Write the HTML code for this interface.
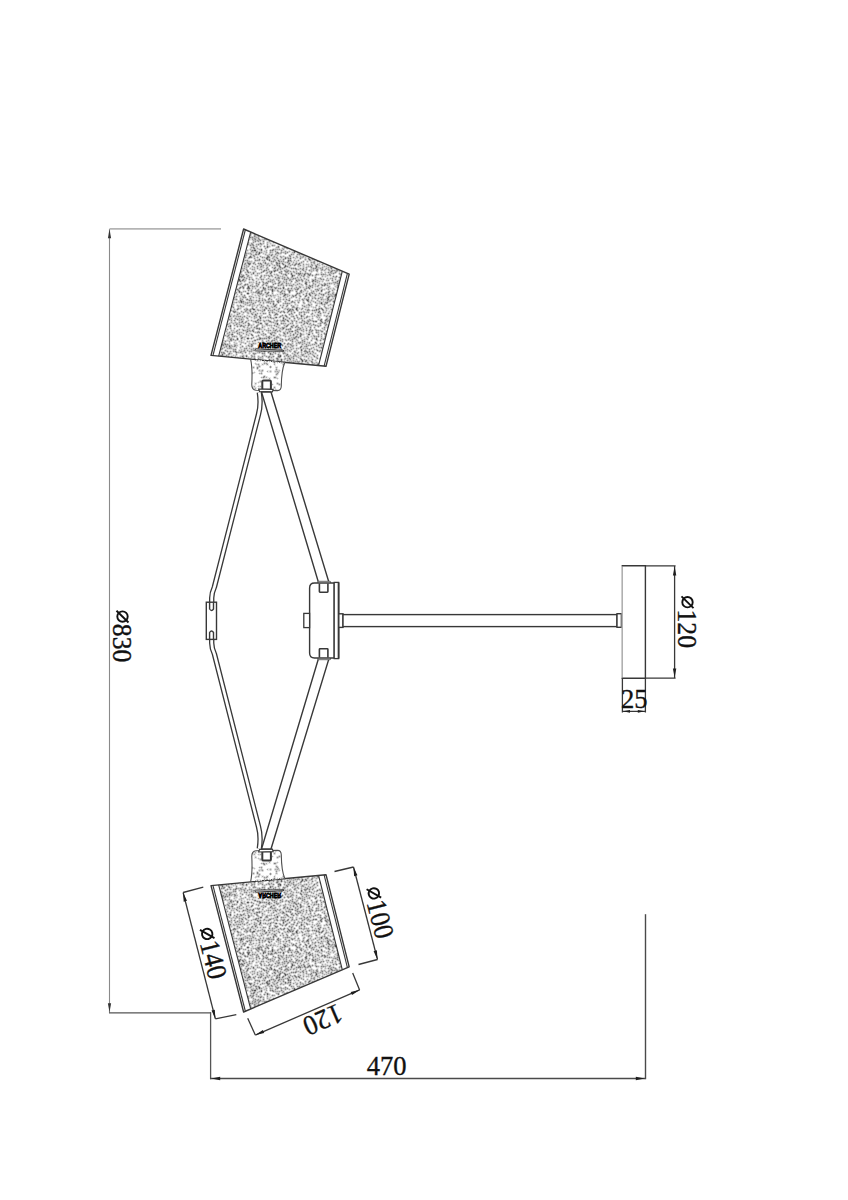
<!DOCTYPE html><html><head><meta charset="utf-8"><style>html,body{margin:0;padding:0;background:#fff;}svg{display:block;}</style></head><body><svg width="848" height="1200" viewBox="0 0 848 1200">
<defs>
<pattern id="stip" x="211" y="229" width="144" height="144" patternUnits="userSpaceOnUse"><path d="M12 0.5H13M14 0.5H15M20 0.5H21M30 0.5H31M33 0.5H34M37 0.5H38M39 0.5H40M43 0.5H45M55 0.5H56M59 0.5H61M62 0.5H63M73 0.5H74M80 0.5H81M82 0.5H83M88 0.5H89M92 0.5H93M94 0.5H96M97 0.5H99M104 0.5H105M106 0.5H107M110 0.5H111M112 0.5H113M116 0.5H117M118 0.5H119M139 0.5H140M141 0.5H142M21 1.5H23M36 1.5H38M39 1.5H41M56 1.5H57M65 1.5H66M71 1.5H72M84 1.5H85M86 1.5H87M95 1.5H96M101 1.5H102M103 1.5H104M107 1.5H108M109 1.5H110M111 1.5H114M115 1.5H116M120 1.5H121M134 1.5H135M136 1.5H137M23 2.5H24M30 2.5H33M41 2.5H42M54 2.5H55M57 2.5H58M65 2.5H66M78 2.5H80M92 2.5H93M96 2.5H97M102 2.5H103M107 2.5H108M109 2.5H110M116 2.5H117M120 2.5H121M125 2.5H126M128 2.5H129M133 2.5H135M136 2.5H138M140 2.5H141M4 3.5H5M21 3.5H22M26 3.5H27M29 3.5H30M41 3.5H42M45 3.5H46M50 3.5H51M55 3.5H56M57 3.5H58M68 3.5H69M70 3.5H72M74 3.5H76M77 3.5H79M116 3.5H117M121 3.5H122M124 3.5H125M133 3.5H134M5 4.5H6M14 4.5H16M17 4.5H18M21 4.5H22M45 4.5H46M50 4.5H52M54 4.5H55M68 4.5H69M71 4.5H72M76 4.5H78M90 4.5H91M94 4.5H95M96 4.5H97M98 4.5H99M120 4.5H121M132 4.5H133M136 4.5H137M138 4.5H139M140 4.5H142M6 5.5H7M15 5.5H16M31 5.5H32M41 5.5H42M55 5.5H56M70 5.5H71M80 5.5H81M89 5.5H90M94 5.5H95M99 5.5H100M108 5.5H109M116 5.5H117M119 5.5H121M131 5.5H132M138 5.5H139M142 5.5H143M7 6.5H8M17 6.5H18M21 6.5H22M35 6.5H37M50 6.5H51M60 6.5H61M62 6.5H63M71 6.5H72M84 6.5H86M89 6.5H90M96 6.5H97M108 6.5H110M115 6.5H116M123 6.5H124M139 6.5H141M142 6.5H144M6 7.5H7M21 7.5H22M27 7.5H28M58 7.5H59M60 7.5H61M62 7.5H63M65 7.5H66M70 7.5H71M84 7.5H85M94 7.5H95M97 7.5H98M114 7.5H115M116 7.5H118M122 7.5H123M128 7.5H129M1 8.5H2M7 8.5H8M15 8.5H16M50 8.5H51M52 8.5H53M65 8.5H66M79 8.5H80M109 8.5H111M112 8.5H113M118 8.5H119M120 8.5H121M123 8.5H124M132 8.5H134M135 8.5H136M0 9.5H1M13 9.5H14M15 9.5H16M26 9.5H27M34 9.5H35M49 9.5H51M52 9.5H53M66 9.5H67M68 9.5H69M70 9.5H71M74 9.5H75M79 9.5H81M91 9.5H92M94 9.5H95M114 9.5H115M117 9.5H119M120 9.5H122M126 9.5H127M130 9.5H132M133 9.5H135M7 10.5H8M11 10.5H12M35 10.5H36M59 10.5H60M73 10.5H75M76 10.5H77M96 10.5H97M100 10.5H101M102 10.5H103M107 10.5H108M112 10.5H113M114 10.5H115M129 10.5H130M141 10.5H142M143 10.5H144M0 11.5H1M7 11.5H9M14 11.5H16M17 11.5H18M26 11.5H27M36 11.5H38M39 11.5H41M67 11.5H69M70 11.5H71M94 11.5H95M99 11.5H100M101 11.5H102M103 11.5H104M107 11.5H108M121 11.5H122M129 11.5H130M136 11.5H137M141 11.5H142M143 11.5H144M8 12.5H9M24 12.5H25M38 12.5H39M50 12.5H51M55 12.5H56M82 12.5H83M84 12.5H85M86 12.5H87M92 12.5H93M98 12.5H100M111 12.5H113M114 12.5H115M118 12.5H119M122 12.5H124M128 12.5H129M136 12.5H137M139 12.5H141M7 13.5H8M22 13.5H24M32 13.5H34M39 13.5H40M45 13.5H47M50 13.5H51M60 13.5H61M70 13.5H72M80 13.5H81M93 13.5H95M106 13.5H107M113 13.5H114M118 13.5H119M123 13.5H124M129 13.5H130M135 13.5H136M139 13.5H140M143 13.5H144M8 14.5H9M43 14.5H45M61 14.5H62M63 14.5H64M65 14.5H66M71 14.5H73M80 14.5H81M82 14.5H83M84 14.5H85M99 14.5H100M105 14.5H106M114 14.5H115M122 14.5H123M127 14.5H129M130 14.5H131M136 14.5H137M143 14.5H144M1 15.5H2M5 15.5H6M21 15.5H22M28 15.5H29M43 15.5H44M53 15.5H54M58 15.5H59M64 15.5H65M67 15.5H68M79 15.5H80M126 15.5H127M134 15.5H135M1 16.5H2M4 16.5H5M6 16.5H7M8 16.5H10M14 16.5H15M27 16.5H28M29 16.5H30M33 16.5H34M51 16.5H53M54 16.5H55M59 16.5H60M66 16.5H67M68 16.5H70M77 16.5H79M104 16.5H106M107 16.5H108M137 16.5H138M139 16.5H141M3 17.5H4M15 17.5H16M28 17.5H29M30 17.5H31M38 17.5H39M60 17.5H61M64 17.5H65M71 17.5H72M94 17.5H95M105 17.5H106M129 17.5H131M4 18.5H5M16 18.5H17M31 18.5H32M36 18.5H37M47 18.5H49M50 18.5H51M52 18.5H53M59 18.5H60M70 18.5H71M77 18.5H79M90 18.5H91M95 18.5H96M102 18.5H103M109 18.5H110M117 18.5H118M119 18.5H120M1 19.5H2M4 19.5H5M25 19.5H26M30 19.5H31M38 19.5H39M51 19.5H52M57 19.5H58M61 19.5H62M69 19.5H70M79 19.5H80M86 19.5H87M91 19.5H92M95 19.5H96M97 19.5H98M107 19.5H108M109 19.5H110M117 19.5H118M133 19.5H134M137 19.5H138M31 20.5H32M37 20.5H38M53 20.5H54M56 20.5H57M58 20.5H59M75 20.5H76M77 20.5H78M82 20.5H83M84 20.5H85M86 20.5H87M90 20.5H91M96 20.5H97M102 20.5H103M107 20.5H108M128 20.5H130M134 20.5H135M140 20.5H141M4 21.5H5M11 21.5H12M16 21.5H17M28 21.5H29M38 21.5H39M47 21.5H48M52 21.5H53M75 21.5H76M77 21.5H78M79 21.5H80M81 21.5H83M84 21.5H85M103 21.5H104M109 21.5H110M113 21.5H115M119 21.5H120M130 21.5H131M134 21.5H135M137 21.5H138M142 21.5H143M4 22.5H5M10 22.5H11M13 22.5H14M19 22.5H20M32 22.5H34M37 22.5H38M56 22.5H57M67 22.5H68M80 22.5H81M105 22.5H106M107 22.5H109M120 22.5H121M124 22.5H125M142 22.5H143M10 23.5H11M13 23.5H14M20 23.5H21M63 23.5H64M79 23.5H80M91 23.5H93M97 23.5H98M123 23.5H124M134 23.5H135M137 23.5H138M12 24.5H14M43 24.5H44M56 24.5H58M62 24.5H64M71 24.5H72M77 24.5H78M79 24.5H80M84 24.5H86M92 24.5H94M122 24.5H124M129 24.5H130M131 24.5H132M138 24.5H139M141 24.5H142M49 25.5H50M51 25.5H52M70 25.5H71M73 25.5H74M75 25.5H76M77 25.5H78M99 25.5H103M117 25.5H118M129 25.5H130M131 25.5H132M139 25.5H140M6 26.5H7M8 26.5H9M13 26.5H15M16 26.5H18M25 26.5H26M28 26.5H29M38 26.5H39M50 26.5H51M53 26.5H54M68 26.5H69M70 26.5H72M73 26.5H74M83 26.5H85M95 26.5H96M100 26.5H101M109 26.5H110M116 26.5H117M123 26.5H124M138 26.5H139M7 27.5H8M15 27.5H16M20 27.5H21M27 27.5H28M36 27.5H38M45 27.5H46M47 27.5H48M54 27.5H55M67 27.5H68M75 27.5H76M81 27.5H82M83 27.5H84M87 27.5H88M95 27.5H97M105 27.5H107M108 27.5H109M119 27.5H120M122 27.5H124M125 27.5H126M133 27.5H134M137 27.5H138M141 27.5H142M4 28.5H5M8 28.5H9M10 28.5H11M17 28.5H18M19 28.5H20M32 28.5H33M36 28.5H37M48 28.5H49M60 28.5H61M67 28.5H69M96 28.5H97M105 28.5H106M107 28.5H108M110 28.5H111M130 28.5H131M132 28.5H133M134 28.5H135M136 28.5H137M141 28.5H142M4 29.5H8M19 29.5H20M25 29.5H26M35 29.5H36M41 29.5H42M45 29.5H46M49 29.5H51M68 29.5H69M81 29.5H82M87 29.5H88M92 29.5H93M99 29.5H100M108 29.5H109M110 29.5H112M131 29.5H133M136 29.5H137M142 29.5H143M11 30.5H12M25 30.5H26M27 30.5H28M38 30.5H39M42 30.5H43M50 30.5H51M60 30.5H61M75 30.5H76M82 30.5H83M85 30.5H87M90 30.5H91M96 30.5H97M105 30.5H106M117 30.5H118M132 30.5H133M135 30.5H136M0 31.5H1M6 31.5H7M11 31.5H12M39 31.5H40M41 31.5H42M55 31.5H56M81 31.5H82M91 31.5H92M105 31.5H106M125 31.5H126M129 31.5H130M131 31.5H133M136 31.5H137M138 31.5H139M142 31.5H144M0 32.5H1M5 32.5H6M10 32.5H11M15 32.5H16M19 32.5H20M42 32.5H43M49 32.5H51M55 32.5H56M57 32.5H58M88 32.5H90M98 32.5H99M108 32.5H109M110 32.5H111M130 32.5H131M135 32.5H137M138 32.5H140M141 32.5H142M9 33.5H10M11 33.5H12M14 33.5H15M17 33.5H18M28 33.5H29M46 33.5H47M50 33.5H51M56 33.5H57M58 33.5H59M63 33.5H64M87 33.5H88M93 33.5H94M95 33.5H96M97 33.5H98M105 33.5H106M107 33.5H108M109 33.5H110M112 33.5H113M123 33.5H124M132 33.5H133M134 33.5H135M139 33.5H140M141 33.5H142M143 33.5H144M15 34.5H16M25 34.5H26M29 34.5H33M45 34.5H46M62 34.5H63M80 34.5H81M93 34.5H95M96 34.5H97M98 34.5H99M105 34.5H106M110 34.5H111M112 34.5H114M123 34.5H124M130 34.5H132M133 34.5H135M0 35.5H1M10 35.5H11M17 35.5H18M28 35.5H29M40 35.5H42M46 35.5H47M70 35.5H71M75 35.5H76M90 35.5H91M109 35.5H110M118 35.5H119M123 35.5H125M126 35.5H127M143 35.5H144M0 36.5H3M7 36.5H8M39 36.5H41M42 36.5H44M60 36.5H61M71 36.5H72M85 36.5H86M94 36.5H95M110 36.5H111M114 36.5H115M117 36.5H118M119 36.5H120M123 36.5H124M125 36.5H126M127 36.5H128M139 36.5H140M141 36.5H142M3 37.5H4M27 37.5H28M29 37.5H30M31 37.5H32M44 37.5H45M53 37.5H55M59 37.5H61M70 37.5H71M72 37.5H73M80 37.5H81M82 37.5H83M84 37.5H85M90 37.5H91M94 37.5H95M102 37.5H104M109 37.5H111M118 37.5H119M122 37.5H123M126 37.5H127M138 37.5H139M140 37.5H141M142 37.5H143M0 38.5H1M2 38.5H3M18 38.5H20M38 38.5H39M54 38.5H55M66 38.5H67M85 38.5H87M90 38.5H91M125 38.5H126M130 38.5H131M136 38.5H138M139 38.5H140M3 39.5H4M8 39.5H9M53 39.5H54M58 39.5H59M60 39.5H61M76 39.5H78M113 39.5H114M122 39.5H123M140 39.5H141M143 39.5H144M7 40.5H9M29 40.5H31M37 40.5H39M45 40.5H46M52 40.5H53M61 40.5H62M78 40.5H80M97 40.5H98M108 40.5H109M127 40.5H129M34 41.5H35M40 41.5H41M45 41.5H46M47 41.5H48M49 41.5H50M68 41.5H69M71 41.5H72M80 41.5H82M83 41.5H84M96 41.5H97M115 41.5H117M129 41.5H130M0 42.5H1M7 42.5H9M17 42.5H18M40 42.5H42M49 42.5H50M72 42.5H73M91 42.5H92M97 42.5H98M103 42.5H105M107 42.5H108M109 42.5H110M111 42.5H113M115 42.5H117M8 43.5H9M14 43.5H15M31 43.5H32M53 43.5H55M62 43.5H63M64 43.5H65M73 43.5H74M92 43.5H93M97 43.5H99M101 43.5H102M105 43.5H106M107 43.5H108M126 43.5H128M129 43.5H131M132 43.5H134M135 43.5H136M143 43.5H144M15 44.5H16M31 44.5H32M33 44.5H34M44 44.5H45M51 44.5H52M57 44.5H58M61 44.5H63M64 44.5H65M66 44.5H68M82 44.5H83M104 44.5H105M108 44.5H109M115 44.5H117M125 44.5H126M141 44.5H142M12 45.5H13M33 45.5H34M38 45.5H39M49 45.5H50M51 45.5H53M61 45.5H62M68 45.5H70M78 45.5H79M102 45.5H104M123 45.5H124M127 45.5H128M142 45.5H144M1 46.5H2M3 46.5H4M11 46.5H12M13 46.5H14M34 46.5H35M39 46.5H40M41 46.5H42M62 46.5H63M70 46.5H71M79 46.5H80M95 46.5H96M108 46.5H110M121 46.5H122M123 46.5H125M126 46.5H127M128 46.5H129M133 46.5H134M0 47.5H1M2 47.5H3M7 47.5H8M34 47.5H35M41 47.5H42M43 47.5H44M47 47.5H49M56 47.5H57M63 47.5H64M77 47.5H78M79 47.5H80M84 47.5H86M94 47.5H95M99 47.5H101M102 47.5H103M117 47.5H119M120 47.5H121M127 47.5H128M129 47.5H130M139 47.5H140M6 48.5H7M24 48.5H26M44 48.5H45M46 48.5H47M51 48.5H52M56 48.5H57M59 48.5H61M62 48.5H63M78 48.5H79M91 48.5H92M94 48.5H96M106 48.5H108M112 48.5H114M115 48.5H116M117 48.5H119M126 48.5H127M130 48.5H131M17 49.5H18M24 49.5H25M26 49.5H27M42 49.5H43M54 49.5H55M60 49.5H62M91 49.5H92M98 49.5H99M100 49.5H103M113 49.5H114M127 49.5H128M129 49.5H130M8 50.5H10M25 50.5H26M30 50.5H31M36 50.5H37M43 50.5H45M69 50.5H71M98 50.5H99M114 50.5H115M126 50.5H127M130 50.5H132M22 51.5H23M37 51.5H38M39 51.5H41M44 51.5H45M48 51.5H50M53 51.5H55M64 51.5H65M70 51.5H72M82 51.5H83M93 51.5H94M113 51.5H114M123 51.5H124M138 51.5H139M6 52.5H7M15 52.5H16M22 52.5H23M35 52.5H36M37 52.5H38M43 52.5H44M47 52.5H48M49 52.5H50M53 52.5H55M66 52.5H67M77 52.5H78M83 52.5H84M89 52.5H90M99 52.5H100M114 52.5H115M118 52.5H119M120 52.5H121M138 52.5H140M2 53.5H3M5 53.5H6M7 53.5H8M16 53.5H17M27 53.5H29M31 53.5H33M34 53.5H35M50 53.5H51M65 53.5H67M78 53.5H79M81 53.5H82M89 53.5H91M92 53.5H93M100 53.5H101M109 53.5H111M112 53.5H113M114 53.5H116M129 53.5H131M5 54.5H6M7 54.5H9M17 54.5H18M33 54.5H34M43 54.5H44M49 54.5H50M60 54.5H61M81 54.5H82M91 54.5H92M97 54.5H98M99 54.5H100M111 54.5H112M138 54.5H139M4 55.5H5M10 55.5H11M12 55.5H13M17 55.5H18M31 55.5H33M38 55.5H39M50 55.5H51M57 55.5H58M65 55.5H66M73 55.5H74M92 55.5H94M97 55.5H98M99 55.5H101M106 55.5H107M121 55.5H122M138 55.5H140M0 56.5H1M3 56.5H4M5 56.5H6M12 56.5H14M16 56.5H17M48 56.5H49M53 56.5H54M58 56.5H59M63 56.5H64M109 56.5H110M119 56.5H120M122 56.5H123M16 57.5H18M23 57.5H24M28 57.5H29M34 57.5H35M48 57.5H49M53 57.5H55M64 57.5H65M70 57.5H71M74 57.5H75M76 57.5H78M83 57.5H84M86 57.5H87M93 57.5H94M108 57.5H110M114 57.5H116M131 57.5H132M136 57.5H137M0 58.5H1M5 58.5H7M13 58.5H14M17 58.5H18M24 58.5H25M26 58.5H28M35 58.5H36M39 58.5H40M47 58.5H48M55 58.5H56M70 58.5H71M76 58.5H77M78 58.5H80M82 58.5H83M103 58.5H104M105 58.5H106M114 58.5H115M120 58.5H122M123 58.5H124M132 58.5H133M136 58.5H137M6 59.5H7M8 59.5H9M14 59.5H15M30 59.5H31M46 59.5H47M50 59.5H51M75 59.5H76M90 59.5H92M100 59.5H101M102 59.5H104M112 59.5H113M124 59.5H126M130 59.5H131M143 59.5H144M10 60.5H11M12 60.5H14M15 60.5H16M17 60.5H18M29 60.5H30M31 60.5H32M33 60.5H34M35 60.5H36M42 60.5H44M50 60.5H51M88 60.5H90M91 60.5H92M96 60.5H98M101 60.5H102M125 60.5H126M130 60.5H132M141 60.5H142M8 61.5H9M12 61.5H13M29 61.5H30M31 61.5H32M35 61.5H36M44 61.5H45M56 61.5H57M68 61.5H70M75 61.5H76M83 61.5H84M87 61.5H89M97 61.5H98M112 61.5H113M114 61.5H115M116 61.5H117M119 61.5H120M124 61.5H125M137 61.5H138M140 61.5H141M0 62.5H1M2 62.5H4M8 62.5H9M24 62.5H25M36 62.5H37M38 62.5H39M43 62.5H44M52 62.5H53M56 62.5H57M58 62.5H59M64 62.5H66M76 62.5H77M82 62.5H83M99 62.5H100M108 62.5H109M114 62.5H115M120 62.5H121M123 62.5H124M125 62.5H126M130 62.5H132M136 62.5H137M1 63.5H2M3 63.5H5M14 63.5H16M17 63.5H18M19 63.5H20M33 63.5H34M38 63.5H39M66 63.5H67M84 63.5H85M93 63.5H95M97 63.5H98M104 63.5H105M106 63.5H108M111 63.5H112M113 63.5H114M119 63.5H121M124 63.5H125M141 63.5H142M5 64.5H6M14 64.5H15M16 64.5H17M18 64.5H19M27 64.5H28M39 64.5H40M43 64.5H44M58 64.5H59M65 64.5H68M79 64.5H80M84 64.5H85M93 64.5H94M106 64.5H107M131 64.5H132M143 64.5H144M14 65.5H15M20 65.5H22M27 65.5H28M32 65.5H33M34 65.5H36M38 65.5H39M43 65.5H44M45 65.5H46M63 65.5H64M79 65.5H81M82 65.5H84M115 65.5H116M138 65.5H140M141 65.5H142M2 66.5H3M8 66.5H9M11 66.5H12M14 66.5H15M24 66.5H25M27 66.5H28M37 66.5H38M42 66.5H43M53 66.5H54M68 66.5H69M70 66.5H72M86 66.5H87M90 66.5H92M97 66.5H98M102 66.5H103M109 66.5H110M114 66.5H115M137 66.5H138M139 66.5H140M9 67.5H10M14 67.5H15M21 67.5H23M35 67.5H36M43 67.5H44M46 67.5H47M50 67.5H51M52 67.5H53M65 67.5H66M70 67.5H71M79 67.5H80M86 67.5H88M105 67.5H107M113 67.5H114M125 67.5H126M143 67.5H144M0 68.5H1M11 68.5H12M18 68.5H19M26 68.5H28M37 68.5H38M50 68.5H51M52 68.5H53M54 68.5H55M56 68.5H58M61 68.5H62M66 68.5H67M71 68.5H72M77 68.5H78M83 68.5H84M87 68.5H88M90 68.5H91M92 68.5H93M95 68.5H96M105 68.5H107M114 68.5H115M119 68.5H121M124 68.5H125M143 68.5H144M18 69.5H20M26 69.5H27M37 69.5H38M41 69.5H42M43 69.5H45M46 69.5H47M54 69.5H55M56 69.5H57M61 69.5H63M64 69.5H65M70 69.5H72M76 69.5H77M81 69.5H82M84 69.5H85M86 69.5H87M90 69.5H91M113 69.5H114M119 69.5H120M125 69.5H126M128 69.5H129M6 70.5H7M10 70.5H11M12 70.5H14M43 70.5H45M46 70.5H47M55 70.5H56M83 70.5H86M89 70.5H90M99 70.5H100M102 70.5H104M108 70.5H109M123 70.5H124M128 70.5H129M2 71.5H3M5 71.5H6M7 71.5H8M19 71.5H20M33 71.5H35M63 71.5H65M70 71.5H72M80 71.5H81M82 71.5H83M90 71.5H91M94 71.5H95M103 71.5H104M127 71.5H128M139 71.5H140M0 72.5H1M2 72.5H3M18 72.5H19M24 72.5H25M35 72.5H36M76 72.5H77M85 72.5H86M89 72.5H90M95 72.5H96M120 72.5H121M125 72.5H126M17 73.5H18M46 73.5H47M65 73.5H66M70 73.5H72M94 73.5H95M96 73.5H97M101 73.5H102M119 73.5H120M121 73.5H122M130 73.5H131M16 74.5H17M20 74.5H21M24 74.5H25M26 74.5H28M45 74.5H46M47 74.5H48M50 74.5H51M54 74.5H55M64 74.5H65M68 74.5H69M81 74.5H83M85 74.5H87M88 74.5H89M91 74.5H92M96 74.5H97M101 74.5H102M103 74.5H104M117 74.5H119M120 74.5H121M122 74.5H123M125 74.5H126M131 74.5H132M140 74.5H141M5 75.5H6M11 75.5H13M20 75.5H21M25 75.5H26M27 75.5H29M30 75.5H32M44 75.5H46M53 75.5H54M55 75.5H56M57 75.5H59M60 75.5H61M68 75.5H69M70 75.5H71M81 75.5H82M87 75.5H88M90 75.5H91M94 75.5H95M104 75.5H105M107 75.5H108M122 75.5H123M130 75.5H132M141 75.5H142M1 76.5H2M5 76.5H6M7 76.5H8M9 76.5H10M23 76.5H24M53 76.5H54M58 76.5H60M66 76.5H67M74 76.5H75M101 76.5H102M107 76.5H108M109 76.5H111M123 76.5H124M125 76.5H126M134 76.5H135M140 76.5H141M7 77.5H9M12 77.5H13M23 77.5H24M25 77.5H26M35 77.5H38M39 77.5H40M44 77.5H45M47 77.5H49M66 77.5H67M68 77.5H69M73 77.5H74M77 77.5H78M79 77.5H80M84 77.5H85M87 77.5H88M90 77.5H91M103 77.5H104M106 77.5H107M115 77.5H117M118 77.5H119M120 77.5H121M122 77.5H123M124 77.5H125M128 77.5H129M130 77.5H132M141 77.5H143M33 78.5H35M36 78.5H37M67 78.5H68M69 78.5H70M73 78.5H74M78 78.5H79M89 78.5H91M99 78.5H100M111 78.5H113M127 78.5H128M129 78.5H131M142 78.5H143M20 79.5H22M24 79.5H26M32 79.5H33M37 79.5H39M47 79.5H49M60 79.5H61M70 79.5H71M93 79.5H94M98 79.5H99M101 79.5H102M103 79.5H104M112 79.5H114M121 79.5H123M134 79.5H135M136 79.5H137M141 79.5H142M8 80.5H9M21 80.5H22M30 80.5H31M69 80.5H70M83 80.5H84M92 80.5H93M99 80.5H101M113 80.5H114M118 80.5H119M123 80.5H125M126 80.5H128M129 80.5H130M136 80.5H137M141 80.5H142M4 81.5H6M7 81.5H8M27 81.5H28M29 81.5H30M31 81.5H33M41 81.5H42M69 81.5H70M74 81.5H76M84 81.5H85M89 81.5H90M91 81.5H92M93 81.5H94M109 81.5H111M117 81.5H118M124 81.5H125M126 81.5H127M4 82.5H5M6 82.5H7M8 82.5H10M15 82.5H16M18 82.5H20M27 82.5H28M41 82.5H42M46 82.5H47M48 82.5H49M54 82.5H55M56 82.5H57M64 82.5H65M74 82.5H76M84 82.5H86M99 82.5H101M116 82.5H117M127 82.5H128M131 82.5H132M136 82.5H137M141 82.5H142M21 83.5H22M47 83.5H49M55 83.5H56M78 83.5H79M100 83.5H101M102 83.5H103M110 83.5H111M116 83.5H117M126 83.5H127M134 83.5H135M140 83.5H141M142 83.5H143M6 84.5H7M8 84.5H9M18 84.5H20M21 84.5H23M24 84.5H25M30 84.5H31M33 84.5H34M35 84.5H36M60 84.5H61M67 84.5H69M70 84.5H71M72 84.5H73M74 84.5H76M84 84.5H85M91 84.5H92M96 84.5H97M98 84.5H100M103 84.5H104M105 84.5H106M111 84.5H112M115 84.5H116M119 84.5H120M124 84.5H126M135 84.5H137M140 84.5H141M5 85.5H7M22 85.5H23M24 85.5H25M29 85.5H30M35 85.5H36M38 85.5H40M47 85.5H49M55 85.5H56M60 85.5H61M62 85.5H63M70 85.5H71M72 85.5H74M75 85.5H76M84 85.5H85M86 85.5H87M91 85.5H92M104 85.5H105M112 85.5H113M114 85.5H116M118 85.5H120M34 86.5H35M39 86.5H41M47 86.5H48M55 86.5H56M67 86.5H69M76 86.5H78M83 86.5H84M87 86.5H88M94 86.5H96M97 86.5H100M133 86.5H134M135 86.5H137M15 87.5H17M41 87.5H42M51 87.5H52M62 87.5H63M66 87.5H68M77 87.5H78M84 87.5H85M87 87.5H88M94 87.5H95M110 87.5H111M112 87.5H113M127 87.5H128M135 87.5H136M141 87.5H142M0 88.5H1M2 88.5H3M47 88.5H48M70 88.5H71M74 88.5H75M84 88.5H85M99 88.5H101M102 88.5H103M104 88.5H105M114 88.5H115M130 88.5H131M136 88.5H137M1 89.5H2M3 89.5H5M12 89.5H14M15 89.5H17M33 89.5H35M39 89.5H40M41 89.5H42M51 89.5H52M55 89.5H57M66 89.5H70M85 89.5H86M96 89.5H98M99 89.5H100M105 89.5H106M111 89.5H112M114 89.5H115M122 89.5H124M125 89.5H126M141 89.5H142M143 89.5H144M5 90.5H6M7 90.5H8M22 90.5H23M35 90.5H36M38 90.5H40M41 90.5H43M44 90.5H46M51 90.5H52M53 90.5H55M58 90.5H60M61 90.5H62M64 90.5H66M67 90.5H69M70 90.5H71M81 90.5H82M94 90.5H96M102 90.5H103M113 90.5H114M15 91.5H16M25 91.5H26M33 91.5H35M60 91.5H61M78 91.5H79M88 91.5H89M94 91.5H95M125 91.5H126M134 91.5H136M137 91.5H139M14 92.5H15M22 92.5H23M25 92.5H26M33 92.5H34M38 92.5H40M50 92.5H52M67 92.5H69M75 92.5H76M79 92.5H80M87 92.5H88M108 92.5H109M112 92.5H113M118 92.5H119M135 92.5H137M5 93.5H6M9 93.5H10M11 93.5H12M13 93.5H14M17 93.5H18M38 93.5H39M41 93.5H42M51 93.5H53M67 93.5H68M75 93.5H77M100 93.5H102M106 93.5H108M117 93.5H118M140 93.5H142M143 93.5H144M5 94.5H7M8 94.5H9M14 94.5H15M35 94.5H36M39 94.5H40M41 94.5H42M43 94.5H45M59 94.5H60M61 94.5H62M76 94.5H77M87 94.5H88M101 94.5H102M103 94.5H104M116 94.5H117M131 94.5H132M140 94.5H141M2 95.5H3M7 95.5H8M9 95.5H10M11 95.5H12M20 95.5H22M35 95.5H36M45 95.5H46M52 95.5H54M61 95.5H63M83 95.5H85M87 95.5H88M89 95.5H90M94 95.5H96M112 95.5H113M118 95.5H119M126 95.5H127M132 95.5H133M2 96.5H4M13 96.5H14M43 96.5H45M48 96.5H49M78 96.5H80M84 96.5H85M95 96.5H97M126 96.5H127M129 96.5H130M143 96.5H144M5 97.5H6M11 97.5H12M22 97.5H23M24 97.5H25M35 97.5H36M38 97.5H39M42 97.5H43M47 97.5H48M55 97.5H56M57 97.5H58M61 97.5H63M69 97.5H71M77 97.5H78M88 97.5H90M92 97.5H93M101 97.5H103M110 97.5H111M112 97.5H113M121 97.5H122M132 97.5H134M136 97.5H137M2 98.5H6M7 98.5H8M9 98.5H10M16 98.5H17M22 98.5H23M24 98.5H26M27 98.5H29M30 98.5H32M49 98.5H50M54 98.5H55M56 98.5H57M58 98.5H59M63 98.5H65M76 98.5H77M78 98.5H79M93 98.5H94M106 98.5H107M108 98.5H109M110 98.5H111M118 98.5H119M122 98.5H123M132 98.5H133M140 98.5H141M0 99.5H1M3 99.5H4M5 99.5H6M7 99.5H8M9 99.5H11M12 99.5H13M17 99.5H18M27 99.5H28M29 99.5H31M32 99.5H33M34 99.5H35M54 99.5H55M59 99.5H60M64 99.5H65M82 99.5H84M93 99.5H94M102 99.5H103M105 99.5H106M115 99.5H116M118 99.5H120M125 99.5H126M141 99.5H142M1 100.5H2M3 100.5H4M5 100.5H6M13 100.5H14M18 100.5H19M21 100.5H22M24 100.5H26M40 100.5H41M44 100.5H45M60 100.5H61M67 100.5H68M73 100.5H74M83 100.5H84M97 100.5H98M102 100.5H103M108 100.5H109M110 100.5H111M129 100.5H130M0 101.5H1M9 101.5H11M12 101.5H13M14 101.5H15M17 101.5H18M24 101.5H25M29 101.5H31M46 101.5H47M49 101.5H50M72 101.5H74M82 101.5H83M103 101.5H104M119 101.5H120M132 101.5H134M143 101.5H144M9 102.5H12M17 102.5H18M49 102.5H50M54 102.5H55M71 102.5H72M88 102.5H90M94 102.5H95M96 102.5H97M102 102.5H103M119 102.5H120M136 102.5H137M141 102.5H142M2 103.5H3M11 103.5H12M14 103.5H15M33 103.5H34M40 103.5H42M50 103.5H51M53 103.5H54M67 103.5H69M70 103.5H71M82 103.5H83M90 103.5H92M93 103.5H95M96 103.5H97M102 103.5H103M109 103.5H110M116 103.5H117M130 103.5H132M141 103.5H142M143 103.5H144M2 104.5H4M6 104.5H7M11 104.5H12M24 104.5H25M41 104.5H42M43 104.5H44M55 104.5H57M67 104.5H68M69 104.5H70M71 104.5H72M81 104.5H82M93 104.5H95M104 104.5H105M109 104.5H110M111 104.5H112M122 104.5H123M130 104.5H131M142 104.5H143M11 105.5H12M13 105.5H14M25 105.5H26M33 105.5H34M42 105.5H43M46 105.5H47M48 105.5H49M58 105.5H59M65 105.5H66M70 105.5H72M77 105.5H78M94 105.5H95M100 105.5H101M103 105.5H104M112 105.5H113M123 105.5H124M139 105.5H140M143 105.5H144M3 106.5H4M8 106.5H9M19 106.5H20M26 106.5H28M33 106.5H34M39 106.5H40M44 106.5H45M49 106.5H50M56 106.5H58M65 106.5H66M67 106.5H68M76 106.5H77M84 106.5H85M87 106.5H88M93 106.5H94M95 106.5H96M99 106.5H100M125 106.5H126M133 106.5H134M137 106.5H138M13 107.5H14M19 107.5H20M36 107.5H37M38 107.5H39M40 107.5H41M43 107.5H44M49 107.5H50M51 107.5H52M53 107.5H54M70 107.5H72M92 107.5H93M94 107.5H95M98 107.5H99M123 107.5H124M129 107.5H131M5 108.5H6M13 108.5H14M15 108.5H16M27 108.5H29M38 108.5H40M44 108.5H45M46 108.5H47M62 108.5H63M70 108.5H71M73 108.5H74M75 108.5H77M91 108.5H92M99 108.5H100M108 108.5H109M112 108.5H113M128 108.5H129M140 108.5H141M142 108.5H143M4 109.5H5M23 109.5H24M34 109.5H35M43 109.5H44M45 109.5H46M61 109.5H62M72 109.5H74M75 109.5H77M88 109.5H89M92 109.5H93M98 109.5H99M115 109.5H116M134 109.5H135M143 109.5H144M0 110.5H1M4 110.5H5M6 110.5H7M10 110.5H12M13 110.5H14M15 110.5H16M35 110.5H36M38 110.5H40M41 110.5H43M59 110.5H61M87 110.5H88M89 110.5H90M99 110.5H100M102 110.5H103M107 110.5H109M115 110.5H116M123 110.5H124M138 110.5H140M0 111.5H2M8 111.5H9M10 111.5H11M32 111.5H33M34 111.5H36M37 111.5H38M39 111.5H41M49 111.5H50M54 111.5H55M59 111.5H60M67 111.5H68M73 111.5H74M83 111.5H84M95 111.5H96M97 111.5H98M104 111.5H105M111 111.5H112M118 111.5H120M123 111.5H124M125 111.5H126M4 112.5H5M6 112.5H7M21 112.5H23M25 112.5H26M33 112.5H34M45 112.5H47M48 112.5H49M53 112.5H54M68 112.5H69M74 112.5H75M76 112.5H77M78 112.5H79M95 112.5H96M97 112.5H98M101 112.5H102M103 112.5H104M107 112.5H109M110 112.5H111M112 112.5H113M117 112.5H118M120 112.5H121M128 112.5H129M141 112.5H142M3 113.5H4M5 113.5H6M15 113.5H16M17 113.5H18M19 113.5H20M26 113.5H28M39 113.5H41M45 113.5H46M54 113.5H55M61 113.5H62M67 113.5H69M74 113.5H75M76 113.5H77M78 113.5H79M83 113.5H84M106 113.5H107M108 113.5H109M124 113.5H125M128 113.5H129M140 113.5H141M142 113.5H143M3 114.5H4M22 114.5H23M28 114.5H29M31 114.5H32M46 114.5H47M53 114.5H54M55 114.5H56M60 114.5H61M62 114.5H63M65 114.5H66M71 114.5H72M75 114.5H76M100 114.5H101M131 114.5H133M135 114.5H136M21 115.5H22M27 115.5H28M33 115.5H34M35 115.5H37M45 115.5H47M48 115.5H49M67 115.5H68M74 115.5H75M83 115.5H84M87 115.5H88M89 115.5H90M113 115.5H114M126 115.5H127M136 115.5H137M141 115.5H143M5 116.5H6M27 116.5H29M32 116.5H33M34 116.5H35M50 116.5H51M52 116.5H54M65 116.5H66M73 116.5H74M89 116.5H90M138 116.5H139M5 117.5H6M27 117.5H29M42 117.5H43M46 117.5H47M48 117.5H49M59 117.5H61M69 117.5H71M72 117.5H73M83 117.5H85M86 117.5H87M88 117.5H89M98 117.5H99M100 117.5H102M103 117.5H104M112 117.5H114M124 117.5H126M132 117.5H133M138 117.5H140M6 118.5H7M26 118.5H27M37 118.5H38M43 118.5H44M45 118.5H46M47 118.5H48M60 118.5H61M62 118.5H63M69 118.5H70M72 118.5H73M83 118.5H85M97 118.5H98M99 118.5H100M104 118.5H105M106 118.5H107M112 118.5H113M115 118.5H116M120 118.5H121M130 118.5H131M140 118.5H141M142 118.5H144M5 119.5H6M14 119.5H15M26 119.5H27M28 119.5H29M31 119.5H32M48 119.5H49M50 119.5H51M55 119.5H56M71 119.5H72M77 119.5H79M104 119.5H105M106 119.5H108M114 119.5H117M119 119.5H120M129 119.5H130M131 119.5H132M138 119.5H139M141 119.5H142M5 120.5H6M12 120.5H14M27 120.5H28M48 120.5H49M51 120.5H52M65 120.5H66M72 120.5H73M83 120.5H85M88 120.5H89M101 120.5H102M107 120.5H109M115 120.5H117M120 120.5H121M130 120.5H131M137 120.5H139M140 120.5H141M11 121.5H12M17 121.5H19M20 121.5H21M49 121.5H50M59 121.5H60M72 121.5H73M81 121.5H83M92 121.5H93M96 121.5H97M100 121.5H101M104 121.5H105M119 121.5H120M141 121.5H142M2 122.5H3M45 122.5H46M55 122.5H57M86 122.5H87M88 122.5H89M103 122.5H104M105 122.5H106M111 122.5H112M122 122.5H124M0 123.5H1M14 123.5H16M21 123.5H22M37 123.5H38M70 123.5H71M75 123.5H76M77 123.5H79M80 123.5H81M92 123.5H93M105 123.5H106M107 123.5H108M131 123.5H132M136 123.5H138M7 124.5H8M9 124.5H10M16 124.5H17M33 124.5H34M35 124.5H36M49 124.5H50M56 124.5H57M66 124.5H67M69 124.5H70M77 124.5H78M88 124.5H90M109 124.5H110M121 124.5H122M123 124.5H124M131 124.5H132M138 124.5H139M0 125.5H1M8 125.5H9M21 125.5H22M23 125.5H24M30 125.5H31M33 125.5H35M36 125.5H38M39 125.5H40M45 125.5H46M50 125.5H51M63 125.5H64M65 125.5H66M70 125.5H72M78 125.5H79M80 125.5H81M88 125.5H89M95 125.5H96M107 125.5H108M113 125.5H114M115 125.5H116M135 125.5H137M19 126.5H20M26 126.5H27M28 126.5H29M44 126.5H45M46 126.5H47M48 126.5H49M50 126.5H51M56 126.5H58M63 126.5H64M72 126.5H73M81 126.5H82M99 126.5H101M104 126.5H105M115 126.5H116M123 126.5H124M27 127.5H28M38 127.5H40M101 127.5H102M107 127.5H108M113 127.5H114M118 127.5H119M128 127.5H129M141 127.5H142M11 128.5H13M16 128.5H17M34 128.5H35M54 128.5H55M63 128.5H65M70 128.5H71M72 128.5H73M75 128.5H76M84 128.5H85M92 128.5H93M102 128.5H103M107 128.5H109M140 128.5H141M142 128.5H143M2 129.5H3M13 129.5H14M16 129.5H17M31 129.5H32M34 129.5H35M36 129.5H37M41 129.5H42M56 129.5H57M63 129.5H64M71 129.5H73M84 129.5H85M86 129.5H87M91 129.5H93M94 129.5H95M99 129.5H100M102 129.5H103M104 129.5H105M128 129.5H129M1 130.5H2M3 130.5H4M9 130.5H13M25 130.5H27M36 130.5H38M46 130.5H47M52 130.5H54M55 130.5H56M64 130.5H65M88 130.5H89M99 130.5H100M103 130.5H104M107 130.5H109M112 130.5H114M120 130.5H122M123 130.5H124M125 130.5H126M129 130.5H130M134 130.5H135M139 130.5H140M143 130.5H144M0 131.5H1M7 131.5H8M20 131.5H21M27 131.5H28M31 131.5H33M41 131.5H42M46 131.5H47M48 131.5H49M50 131.5H51M56 131.5H57M72 131.5H73M74 131.5H75M87 131.5H88M102 131.5H103M109 131.5H110M113 131.5H114M117 131.5H118M121 131.5H122M123 131.5H124M126 131.5H127M134 131.5H135M8 132.5H9M10 132.5H11M13 132.5H14M18 132.5H19M20 132.5H21M33 132.5H35M42 132.5H43M44 132.5H45M51 132.5H52M57 132.5H58M65 132.5H66M75 132.5H76M102 132.5H104M106 132.5H107M110 132.5H111M114 132.5H115M116 132.5H117M118 132.5H119M120 132.5H121M125 132.5H126M136 132.5H137M143 132.5H144M0 133.5H1M4 133.5H5M16 133.5H18M19 133.5H20M35 133.5H36M41 133.5H43M49 133.5H51M56 133.5H57M58 133.5H59M60 133.5H61M63 133.5H65M75 133.5H77M92 133.5H94M98 133.5H100M108 133.5H109M126 133.5H128M136 133.5H137M3 134.5H4M6 134.5H7M29 134.5H30M31 134.5H32M34 134.5H35M36 134.5H37M40 134.5H41M56 134.5H57M58 134.5H60M68 134.5H70M80 134.5H82M83 134.5H85M88 134.5H89M93 134.5H94M95 134.5H96M109 134.5H110M129 134.5H131M137 134.5H138M5 135.5H6M15 135.5H16M21 135.5H22M23 135.5H24M25 135.5H26M28 135.5H30M31 135.5H32M37 135.5H38M39 135.5H40M49 135.5H51M66 135.5H68M72 135.5H73M76 135.5H77M83 135.5H84M87 135.5H88M96 135.5H97M98 135.5H99M104 135.5H105M131 135.5H132M134 135.5H135M136 135.5H137M138 135.5H140M6 136.5H7M8 136.5H9M10 136.5H11M24 136.5H25M28 136.5H29M38 136.5H39M40 136.5H41M51 136.5H52M75 136.5H76M86 136.5H87M94 136.5H95M103 136.5H104M113 136.5H114M117 136.5H118M120 136.5H121M130 136.5H131M3 137.5H4M5 137.5H6M7 137.5H8M21 137.5H23M27 137.5H28M31 137.5H32M42 137.5H43M52 137.5H53M56 137.5H57M75 137.5H76M112 137.5H113M117 137.5H119M120 137.5H122M123 137.5H124M127 137.5H128M131 137.5H132M134 137.5H136M1 138.5H2M3 138.5H5M9 138.5H11M28 138.5H29M30 138.5H31M32 138.5H33M39 138.5H40M41 138.5H42M47 138.5H49M52 138.5H54M55 138.5H57M59 138.5H61M62 138.5H63M70 138.5H71M107 138.5H108M113 138.5H114M128 138.5H129M143 138.5H144M0 139.5H1M19 139.5H20M27 139.5H29M30 139.5H31M60 139.5H62M69 139.5H70M77 139.5H79M80 139.5H81M85 139.5H86M90 139.5H91M108 139.5H109M117 139.5H119M129 139.5H130M137 139.5H139M9 140.5H10M27 140.5H28M31 140.5H32M33 140.5H35M53 140.5H54M65 140.5H67M68 140.5H70M79 140.5H80M81 140.5H82M86 140.5H87M91 140.5H92M95 140.5H96M119 140.5H120M130 140.5H131M139 140.5H140M9 141.5H10M15 141.5H16M17 141.5H18M22 141.5H24M28 141.5H29M39 141.5H40M45 141.5H47M48 141.5H49M50 141.5H51M52 141.5H53M85 141.5H86M90 141.5H91M92 141.5H93M94 141.5H95M129 141.5H130M14 142.5H15M16 142.5H17M18 142.5H19M20 142.5H21M22 142.5H23M28 142.5H29M39 142.5H40M45 142.5H46M51 142.5H52M62 142.5H63M66 142.5H67M68 142.5H69M78 142.5H80M81 142.5H83M86 142.5H87M88 142.5H90M91 142.5H92M108 142.5H109M110 142.5H111M125 142.5H126M130 142.5H131M142 142.5H144M7 143.5H8M12 143.5H13M29 143.5H30M31 143.5H33M36 143.5H37M44 143.5H45M52 143.5H53M54 143.5H55M58 143.5H60M61 143.5H62M63 143.5H64M68 143.5H69M73 143.5H74M83 143.5H84M85 143.5H86M92 143.5H93M94 143.5H95M98 143.5H99M109 143.5H110M114 143.5H115M118 143.5H119M126 143.5H127M133 143.5H135M140 143.5H141" stroke="#eeeeee" stroke-width="1"/><path d="M4 0.5H7M8 0.5H12M15 0.5H17M18 0.5H20M28 0.5H30M36 0.5H37M38 0.5H39M40 0.5H41M52 0.5H53M61 0.5H62M63 0.5H64M66 0.5H67M81 0.5H82M91 0.5H92M93 0.5H94M100 0.5H101M107 0.5H108M109 0.5H110M111 0.5H112M123 0.5H124M125 0.5H126M128 0.5H129M130 0.5H131M134 0.5H135M142 0.5H144M0 1.5H1M9 1.5H11M12 1.5H13M14 1.5H15M23 1.5H25M30 1.5H31M33 1.5H34M38 1.5H39M52 1.5H53M59 1.5H60M70 1.5H71M80 1.5H81M87 1.5H88M108 1.5H109M114 1.5H115M125 1.5H126M128 1.5H129M130 1.5H131M133 1.5H134M135 1.5H136M137 1.5H138M139 1.5H140M141 1.5H142M143 1.5H144M0 2.5H1M11 2.5H13M14 2.5H15M24 2.5H25M26 2.5H27M33 2.5H34M36 2.5H37M39 2.5H40M46 2.5H47M53 2.5H54M70 2.5H71M74 2.5H75M98 2.5H99M100 2.5H101M103 2.5H104M108 2.5H109M110 2.5H112M118 2.5H120M124 2.5H125M129 2.5H131M132 2.5H133M139 2.5H140M141 2.5H142M143 2.5H144M2 3.5H3M5 3.5H6M11 3.5H12M15 3.5H16M17 3.5H18M23 3.5H24M25 3.5H26M30 3.5H31M32 3.5H34M39 3.5H41M42 3.5H43M51 3.5H53M54 3.5H55M56 3.5H57M69 3.5H70M76 3.5H77M89 3.5H94M96 3.5H97M98 3.5H99M113 3.5H114M115 3.5H116M117 3.5H119M120 3.5H121M130 3.5H131M132 3.5H133M138 3.5H139M140 3.5H141M3 4.5H4M6 4.5H7M16 4.5H17M18 4.5H19M20 4.5H21M22 4.5H25M30 4.5H33M41 4.5H43M44 4.5H45M46 4.5H48M52 4.5H54M55 4.5H56M61 4.5H63M84 4.5H85M93 4.5H94M95 4.5H96M97 4.5H98M99 4.5H100M103 4.5H104M109 4.5H110M118 4.5H120M125 4.5H127M128 4.5H129M130 4.5H132M133 4.5H134M139 4.5H140M0 5.5H1M13 5.5H14M18 5.5H19M21 5.5H22M35 5.5H37M42 5.5H43M45 5.5H46M47 5.5H49M50 5.5H52M53 5.5H54M62 5.5H63M69 5.5H70M77 5.5H78M81 5.5H82M84 5.5H85M96 5.5H97M98 5.5H99M102 5.5H103M104 5.5H105M109 5.5H110M117 5.5H119M121 5.5H123M132 5.5H134M136 5.5H138M0 6.5H2M8 6.5H10M18 6.5H19M20 6.5H21M27 6.5H29M40 6.5H41M42 6.5H43M45 6.5H47M48 6.5H50M51 6.5H54M55 6.5H56M58 6.5H59M65 6.5H66M70 6.5H71M76 6.5H77M79 6.5H81M94 6.5H95M97 6.5H99M117 6.5H118M122 6.5H123M128 6.5H129M130 6.5H131M141 6.5H142M1 7.5H3M9 7.5H10M13 7.5H14M26 7.5H27M28 7.5H29M36 7.5H37M48 7.5H49M50 7.5H51M52 7.5H53M66 7.5H67M68 7.5H70M71 7.5H72M79 7.5H80M83 7.5H84M85 7.5H87M110 7.5H111M113 7.5H114M115 7.5H116M121 7.5H122M123 7.5H124M129 7.5H130M142 7.5H144M0 8.5H1M2 8.5H3M8 8.5H9M13 8.5H14M20 8.5H21M26 8.5H27M28 8.5H29M33 8.5H34M35 8.5H37M48 8.5H49M51 8.5H52M53 8.5H54M60 8.5H61M62 8.5H63M70 8.5H71M80 8.5H81M83 8.5H85M86 8.5H88M100 8.5H101M114 8.5H115M116 8.5H117M119 8.5H120M125 8.5H128M134 8.5H135M143 8.5H144M1 9.5H2M6 9.5H8M11 9.5H13M16 9.5H17M23 9.5H25M28 9.5H29M35 9.5H36M37 9.5H38M51 9.5H52M58 9.5H59M60 9.5H63M65 9.5H66M73 9.5H74M76 9.5H77M81 9.5H84M87 9.5H88M97 9.5H98M99 9.5H101M103 9.5H105M109 9.5H111M112 9.5H113M122 9.5H123M127 9.5H128M132 9.5H133M136 9.5H137M139 9.5H141M0 10.5H1M3 10.5H4M15 10.5H16M17 10.5H18M20 10.5H21M26 10.5H27M31 10.5H32M36 10.5H38M39 10.5H41M58 10.5H59M62 10.5H64M65 10.5H66M71 10.5H72M77 10.5H78M79 10.5H81M90 10.5H92M94 10.5H95M99 10.5H100M101 10.5H102M108 10.5H110M113 10.5H114M121 10.5H122M3 11.5H4M12 11.5H14M16 11.5H17M25 11.5H26M27 11.5H28M31 11.5H33M34 11.5H36M38 11.5H39M54 11.5H57M69 11.5H70M77 11.5H78M80 11.5H83M85 11.5H87M92 11.5H94M95 11.5H96M102 11.5H103M104 11.5H105M106 11.5H107M108 11.5H109M112 11.5H113M114 11.5H116M117 11.5H118M122 11.5H123M130 11.5H131M1 12.5H2M7 12.5H8M15 12.5H17M18 12.5H19M23 12.5H24M26 12.5H27M32 12.5H33M34 12.5H35M36 12.5H38M41 12.5H42M56 12.5H57M60 12.5H61M64 12.5H65M68 12.5H69M70 12.5H71M80 12.5H81M83 12.5H84M94 12.5H95M100 12.5H101M107 12.5H108M113 12.5H114M117 12.5H118M120 12.5H122M124 12.5H126M129 12.5H130M135 12.5H136M1 13.5H2M6 13.5H7M8 13.5H9M19 13.5H20M26 13.5H27M28 13.5H29M38 13.5H39M40 13.5H41M47 13.5H49M51 13.5H52M53 13.5H54M55 13.5H56M59 13.5H60M61 13.5H62M63 13.5H64M68 13.5H70M72 13.5H73M86 13.5H87M91 13.5H92M97 13.5H98M99 13.5H100M107 13.5H108M111 13.5H112M114 13.5H115M117 13.5H118M119 13.5H120M122 13.5H123M124 13.5H125M127 13.5H128M130 13.5H132M133 13.5H135M136 13.5H137M138 13.5H139M14 14.5H15M21 14.5H22M23 14.5H24M28 14.5H30M32 14.5H33M38 14.5H40M45 14.5H47M53 14.5H54M55 14.5H56M57 14.5H59M60 14.5H61M62 14.5H63M69 14.5H71M73 14.5H74M75 14.5H76M79 14.5H80M81 14.5H82M94 14.5H96M97 14.5H98M101 14.5H103M104 14.5H105M106 14.5H107M118 14.5H119M126 14.5H127M129 14.5H130M137 14.5H138M139 14.5H140M3 15.5H4M9 15.5H10M19 15.5H21M22 15.5H24M26 15.5H28M29 15.5H30M44 15.5H45M52 15.5H53M55 15.5H56M57 15.5H58M59 15.5H61M62 15.5H64M68 15.5H70M77 15.5H79M84 15.5H85M97 15.5H98M99 15.5H100M101 15.5H102M105 15.5H106M114 15.5H116M117 15.5H118M122 15.5H123M131 15.5H134M137 15.5H138M140 15.5H141M5 16.5H6M7 16.5H8M12 16.5H14M15 16.5H16M21 16.5H22M25 16.5H26M30 16.5H33M34 16.5H35M36 16.5H38M44 16.5H45M48 16.5H49M55 16.5H56M57 16.5H59M64 16.5H65M67 16.5H68M70 16.5H72M79 16.5H80M82 16.5H83M84 16.5H85M98 16.5H100M106 16.5H107M108 16.5H109M111 16.5H114M115 16.5H117M122 16.5H123M125 16.5H126M129 16.5H130M135 16.5H137M138 16.5H139M4 17.5H5M8 17.5H10M12 17.5H13M16 17.5H18M19 17.5H22M29 17.5H30M34 17.5H35M36 17.5H37M43 17.5H44M48 17.5H49M50 17.5H51M59 17.5H60M62 17.5H64M65 17.5H66M72 17.5H73M76 17.5H77M78 17.5H79M84 17.5H85M87 17.5H89M90 17.5H91M102 17.5H105M106 17.5H108M113 17.5H115M118 17.5H119M122 17.5H123M124 17.5H126M138 17.5H140M5 18.5H9M12 18.5H15M17 18.5H18M25 18.5H26M27 18.5H28M30 18.5H31M32 18.5H34M44 18.5H45M49 18.5H50M58 18.5H59M64 18.5H65M71 18.5H72M79 18.5H80M83 18.5H87M89 18.5H90M91 18.5H92M93 18.5H94M97 18.5H99M107 18.5H109M110 18.5H111M115 18.5H117M120 18.5H122M124 18.5H125M129 18.5H132M133 18.5H134M0 19.5H1M5 19.5H7M8 19.5H9M11 19.5H12M17 19.5H20M23 19.5H24M26 19.5H27M31 19.5H32M41 19.5H42M45 19.5H46M48 19.5H50M53 19.5H54M56 19.5H57M62 19.5H64M70 19.5H71M74 19.5H75M77 19.5H78M84 19.5H85M87 19.5H88M90 19.5H91M93 19.5H95M98 19.5H99M101 19.5H102M110 19.5H112M116 19.5H117M132 19.5H133M134 19.5H135M138 19.5H140M16 20.5H17M24 20.5H26M27 20.5H31M32 20.5H34M35 20.5H37M38 20.5H39M45 20.5H47M55 20.5H56M60 20.5H61M73 20.5H74M76 20.5H77M79 20.5H80M81 20.5H82M83 20.5H84M87 20.5H90M95 20.5H96M104 20.5H107M109 20.5H110M117 20.5H118M121 20.5H122M130 20.5H132M133 20.5H134M137 20.5H138M3 21.5H4M12 21.5H13M15 21.5H16M27 21.5H28M31 21.5H32M35 21.5H36M37 21.5H38M46 21.5H47M48 21.5H49M53 21.5H55M56 21.5H57M65 21.5H69M72 21.5H75M78 21.5H79M80 21.5H81M86 21.5H87M90 21.5H91M101 21.5H102M105 21.5H106M107 21.5H108M110 21.5H112M115 21.5H118M121 21.5H122M128 21.5H130M131 21.5H132M133 21.5H134M136 21.5H137M2 22.5H4M5 22.5H6M15 22.5H16M17 22.5H18M20 22.5H21M34 22.5H37M39 22.5H40M47 22.5H48M51 22.5H53M58 22.5H59M62 22.5H64M69 22.5H70M71 22.5H73M79 22.5H80M81 22.5H82M86 22.5H87M91 22.5H92M97 22.5H98M110 22.5H111M113 22.5H115M116 22.5H117M123 22.5H124M2 23.5H3M5 23.5H6M9 23.5H10M19 23.5H20M36 23.5H39M43 23.5H44M52 23.5H54M56 23.5H57M62 23.5H63M68 23.5H69M78 23.5H79M80 23.5H81M86 23.5H87M93 23.5H95M100 23.5H102M103 23.5H104M113 23.5H114M128 23.5H129M1 24.5H3M10 24.5H11M14 24.5H15M19 24.5H21M41 24.5H43M50 24.5H52M53 24.5H54M60 24.5H61M72 24.5H73M94 24.5H95M99 24.5H101M102 24.5H103M130 24.5H131M132 24.5H134M1 25.5H3M6 25.5H10M14 25.5H15M17 25.5H19M26 25.5H29M30 25.5H31M36 25.5H39M52 25.5H54M56 25.5H57M62 25.5H64M68 25.5H70M78 25.5H79M83 25.5H84M85 25.5H86M93 25.5H94M98 25.5H99M103 25.5H104M108 25.5H110M115 25.5H117M118 25.5H120M121 25.5H122M130 25.5H131M132 25.5H133M138 25.5H139M140 25.5H141M2 26.5H3M9 26.5H11M15 26.5H16M21 26.5H22M29 26.5H30M36 26.5H37M46 26.5H50M54 26.5H55M62 26.5H63M67 26.5H68M69 26.5H70M72 26.5H73M77 26.5H78M81 26.5H83M87 26.5H88M90 26.5H91M93 26.5H95M96 26.5H97M99 26.5H100M103 26.5H104M115 26.5H116M117 26.5H118M121 26.5H122M125 26.5H126M127 26.5H128M136 26.5H138M139 26.5H140M141 26.5H144M3 27.5H4M8 27.5H9M10 27.5H11M14 27.5H15M17 27.5H18M26 27.5H27M28 27.5H29M32 27.5H33M41 27.5H42M44 27.5H45M48 27.5H49M52 27.5H54M55 27.5H56M59 27.5H60M61 27.5H62M68 27.5H69M74 27.5H75M76 27.5H78M80 27.5H81M82 27.5H83M84 27.5H85M88 27.5H89M94 27.5H95M97 27.5H98M103 27.5H105M110 27.5H111M116 27.5H119M124 27.5H125M134 27.5H135M136 27.5H137M138 27.5H141M0 28.5H1M7 28.5H8M11 28.5H12M15 28.5H16M18 28.5H19M21 28.5H22M25 28.5H26M27 28.5H28M42 28.5H43M44 28.5H45M49 28.5H50M59 28.5H60M72 28.5H73M80 28.5H82M84 28.5H85M87 28.5H89M93 28.5H94M95 28.5H96M97 28.5H100M104 28.5H105M106 28.5H107M122 28.5H124M125 28.5H126M127 28.5H128M129 28.5H130M131 28.5H132M133 28.5H134M135 28.5H136M140 28.5H141M8 29.5H9M10 29.5H12M15 29.5H16M20 29.5H21M24 29.5H25M26 29.5H27M31 29.5H34M36 29.5H37M39 29.5H41M42 29.5H43M47 29.5H48M52 29.5H54M59 29.5H61M64 29.5H65M69 29.5H70M71 29.5H72M82 29.5H84M85 29.5H87M91 29.5H92M93 29.5H94M95 29.5H97M100 29.5H101M107 29.5H108M109 29.5H110M117 29.5H118M122 29.5H123M125 29.5H127M130 29.5H131M134 29.5H135M143 29.5H144M0 30.5H1M8 30.5H9M10 30.5H11M12 30.5H13M16 30.5H19M24 30.5H25M29 30.5H31M34 30.5H36M37 30.5H38M45 30.5H46M51 30.5H53M54 30.5H55M61 30.5H62M65 30.5H66M70 30.5H71M76 30.5H77M80 30.5H81M83 30.5H85M87 30.5H89M125 30.5H126M131 30.5H132M133 30.5H134M136 30.5H137M138 30.5H140M2 31.5H3M4 31.5H5M7 31.5H8M10 31.5H11M12 31.5H15M22 31.5H24M27 31.5H28M38 31.5H39M40 31.5H41M49 31.5H51M61 31.5H62M65 31.5H66M73 31.5H74M82 31.5H83M84 31.5H86M88 31.5H89M92 31.5H94M95 31.5H98M101 31.5H103M104 31.5H105M109 31.5H110M124 31.5H125M130 31.5H131M137 31.5H138M139 31.5H140M6 32.5H7M11 32.5H12M13 32.5H14M16 32.5H19M20 32.5H21M22 32.5H23M28 32.5H30M34 32.5H35M41 32.5H42M45 32.5H49M51 32.5H52M66 32.5H67M74 32.5H76M81 32.5H82M83 32.5H85M86 32.5H88M93 32.5H94M95 32.5H96M97 32.5H98M101 32.5H102M104 32.5H106M119 32.5H120M125 32.5H126M128 32.5H130M137 32.5H138M140 32.5H141M6 33.5H7M18 33.5H20M29 33.5H30M31 33.5H32M33 33.5H34M41 33.5H42M44 33.5H45M48 33.5H49M51 33.5H52M55 33.5H56M57 33.5H58M59 33.5H60M79 33.5H82M83 33.5H85M86 33.5H87M96 33.5H97M104 33.5H105M106 33.5H107M108 33.5H109M122 33.5H123M124 33.5H125M127 33.5H129M130 33.5H131M136 33.5H137M142 33.5H143M0 34.5H1M2 34.5H3M12 34.5H13M17 34.5H18M40 34.5H41M51 34.5H53M58 34.5H60M64 34.5H65M73 34.5H76M83 34.5H84M91 34.5H92M95 34.5H96M97 34.5H98M99 34.5H100M101 34.5H102M104 34.5H105M109 34.5H110M111 34.5H112M114 34.5H116M121 34.5H122M124 34.5H125M127 34.5H128M129 34.5H130M135 34.5H137M140 34.5H141M143 34.5H144M6 35.5H7M12 35.5H13M16 35.5H17M18 35.5H20M32 35.5H33M36 35.5H37M45 35.5H46M52 35.5H54M59 35.5H60M62 35.5H65M69 35.5H70M76 35.5H77M91 35.5H92M93 35.5H95M98 35.5H100M102 35.5H103M115 35.5H116M117 35.5H118M120 35.5H123M125 35.5H126M127 35.5H128M130 35.5H131M142 35.5H143M3 36.5H5M6 36.5H7M13 36.5H14M17 36.5H18M20 36.5H21M27 36.5H28M32 36.5H33M41 36.5H42M44 36.5H46M53 36.5H55M61 36.5H62M81 36.5H82M86 36.5H87M90 36.5H92M93 36.5H94M95 36.5H97M98 36.5H99M102 36.5H104M109 36.5H110M112 36.5H114M115 36.5H116M122 36.5H123M140 36.5H141M5 37.5H7M13 37.5H14M17 37.5H18M20 37.5H21M30 37.5H31M32 37.5H33M38 37.5H39M40 37.5H41M43 37.5H44M48 37.5H49M57 37.5H58M61 37.5H63M65 37.5H66M83 37.5H84M86 37.5H87M89 37.5H90M91 37.5H92M93 37.5H94M107 37.5H109M116 37.5H118M127 37.5H129M130 37.5H131M141 37.5H142M3 38.5H4M13 38.5H14M27 38.5H29M32 38.5H33M37 38.5H38M39 38.5H41M44 38.5H46M47 38.5H49M53 38.5H54M57 38.5H58M60 38.5H61M65 38.5H66M75 38.5H76M81 38.5H82M83 38.5H84M87 38.5H90M91 38.5H92M93 38.5H94M97 38.5H99M103 38.5H104M113 38.5H115M121 38.5H123M126 38.5H127M129 38.5H130M131 38.5H132M140 38.5H141M142 38.5H143M7 39.5H8M13 39.5H14M19 39.5H20M36 39.5H37M38 39.5H39M40 39.5H41M42 39.5H43M44 39.5H46M48 39.5H49M51 39.5H53M54 39.5H55M61 39.5H62M65 39.5H66M74 39.5H76M78 39.5H79M86 39.5H88M93 39.5H95M96 39.5H97M99 39.5H100M112 39.5H113M118 39.5H119M123 39.5H127M131 39.5H132M136 39.5H137M0 40.5H1M3 40.5H4M19 40.5H20M39 40.5H40M44 40.5H45M46 40.5H48M51 40.5H52M58 40.5H59M72 40.5H74M77 40.5H78M81 40.5H82M83 40.5H84M93 40.5H94M96 40.5H97M119 40.5H120M122 40.5H124M133 40.5H134M139 40.5H141M0 41.5H1M7 41.5H9M11 41.5H12M17 41.5H18M29 41.5H31M41 41.5H43M48 41.5H49M51 41.5H52M59 41.5H62M72 41.5H73M79 41.5H80M82 41.5H83M84 41.5H85M86 41.5H91M103 41.5H104M107 41.5H108M109 41.5H110M128 41.5H129M130 41.5H134M143 41.5H144M5 42.5H6M10 42.5H11M32 42.5H35M38 42.5H40M42 42.5H43M45 42.5H46M54 42.5H55M65 42.5H68M81 42.5H82M84 42.5H85M86 42.5H87M88 42.5H89M90 42.5H91M92 42.5H93M95 42.5H96M102 42.5H103M113 42.5H115M122 42.5H123M127 42.5H128M129 42.5H130M133 42.5H134M135 42.5H136M143 42.5H144M0 43.5H2M7 43.5H8M15 43.5H16M17 43.5H19M33 43.5H34M40 43.5H41M44 43.5H49M71 43.5H72M78 43.5H79M81 43.5H82M90 43.5H92M93 43.5H94M96 43.5H97M99 43.5H100M106 43.5H107M109 43.5H110M111 43.5H112M113 43.5H114M115 43.5H116M131 43.5H132M136 43.5H137M142 43.5H143M1 44.5H2M11 44.5H13M16 44.5H17M28 44.5H29M36 44.5H37M38 44.5H40M45 44.5H46M54 44.5H55M63 44.5H64M65 44.5H66M72 44.5H74M78 44.5H79M83 44.5H84M100 44.5H101M106 44.5H108M109 44.5H110M113 44.5H114M127 44.5H128M133 44.5H134M135 44.5H137M143 44.5H144M0 45.5H2M10 45.5H11M28 45.5H30M37 45.5H38M39 45.5H40M43 45.5H46M47 45.5H49M50 45.5H51M53 45.5H55M56 45.5H59M62 45.5H63M67 45.5H68M76 45.5H78M82 45.5H85M95 45.5H96M108 45.5H109M116 45.5H117M120 45.5H122M133 45.5H135M141 45.5H142M2 46.5H3M10 46.5H11M12 46.5H13M28 46.5H29M38 46.5H39M40 46.5H41M43 46.5H44M47 46.5H48M51 46.5H53M63 46.5H65M68 46.5H70M73 46.5H74M76 46.5H77M84 46.5H85M86 46.5H87M103 46.5H104M106 46.5H108M113 46.5H114M120 46.5H121M129 46.5H133M134 46.5H135M139 46.5H140M142 46.5H143M10 47.5H11M13 47.5H15M35 47.5H36M39 47.5H41M44 47.5H47M51 47.5H53M54 47.5H56M62 47.5H63M65 47.5H66M74 47.5H75M87 47.5H89M95 47.5H96M103 47.5H104M105 47.5H106M110 47.5H111M112 47.5H114M115 47.5H117M119 47.5H120M130 47.5H131M138 47.5H139M142 47.5H143M1 48.5H2M7 48.5H8M13 48.5H14M18 48.5H21M41 48.5H42M45 48.5H46M52 48.5H53M54 48.5H55M61 48.5H62M69 48.5H71M75 48.5H76M79 48.5H80M83 48.5H84M87 48.5H89M90 48.5H91M98 48.5H99M108 48.5H109M110 48.5H112M114 48.5H115M116 48.5H117M119 48.5H121M131 48.5H132M5 49.5H8M18 49.5H19M20 49.5H21M29 49.5H32M37 49.5H38M39 49.5H40M44 49.5H45M47 49.5H49M51 49.5H52M53 49.5H54M55 49.5H56M59 49.5H60M62 49.5H64M69 49.5H70M88 49.5H89M95 49.5H98M103 49.5H104M105 49.5H107M111 49.5H112M115 49.5H116M117 49.5H119M122 49.5H124M125 49.5H126M135 49.5H137M142 49.5H143M4 50.5H6M21 50.5H22M45 50.5H47M48 50.5H49M53 50.5H55M57 50.5H58M63 50.5H65M83 50.5H84M92 50.5H93M100 50.5H101M106 50.5H109M118 50.5H121M122 50.5H124M125 50.5H126M127 50.5H129M132 50.5H133M134 50.5H137M5 51.5H6M13 51.5H14M15 51.5H17M35 51.5H36M43 51.5H44M45 51.5H48M55 51.5H57M65 51.5H66M69 51.5H70M76 51.5H78M81 51.5H82M98 51.5H99M100 51.5H101M108 51.5H111M114 51.5H115M118 51.5H119M124 51.5H126M133 51.5H135M137 51.5H138M139 51.5H140M11 52.5H12M17 52.5H18M23 52.5H24M39 52.5H42M44 52.5H45M46 52.5H47M50 52.5H51M55 52.5H56M64 52.5H65M70 52.5H72M76 52.5H77M78 52.5H79M88 52.5H89M92 52.5H94M96 52.5H97M109 52.5H111M112 52.5H113M115 52.5H118M123 52.5H124M128 52.5H129M133 52.5H134M136 52.5H137M17 53.5H18M22 53.5H23M33 53.5H34M37 53.5H38M43 53.5H45M46 53.5H47M58 53.5H59M70 53.5H71M76 53.5H78M83 53.5H84M86 53.5H89M91 53.5H92M93 53.5H94M97 53.5H98M99 53.5H100M103 53.5H104M111 53.5H112M113 53.5H114M116 53.5H118M119 53.5H121M128 53.5H129M2 54.5H3M4 54.5H5M6 54.5H7M18 54.5H21M22 54.5H23M25 54.5H29M31 54.5H32M35 54.5H36M37 54.5H38M39 54.5H41M42 54.5H43M51 54.5H52M57 54.5H58M69 54.5H70M73 54.5H74M80 54.5H81M82 54.5H86M90 54.5H91M96 54.5H97M98 54.5H99M105 54.5H108M109 54.5H111M112 54.5H113M131 54.5H132M135 54.5H136M2 55.5H4M5 55.5H6M7 55.5H8M11 55.5H12M18 55.5H19M39 55.5H40M42 55.5H43M44 55.5H45M66 55.5H67M74 55.5H75M84 55.5H85M105 55.5H106M117 55.5H118M119 55.5H121M122 55.5H123M124 55.5H126M134 55.5H135M8 56.5H9M10 56.5H11M17 56.5H18M24 56.5H25M26 56.5H32M35 56.5H36M42 56.5H44M50 56.5H51M57 56.5H58M59 56.5H61M73 56.5H74M83 56.5H84M86 56.5H90M92 56.5H93M94 56.5H95M96 56.5H97M103 56.5H104M105 56.5H106M118 56.5H119M123 56.5H125M134 56.5H136M140 56.5H141M143 56.5H144M6 57.5H7M13 57.5H14M24 57.5H25M26 57.5H27M47 57.5H48M49 57.5H51M63 57.5H64M65 57.5H67M68 57.5H70M71 57.5H72M73 57.5H74M78 57.5H80M82 57.5H83M84 57.5H85M87 57.5H88M90 57.5H93M94 57.5H95M102 57.5H104M112 57.5H113M119 57.5H120M123 57.5H124M130 57.5H131M132 57.5H133M135 57.5H136M141 57.5H142M143 57.5H144M3 58.5H4M7 58.5H9M12 58.5H13M18 58.5H19M22 58.5H23M25 58.5H26M40 58.5H41M45 58.5H47M48 58.5H49M50 58.5H51M67 58.5H69M77 58.5H78M83 58.5H84M90 58.5H92M93 58.5H95M102 58.5H103M104 58.5H105M106 58.5H109M111 58.5H112M115 58.5H116M119 58.5H120M122 58.5H123M124 58.5H125M130 58.5H131M137 58.5H139M7 59.5H8M10 59.5H11M12 59.5H13M17 59.5H19M25 59.5H26M33 59.5H34M40 59.5H41M42 59.5H44M45 59.5H46M47 59.5H50M55 59.5H57M58 59.5H59M62 59.5H63M74 59.5H75M82 59.5H83M89 59.5H90M92 59.5H93M101 59.5H102M104 59.5H106M111 59.5H112M113 59.5H115M120 59.5H122M132 59.5H133M0 60.5H1M2 60.5H4M5 60.5H7M8 60.5H9M11 60.5H12M14 60.5H15M16 60.5H17M18 60.5H19M20 60.5H21M32 60.5H33M39 60.5H40M44 60.5H46M48 60.5H49M55 60.5H57M65 60.5H66M68 60.5H69M70 60.5H71M82 60.5H83M92 60.5H93M99 60.5H101M103 60.5H104M109 60.5H110M114 60.5H116M119 60.5H121M124 60.5H125M132 60.5H133M3 61.5H4M15 61.5H18M22 61.5H23M25 61.5H26M32 61.5H35M41 61.5H42M49 61.5H50M55 61.5H56M57 61.5H60M64 61.5H66M74 61.5H75M82 61.5H83M92 61.5H93M95 61.5H97M99 61.5H100M101 61.5H102M103 61.5H104M108 61.5H109M113 61.5H114M120 61.5H121M123 61.5H124M130 61.5H132M18 62.5H19M22 62.5H23M25 62.5H27M30 62.5H32M35 62.5H36M39 62.5H40M41 62.5H43M53 62.5H54M55 62.5H56M63 62.5H64M74 62.5H75M80 62.5H82M88 62.5H89M93 62.5H96M97 62.5H98M104 62.5H105M107 62.5H108M115 62.5H117M129 62.5H130M138 62.5H139M140 62.5H141M8 63.5H11M12 63.5H13M16 63.5H17M23 63.5H24M26 63.5H27M32 63.5H33M34 63.5H36M39 63.5H40M51 63.5H52M60 63.5H61M62 63.5H63M67 63.5H68M72 63.5H73M74 63.5H75M87 63.5H88M92 63.5H93M98 63.5H99M105 63.5H106M109 63.5H111M123 63.5H124M125 63.5H127M128 63.5H129M131 63.5H132M136 63.5H137M138 63.5H139M140 63.5H141M0 64.5H1M4 64.5H5M6 64.5H7M13 64.5H14M17 64.5H18M26 64.5H27M28 64.5H29M31 64.5H32M40 64.5H41M42 64.5H43M44 64.5H45M52 64.5H54M60 64.5H61M62 64.5H63M68 64.5H69M75 64.5H78M90 64.5H93M105 64.5H106M111 64.5H113M119 64.5H121M123 64.5H124M129 64.5H131M132 64.5H133M139 64.5H140M141 64.5H142M9 65.5H11M16 65.5H17M19 65.5H20M23 65.5H26M40 65.5H41M42 65.5H43M44 65.5H45M53 65.5H55M58 65.5H61M64 65.5H66M67 65.5H69M78 65.5H79M81 65.5H82M89 65.5H90M91 65.5H92M93 65.5H95M96 65.5H97M100 65.5H103M106 65.5H107M114 65.5H115M126 65.5H127M140 65.5H141M142 65.5H143M3 66.5H4M13 66.5H14M16 66.5H17M20 66.5H21M26 66.5H27M28 66.5H30M38 66.5H42M43 66.5H44M45 66.5H47M49 66.5H51M54 66.5H55M65 66.5H68M69 66.5H70M79 66.5H81M87 66.5H88M92 66.5H94M101 66.5H102M106 66.5H107M108 66.5H109M115 66.5H117M126 66.5H127M136 66.5H137M138 66.5H139M140 66.5H141M0 67.5H1M11 67.5H12M13 67.5H14M15 67.5H16M19 67.5H21M23 67.5H24M27 67.5H28M29 67.5H31M37 67.5H38M42 67.5H43M44 67.5H46M49 67.5H50M51 67.5H52M57 67.5H59M61 67.5H62M64 67.5H65M66 67.5H67M68 67.5H70M71 67.5H72M75 67.5H76M78 67.5H79M96 67.5H97M98 67.5H99M102 67.5H103M107 67.5H111M114 67.5H115M126 67.5H127M131 67.5H132M136 67.5H138M142 67.5H143M1 68.5H3M12 68.5H14M17 68.5H18M19 68.5H20M21 68.5H23M28 68.5H29M30 68.5H31M43 68.5H45M46 68.5H48M49 68.5H50M51 68.5H52M59 68.5H61M62 68.5H63M64 68.5H65M70 68.5H71M72 68.5H73M76 68.5H77M78 68.5H80M86 68.5H87M100 68.5H101M112 68.5H113M126 68.5H127M129 68.5H131M136 68.5H138M141 68.5H143M2 69.5H3M9 69.5H10M28 69.5H29M33 69.5H34M42 69.5H43M45 69.5H46M50 69.5H51M52 69.5H54M60 69.5H61M63 69.5H64M65 69.5H67M73 69.5H74M77 69.5H78M80 69.5H81M85 69.5H86M87 69.5H88M89 69.5H90M98 69.5H99M100 69.5H101M112 69.5H113M114 69.5H115M118 69.5H119M120 69.5H121M123 69.5H124M143 69.5H144M7 70.5H8M9 70.5H10M11 70.5H12M28 70.5H29M32 70.5H33M34 70.5H35M41 70.5H43M45 70.5H46M47 70.5H48M49 70.5H51M56 70.5H57M61 70.5H62M64 70.5H65M70 70.5H71M79 70.5H80M86 70.5H88M98 70.5H99M105 70.5H106M122 70.5H123M124 70.5H126M127 70.5H128M129 70.5H131M139 70.5H140M143 70.5H144M13 71.5H14M22 71.5H25M26 71.5H28M43 71.5H44M56 71.5H57M59 71.5H60M72 71.5H74M79 71.5H80M83 71.5H84M89 71.5H90M93 71.5H94M98 71.5H100M102 71.5H103M105 71.5H106M108 71.5H110M111 71.5H112M113 71.5H115M121 71.5H122M125 71.5H127M128 71.5H129M137 71.5H138M140 71.5H141M6 72.5H8M16 72.5H18M22 72.5H24M25 72.5H27M34 72.5H35M36 72.5H38M41 72.5H44M50 72.5H51M53 72.5H54M70 72.5H71M77 72.5H78M79 72.5H80M84 72.5H85M91 72.5H92M93 72.5H94M105 72.5H107M110 72.5H112M113 72.5H114M126 72.5H128M136 72.5H138M143 72.5H144M3 73.5H4M16 73.5H17M19 73.5H20M47 73.5H48M50 73.5H52M53 73.5H55M63 73.5H64M69 73.5H70M72 73.5H74M77 73.5H79M91 73.5H92M100 73.5H101M102 73.5H103M106 73.5H108M112 73.5H113M118 73.5H119M125 73.5H126M135 73.5H136M140 73.5H141M6 74.5H7M15 74.5H16M23 74.5H24M25 74.5H26M28 74.5H30M38 74.5H39M51 74.5H52M53 74.5H54M55 74.5H57M60 74.5H61M65 74.5H67M71 74.5H72M80 74.5H81M94 74.5H95M98 74.5H99M112 74.5H113M119 74.5H120M124 74.5H125M126 74.5H127M137 74.5H138M0 75.5H1M7 75.5H8M9 75.5H11M15 75.5H18M21 75.5H22M23 75.5H24M26 75.5H27M32 75.5H33M37 75.5H38M46 75.5H47M51 75.5H53M56 75.5H57M59 75.5H60M66 75.5H67M69 75.5H70M71 75.5H72M73 75.5H75M78 75.5H81M83 75.5H84M85 75.5H87M91 75.5H94M95 75.5H96M101 75.5H102M108 75.5H110M115 75.5H118M121 75.5H122M123 75.5H124M125 75.5H127M132 75.5H135M2 76.5H3M8 76.5H9M18 76.5H19M25 76.5H26M31 76.5H36M40 76.5H41M44 76.5H46M48 76.5H49M52 76.5H53M55 76.5H56M60 76.5H62M68 76.5H69M70 76.5H71M73 76.5H74M77 76.5H78M79 76.5H80M83 76.5H86M87 76.5H88M90 76.5H91M94 76.5H95M108 76.5H109M111 76.5H113M114 76.5H115M116 76.5H117M119 76.5H121M122 76.5H123M124 76.5H125M126 76.5H128M130 76.5H132M135 76.5H136M142 76.5H143M1 77.5H2M10 77.5H12M13 77.5H14M17 77.5H19M33 77.5H34M38 77.5H39M40 77.5H41M43 77.5H44M54 77.5H56M58 77.5H60M69 77.5H71M74 77.5H75M85 77.5H86M96 77.5H97M99 77.5H100M101 77.5H103M107 77.5H108M109 77.5H110M112 77.5H113M117 77.5H118M119 77.5H120M121 77.5H122M123 77.5H124M125 77.5H126M127 77.5H128M129 77.5H130M139 77.5H141M17 78.5H18M23 78.5H24M26 78.5H27M28 78.5H29M31 78.5H33M35 78.5H36M40 78.5H41M42 78.5H43M44 78.5H45M46 78.5H47M48 78.5H49M56 78.5H57M59 78.5H60M66 78.5H67M68 78.5H69M74 78.5H75M76 78.5H78M80 78.5H81M88 78.5H89M92 78.5H93M98 78.5H99M100 78.5H102M105 78.5H106M107 78.5H108M116 78.5H119M120 78.5H121M122 78.5H123M125 78.5H127M128 78.5H129M131 78.5H134M137 78.5H139M141 78.5H142M7 79.5H8M13 79.5H14M15 79.5H16M17 79.5H18M30 79.5H31M33 79.5H34M44 79.5H47M49 79.5H51M52 79.5H53M61 79.5H63M64 79.5H67M69 79.5H70M72 79.5H73M82 79.5H84M87 79.5H88M89 79.5H90M94 79.5H97M102 79.5H103M106 79.5H107M118 79.5H120M123 79.5H125M126 79.5H128M129 79.5H131M132 79.5H133M137 79.5H138M140 79.5H141M142 79.5H143M9 80.5H11M20 80.5H21M22 80.5H23M24 80.5H25M28 80.5H30M32 80.5H33M45 80.5H46M48 80.5H51M56 80.5H57M60 80.5H61M65 80.5H66M72 80.5H73M87 80.5H90M93 80.5H94M102 80.5H103M109 80.5H110M114 80.5H115M116 80.5H118M125 80.5H126M128 80.5H129M132 80.5H136M137 80.5H138M139 80.5H141M142 80.5H143M3 81.5H4M9 81.5H10M11 81.5H12M25 81.5H26M30 81.5H31M40 81.5H41M45 81.5H46M56 81.5H57M68 81.5H69M70 81.5H72M73 81.5H74M83 81.5H84M90 81.5H91M92 81.5H93M94 81.5H95M99 81.5H100M113 81.5H115M116 81.5H117M118 81.5H120M129 81.5H130M131 81.5H132M136 81.5H137M1 82.5H4M7 82.5H8M10 82.5H11M16 82.5H17M20 82.5H21M26 82.5H27M29 82.5H30M32 82.5H33M37 82.5H38M42 82.5H43M45 82.5H46M47 82.5H48M49 82.5H50M63 82.5H64M65 82.5H66M87 82.5H90M94 82.5H95M98 82.5H99M102 82.5H103M106 82.5H107M111 82.5H112M113 82.5H114M117 82.5H118M119 82.5H122M128 82.5H131M135 82.5H136M0 83.5H2M6 83.5H7M8 83.5H9M10 83.5H11M15 83.5H16M18 83.5H19M29 83.5H30M34 83.5H35M38 83.5H39M44 83.5H47M49 83.5H51M53 83.5H55M65 83.5H68M71 83.5H72M75 83.5H76M79 83.5H80M81 83.5H82M87 83.5H88M98 83.5H99M103 83.5H104M105 83.5H106M111 83.5H112M115 83.5H116M119 83.5H120M121 83.5H123M127 83.5H128M130 83.5H132M136 83.5H137M139 83.5H140M7 84.5H8M9 84.5H11M12 84.5H13M20 84.5H21M23 84.5H24M25 84.5H26M31 84.5H32M38 84.5H40M43 84.5H44M47 84.5H49M50 84.5H51M55 84.5H56M57 84.5H58M59 84.5H60M62 84.5H63M69 84.5H70M76 84.5H78M82 84.5H83M87 84.5H88M92 84.5H93M94 84.5H96M97 84.5H98M102 84.5H103M104 84.5H105M106 84.5H107M112 84.5H115M120 84.5H121M123 84.5H124M126 84.5H129M134 84.5H135M138 84.5H140M141 84.5H143M0 85.5H1M8 85.5H9M15 85.5H16M17 85.5H19M21 85.5H22M23 85.5H24M30 85.5H31M32 85.5H33M36 85.5H38M49 85.5H52M53 85.5H55M57 85.5H58M82 85.5H83M87 85.5H88M99 85.5H100M102 85.5H104M105 85.5H106M110 85.5H111M113 85.5H114M116 85.5H117M123 85.5H124M125 85.5H126M128 85.5H130M133 85.5H134M135 85.5H137M5 86.5H6M9 86.5H11M17 86.5H18M21 86.5H22M28 86.5H29M30 86.5H33M35 86.5H36M37 86.5H39M41 86.5H43M46 86.5H47M51 86.5H52M56 86.5H58M60 86.5H61M62 86.5H63M65 86.5H66M79 86.5H80M88 86.5H89M100 86.5H101M102 86.5H103M104 86.5H106M110 86.5H111M112 86.5H113M117 86.5H118M124 86.5H125M132 86.5H133M134 86.5H135M141 86.5H142M3 87.5H4M9 87.5H11M17 87.5H18M21 87.5H22M35 87.5H37M40 87.5H41M46 87.5H47M52 87.5H54M60 87.5H61M63 87.5H64M73 87.5H74M79 87.5H80M93 87.5H94M99 87.5H101M102 87.5H105M109 87.5H110M113 87.5H114M126 87.5H127M133 87.5H134M136 87.5H137M140 87.5H141M142 87.5H143M1 88.5H2M4 88.5H5M15 88.5H17M21 88.5H24M26 88.5H27M34 88.5H35M37 88.5H40M41 88.5H43M46 88.5H47M51 88.5H52M61 88.5H63M67 88.5H68M79 88.5H82M88 88.5H90M91 88.5H93M97 88.5H99M109 88.5H110M117 88.5H118M124 88.5H130M140 88.5H142M143 88.5H144M5 89.5H7M8 89.5H9M17 89.5H18M21 89.5H22M40 89.5H41M42 89.5H43M45 89.5H48M52 89.5H54M57 89.5H59M75 89.5H77M92 89.5H93M98 89.5H99M100 89.5H101M102 89.5H103M106 89.5H107M109 89.5H110M117 89.5H119M120 89.5H122M124 89.5H125M126 89.5H127M128 89.5H129M130 89.5H131M135 89.5H137M140 89.5H141M142 89.5H143M6 90.5H7M9 90.5H10M12 90.5H14M15 90.5H16M21 90.5H22M33 90.5H34M40 90.5H41M43 90.5H44M50 90.5H51M52 90.5H53M55 90.5H57M60 90.5H61M69 90.5H70M77 90.5H78M79 90.5H81M82 90.5H83M84 90.5H85M86 90.5H87M89 90.5H90M92 90.5H94M96 90.5H97M100 90.5H101M106 90.5H107M123 90.5H124M125 90.5H127M128 90.5H129M130 90.5H131M134 90.5H136M142 90.5H143M5 91.5H6M14 91.5H15M16 91.5H18M21 91.5H22M35 91.5H36M38 91.5H40M42 91.5H44M51 91.5H52M62 91.5H63M68 91.5H69M79 91.5H80M86 91.5H88M95 91.5H96M103 91.5H104M106 91.5H108M111 91.5H112M121 91.5H122M129 91.5H130M133 91.5H134M136 91.5H137M5 92.5H7M17 92.5H18M19 92.5H20M21 92.5H22M27 92.5H28M29 92.5H30M37 92.5H38M40 92.5H41M48 92.5H49M55 92.5H57M61 92.5H62M74 92.5H75M78 92.5H79M83 92.5H84M88 92.5H90M99 92.5H101M106 92.5H107M113 92.5H114M124 92.5H125M126 92.5H127M133 92.5H134M137 92.5H138M142 92.5H143M0 93.5H1M6 93.5H7M12 93.5H13M14 93.5H15M18 93.5H19M22 93.5H23M26 93.5H27M36 93.5H37M42 93.5H44M55 93.5H58M69 93.5H70M71 93.5H72M74 93.5H75M77 93.5H80M82 93.5H83M84 93.5H85M86 93.5H88M92 93.5H93M98 93.5H100M103 93.5H104M108 93.5H109M116 93.5H117M119 93.5H120M124 93.5H126M130 93.5H132M136 93.5H137M139 93.5H140M2 94.5H3M7 94.5H8M20 94.5H21M29 94.5H31M42 94.5H43M45 94.5H47M51 94.5H52M53 94.5H54M57 94.5H58M60 94.5H61M62 94.5H63M75 94.5H76M77 94.5H78M82 94.5H83M84 94.5H85M86 94.5H87M88 94.5H90M91 94.5H92M100 94.5H101M106 94.5H107M111 94.5H112M119 94.5H120M123 94.5H125M130 94.5H131M132 94.5H133M136 94.5H140M1 95.5H2M5 95.5H6M10 95.5H11M31 95.5H35M36 95.5H37M40 95.5H42M43 95.5H44M57 95.5H61M68 95.5H70M71 95.5H72M75 95.5H76M79 95.5H81M85 95.5H87M90 95.5H91M105 95.5H108M110 95.5H111M117 95.5H118M123 95.5H124M127 95.5H128M130 95.5H132M133 95.5H134M137 95.5H138M4 96.5H5M8 96.5H9M11 96.5H12M14 96.5H16M22 96.5H23M27 96.5H28M35 96.5H36M42 96.5H43M50 96.5H51M52 96.5H55M61 96.5H62M69 96.5H70M72 96.5H73M87 96.5H88M89 96.5H90M92 96.5H95M97 96.5H99M113 96.5H114M118 96.5H119M125 96.5H126M132 96.5H134M142 96.5H143M2 97.5H3M10 97.5H11M13 97.5H14M15 97.5H17M23 97.5H24M34 97.5H35M39 97.5H40M41 97.5H42M50 97.5H51M54 97.5H55M56 97.5H57M58 97.5H60M68 97.5H69M71 97.5H73M83 97.5H84M93 97.5H94M95 97.5H97M105 97.5H106M115 97.5H116M117 97.5H119M120 97.5H121M122 97.5H124M125 97.5H126M129 97.5H132M134 97.5H135M141 97.5H143M8 98.5H9M13 98.5H14M15 98.5H16M17 98.5H18M20 98.5H21M23 98.5H24M29 98.5H30M34 98.5H36M38 98.5H39M41 98.5H42M47 98.5H48M53 98.5H54M57 98.5H58M59 98.5H60M65 98.5H66M69 98.5H70M82 98.5H84M92 98.5H93M96 98.5H98M102 98.5H103M104 98.5H105M111 98.5H112M115 98.5H116M117 98.5H118M119 98.5H121M123 98.5H124M125 98.5H127M130 98.5H131M133 98.5H135M11 99.5H12M13 99.5H14M16 99.5H17M22 99.5H23M24 99.5H25M28 99.5H29M31 99.5H32M33 99.5H34M35 99.5H36M40 99.5H42M52 99.5H54M56 99.5H57M58 99.5H59M60 99.5H61M65 99.5H68M74 99.5H75M76 99.5H77M81 99.5H82M84 99.5H86M94 99.5H95M96 99.5H97M98 99.5H99M100 99.5H101M104 99.5H105M110 99.5H111M114 99.5H115M129 99.5H131M132 99.5H133M139 99.5H140M2 100.5H3M4 100.5H5M10 100.5H11M12 100.5H13M14 100.5H15M17 100.5H18M22 100.5H23M26 100.5H27M29 100.5H31M33 100.5H35M39 100.5H40M43 100.5H44M51 100.5H53M55 100.5H57M58 100.5H60M61 100.5H62M66 100.5H67M93 100.5H95M96 100.5H97M103 100.5H104M106 100.5H108M109 100.5H110M111 100.5H112M114 100.5H115M125 100.5H127M130 100.5H131M133 100.5H135M139 100.5H140M143 100.5H144M5 101.5H6M7 101.5H8M11 101.5H12M19 101.5H20M23 101.5H24M43 101.5H44M47 101.5H49M50 101.5H51M52 101.5H55M60 101.5H62M70 101.5H72M76 101.5H77M88 101.5H89M93 101.5H94M97 101.5H98M112 101.5H115M122 101.5H124M126 101.5H128M130 101.5H132M134 101.5H135M142 101.5H143M0 102.5H1M14 102.5H15M16 102.5H17M19 102.5H20M27 102.5H32M33 102.5H34M44 102.5H46M50 102.5H51M55 102.5H57M58 102.5H61M70 102.5H71M72 102.5H74M75 102.5H77M83 102.5H84M90 102.5H91M93 102.5H94M97 102.5H98M104 102.5H105M108 102.5H109M112 102.5H113M114 102.5H115M120 102.5H121M126 102.5H128M130 102.5H131M133 102.5H134M135 102.5H136M139 102.5H140M0 103.5H1M7 103.5H8M9 103.5H10M15 103.5H16M20 103.5H21M32 103.5H33M34 103.5H35M37 103.5H40M49 103.5H50M56 103.5H57M65 103.5H67M69 103.5H70M71 103.5H72M83 103.5H84M88 103.5H89M92 103.5H93M95 103.5H96M108 103.5H109M112 103.5H113M114 103.5H116M117 103.5H118M132 103.5H134M135 103.5H136M10 104.5H11M15 104.5H16M19 104.5H20M22 104.5H24M29 104.5H31M33 104.5H35M36 104.5H38M44 104.5H46M47 104.5H48M49 104.5H51M57 104.5H58M62 104.5H63M65 104.5H66M68 104.5H69M78 104.5H79M80 104.5H81M91 104.5H93M99 104.5H101M102 104.5H103M108 104.5H109M110 104.5H111M115 104.5H119M121 104.5H122M124 104.5H125M131 104.5H132M136 104.5H138M143 104.5H144M2 105.5H3M7 105.5H8M9 105.5H11M14 105.5H16M30 105.5H33M34 105.5H35M38 105.5H39M49 105.5H50M64 105.5H65M67 105.5H68M75 105.5H77M78 105.5H79M80 105.5H81M84 105.5H85M88 105.5H89M93 105.5H94M95 105.5H96M99 105.5H100M102 105.5H103M106 105.5H107M108 105.5H110M111 105.5H112M118 105.5H120M121 105.5H123M125 105.5H126M133 105.5H134M137 105.5H138M0 106.5H1M2 106.5H3M7 106.5H8M11 106.5H12M13 106.5H14M24 106.5H26M31 106.5H32M34 106.5H35M38 106.5H39M45 106.5H46M50 106.5H51M58 106.5H60M64 106.5H65M66 106.5H67M70 106.5H72M75 106.5H76M77 106.5H78M91 106.5H93M100 106.5H102M104 106.5H107M108 106.5H110M111 106.5H112M113 106.5H114M116 106.5H117M123 106.5H124M135 106.5H137M138 106.5H141M142 106.5H144M11 107.5H12M14 107.5H15M20 107.5H21M26 107.5H27M28 107.5H29M32 107.5H33M35 107.5H36M37 107.5H38M44 107.5H45M52 107.5H53M54 107.5H55M60 107.5H62M64 107.5H65M68 107.5H70M72 107.5H73M76 107.5H77M80 107.5H82M83 107.5H84M93 107.5H94M95 107.5H96M99 107.5H100M101 107.5H102M109 107.5H110M111 107.5H112M116 107.5H118M125 107.5H126M127 107.5H128M136 107.5H138M140 107.5H141M142 107.5H143M0 108.5H1M12 108.5H13M22 108.5H23M24 108.5H25M35 108.5H36M43 108.5H44M45 108.5H46M47 108.5H48M50 108.5H53M61 108.5H62M69 108.5H70M77 108.5H78M79 108.5H80M90 108.5H91M92 108.5H93M94 108.5H96M98 108.5H99M100 108.5H101M102 108.5H103M106 108.5H107M109 108.5H110M111 108.5H112M123 108.5H126M127 108.5H128M130 108.5H131M138 108.5H140M141 108.5H142M143 108.5H144M0 109.5H1M3 109.5H4M11 109.5H12M13 109.5H14M16 109.5H17M32 109.5H33M42 109.5H43M60 109.5H61M67 109.5H68M74 109.5H75M86 109.5H87M89 109.5H90M91 109.5H92M100 109.5H101M109 109.5H110M114 109.5H115M122 109.5H123M135 109.5H136M137 109.5H138M140 109.5H141M1 110.5H4M7 110.5H10M16 110.5H18M24 110.5H25M29 110.5H30M31 110.5H33M34 110.5H35M54 110.5H55M56 110.5H57M66 110.5H67M68 110.5H69M73 110.5H74M97 110.5H98M103 110.5H104M114 110.5H115M121 110.5H122M124 110.5H126M128 110.5H129M134 110.5H136M143 110.5H144M4 111.5H5M9 111.5H10M11 111.5H12M27 111.5H30M31 111.5H32M33 111.5H34M36 111.5H37M38 111.5H39M41 111.5H42M47 111.5H49M50 111.5H51M52 111.5H53M72 111.5H73M82 111.5H83M84 111.5H85M87 111.5H88M94 111.5H95M96 111.5H97M99 111.5H100M101 111.5H102M107 111.5H108M112 111.5H113M120 111.5H123M128 111.5H129M135 111.5H136M138 111.5H139M143 111.5H144M0 112.5H2M7 112.5H8M16 112.5H17M23 112.5H25M27 112.5H28M31 112.5H33M35 112.5H36M39 112.5H41M47 112.5H48M50 112.5H51M54 112.5H55M62 112.5H63M67 112.5H68M72 112.5H73M75 112.5H76M79 112.5H80M83 112.5H84M85 112.5H86M88 112.5H89M96 112.5H97M98 112.5H101M105 112.5H107M116 112.5H117M123 112.5H124M125 112.5H126M129 112.5H130M139 112.5H140M142 112.5H143M0 113.5H1M2 113.5H3M9 113.5H10M22 113.5H23M24 113.5H26M28 113.5H29M33 113.5H38M43 113.5H45M46 113.5H47M49 113.5H50M53 113.5H54M55 113.5H57M66 113.5H67M69 113.5H73M80 113.5H81M82 113.5H83M84 113.5H85M94 113.5H96M99 113.5H100M109 113.5H112M118 113.5H119M123 113.5H124M125 113.5H126M127 113.5H128M129 113.5H130M131 113.5H133M4 114.5H5M8 114.5H9M10 114.5H11M15 114.5H16M17 114.5H18M19 114.5H20M26 114.5H27M32 114.5H33M35 114.5H36M37 114.5H38M45 114.5H46M47 114.5H49M68 114.5H69M82 114.5H83M84 114.5H85M99 114.5H100M101 114.5H103M106 114.5H107M114 114.5H115M134 114.5H135M136 114.5H138M142 114.5H143M19 115.5H21M22 115.5H23M26 115.5H27M28 115.5H29M30 115.5H31M34 115.5H35M43 115.5H45M47 115.5H48M49 115.5H51M52 115.5H53M55 115.5H56M61 115.5H62M72 115.5H73M75 115.5H76M82 115.5H83M84 115.5H85M86 115.5H87M88 115.5H89M93 115.5H94M106 115.5H107M112 115.5H113M120 115.5H122M124 115.5H126M127 115.5H128M134 115.5H136M4 116.5H5M6 116.5H7M8 116.5H9M22 116.5H23M29 116.5H31M35 116.5H36M42 116.5H43M46 116.5H47M48 116.5H49M51 116.5H52M55 116.5H56M64 116.5H65M75 116.5H76M78 116.5H79M83 116.5H85M86 116.5H87M92 116.5H94M102 116.5H105M109 116.5H111M112 116.5H114M117 116.5H118M128 116.5H129M133 116.5H135M136 116.5H137M3 117.5H5M6 117.5H7M26 117.5H27M29 117.5H30M34 117.5H35M36 117.5H37M47 117.5H48M49 117.5H53M57 117.5H59M61 117.5H62M64 117.5H65M85 117.5H86M92 117.5H93M97 117.5H98M99 117.5H100M102 117.5H103M104 117.5H105M109 117.5H110M114 117.5H116M118 117.5H119M126 117.5H128M131 117.5H132M134 117.5H135M136 117.5H138M143 117.5H144M2 118.5H3M5 118.5H6M7 118.5H8M21 118.5H25M28 118.5H29M32 118.5H35M36 118.5H37M39 118.5H40M41 118.5H43M44 118.5H45M46 118.5H47M48 118.5H49M55 118.5H56M58 118.5H60M65 118.5H66M67 118.5H69M77 118.5H78M85 118.5H88M91 118.5H92M103 118.5H104M105 118.5H106M118 118.5H119M121 118.5H122M123 118.5H126M138 118.5H139M141 118.5H142M7 119.5H8M13 119.5H14M15 119.5H16M23 119.5H24M25 119.5H26M30 119.5H31M32 119.5H33M37 119.5H38M47 119.5H48M49 119.5H50M51 119.5H52M54 119.5H55M60 119.5H63M65 119.5H66M67 119.5H68M83 119.5H85M105 119.5H106M108 119.5H110M113 119.5H114M117 119.5H118M121 119.5H122M125 119.5H128M132 119.5H134M136 119.5H138M2 120.5H3M7 120.5H8M15 120.5H21M28 120.5H30M31 120.5H33M37 120.5H39M45 120.5H48M58 120.5H61M67 120.5H68M78 120.5H79M82 120.5H83M86 120.5H88M92 120.5H94M95 120.5H97M102 120.5H103M109 120.5H111M119 120.5H120M126 120.5H127M128 120.5H130M131 120.5H132M136 120.5H137M139 120.5H140M10 121.5H11M19 121.5H20M21 121.5H22M25 121.5H26M27 121.5H28M31 121.5H32M35 121.5H36M45 121.5H47M48 121.5H49M50 121.5H51M56 121.5H59M60 121.5H63M65 121.5H67M73 121.5H74M86 121.5H87M97 121.5H98M99 121.5H100M102 121.5H104M110 121.5H111M115 121.5H117M120 121.5H121M131 121.5H132M137 121.5H138M140 121.5H141M0 122.5H2M6 122.5H8M9 122.5H10M11 122.5H14M21 122.5H22M26 122.5H27M35 122.5H37M42 122.5H45M46 122.5H47M61 122.5H62M69 122.5H70M75 122.5H76M77 122.5H78M80 122.5H81M85 122.5H86M87 122.5H88M89 122.5H90M91 122.5H92M110 122.5H111M112 122.5H113M118 122.5H122M128 122.5H129M141 122.5H142M1 123.5H3M7 123.5H8M9 123.5H10M17 123.5H18M20 123.5H21M22 123.5H24M32 123.5H33M39 123.5H42M43 123.5H46M54 123.5H55M65 123.5H67M69 123.5H70M76 123.5H77M79 123.5H80M81 123.5H83M88 123.5H90M91 123.5H92M100 123.5H101M103 123.5H105M108 123.5H110M111 123.5H114M120 123.5H121M123 123.5H124M128 123.5H129M132 123.5H133M134 123.5H136M138 123.5H139M143 123.5H144M0 124.5H1M5 124.5H6M21 124.5H22M24 124.5H25M26 124.5H30M32 124.5H33M37 124.5H38M39 124.5H40M46 124.5H48M54 124.5H55M65 124.5H66M80 124.5H81M91 124.5H93M105 124.5H106M110 124.5H111M117 124.5H118M125 124.5H126M132 124.5H133M134 124.5H135M143 124.5H144M2 125.5H3M7 125.5H8M9 125.5H10M14 125.5H15M19 125.5H21M22 125.5H23M24 125.5H25M26 125.5H27M32 125.5H33M35 125.5H36M38 125.5H39M40 125.5H42M54 125.5H55M64 125.5H65M73 125.5H74M79 125.5H80M81 125.5H82M85 125.5H86M87 125.5H88M89 125.5H90M94 125.5H95M96 125.5H97M103 125.5H107M110 125.5H111M114 125.5H115M117 125.5H118M123 125.5H124M131 125.5H132M137 125.5H138M18 126.5H19M20 126.5H22M23 126.5H24M29 126.5H31M33 126.5H34M39 126.5H40M42 126.5H43M47 126.5H48M55 126.5H56M60 126.5H61M66 126.5H67M80 126.5H81M86 126.5H87M88 126.5H90M94 126.5H95M96 126.5H97M98 126.5H99M105 126.5H106M107 126.5H108M110 126.5H111M112 126.5H113M116 126.5H119M121 126.5H122M129 126.5H130M5 127.5H6M19 127.5H20M22 127.5H24M25 127.5H27M28 127.5H29M33 127.5H34M37 127.5H38M44 127.5H45M46 127.5H47M49 127.5H50M53 127.5H54M72 127.5H73M91 127.5H92M97 127.5H98M99 127.5H101M122 127.5H124M129 127.5H130M140 127.5H141M142 127.5H143M9 128.5H11M22 128.5H24M28 128.5H29M30 128.5H31M36 128.5H37M38 128.5H40M44 128.5H45M46 128.5H47M52 128.5H53M55 128.5H56M83 128.5H84M85 128.5H86M90 128.5H91M93 128.5H95M96 128.5H97M98 128.5H100M101 128.5H102M109 128.5H111M114 128.5H115M119 128.5H120M127 128.5H128M129 128.5H130M133 128.5H135M136 128.5H138M139 128.5H140M141 128.5H142M9 129.5H10M17 129.5H18M30 129.5H31M37 129.5H39M40 129.5H41M46 129.5H47M52 129.5H53M59 129.5H60M61 129.5H63M64 129.5H65M68 129.5H70M85 129.5H86M87 129.5H88M93 129.5H94M96 129.5H97M98 129.5H99M107 129.5H109M111 129.5H113M119 129.5H120M129 129.5H130M133 129.5H135M136 129.5H138M139 129.5H141M142 129.5H144M0 130.5H1M8 130.5H9M24 130.5H25M30 130.5H31M32 130.5H33M34 130.5H36M42 130.5H43M44 130.5H45M50 130.5H52M54 130.5H55M63 130.5H64M68 130.5H69M72 130.5H73M75 130.5H76M80 130.5H82M83 130.5H85M86 130.5H87M96 130.5H97M98 130.5H99M104 130.5H107M122 130.5H123M128 130.5H129M130 130.5H131M135 130.5H137M140 130.5H141M142 130.5H143M2 131.5H3M10 131.5H11M12 131.5H13M14 131.5H15M19 131.5H20M21 131.5H22M23 131.5H26M33 131.5H34M42 131.5H43M44 131.5H45M47 131.5H48M49 131.5H50M53 131.5H54M63 131.5H64M88 131.5H90M97 131.5H98M103 131.5H104M105 131.5H106M114 131.5H115M118 131.5H119M120 131.5H121M129 131.5H132M133 131.5H134M139 131.5H140M6 132.5H8M9 132.5H10M11 132.5H13M14 132.5H15M17 132.5H18M32 132.5H33M41 132.5H42M43 132.5H44M45 132.5H47M48 132.5H49M53 132.5H54M56 132.5H57M63 132.5H64M71 132.5H73M74 132.5H75M89 132.5H90M97 132.5H99M104 132.5H106M115 132.5H116M119 132.5H120M124 132.5H125M134 132.5H135M2 133.5H4M6 133.5H7M13 133.5H16M18 133.5H19M20 133.5H21M25 133.5H26M30 133.5H31M33 133.5H34M39 133.5H41M43 133.5H44M47 133.5H48M55 133.5H56M59 133.5H60M61 133.5H62M65 133.5H66M72 133.5H75M77 133.5H78M79 133.5H81M84 133.5H86M89 133.5H90M103 133.5H104M107 133.5H108M111 133.5H112M116 133.5H119M120 133.5H121M129 133.5H130M134 133.5H136M143 133.5H144M0 134.5H2M15 134.5H16M17 134.5H18M20 134.5H21M25 134.5H27M39 134.5H40M41 134.5H42M49 134.5H50M55 134.5H56M60 134.5H62M63 134.5H65M67 134.5H68M75 134.5H77M78 134.5H79M85 134.5H88M92 134.5H93M98 134.5H99M100 134.5H101M108 134.5H109M127 134.5H128M136 134.5H137M138 134.5H140M4 135.5H5M6 135.5H7M14 135.5H15M16 135.5H18M22 135.5H23M24 135.5H25M26 135.5H28M30 135.5H31M32 135.5H33M34 135.5H35M38 135.5H39M40 135.5H41M52 135.5H53M62 135.5H63M64 135.5H66M68 135.5H70M75 135.5H76M84 135.5H85M86 135.5H87M88 135.5H90M93 135.5H94M103 135.5H104M108 135.5H109M118 135.5H119M135 135.5H136M137 135.5H138M0 136.5H2M5 136.5H6M7 136.5H8M9 136.5H10M11 136.5H12M13 136.5H14M15 136.5H16M21 136.5H22M27 136.5H28M31 136.5H33M36 136.5H38M41 136.5H43M49 136.5H51M52 136.5H53M65 136.5H66M72 136.5H73M76 136.5H77M87 136.5H88M93 136.5H94M95 136.5H96M99 136.5H100M102 136.5H103M108 136.5H109M121 136.5H125M126 136.5H128M131 136.5H132M136 136.5H137M4 137.5H5M6 137.5H7M14 137.5H15M23 137.5H24M32 137.5H33M38 137.5H39M44 137.5H45M47 137.5H50M51 137.5H52M53 137.5H55M69 137.5H70M76 137.5H77M80 137.5H81M89 137.5H90M93 137.5H95M108 137.5H109M114 137.5H115M122 137.5H123M124 137.5H125M133 137.5H134M143 137.5H144M2 138.5H3M7 138.5H9M21 138.5H22M24 138.5H25M27 138.5H28M33 138.5H35M49 138.5H50M51 138.5H52M63 138.5H64M69 138.5H70M72 138.5H73M77 138.5H78M82 138.5H83M91 138.5H92M93 138.5H94M100 138.5H101M102 138.5H104M108 138.5H109M112 138.5H113M114 138.5H115M117 138.5H118M121 138.5H122M123 138.5H124M130 138.5H131M141 138.5H143M1 139.5H2M9 139.5H11M20 139.5H21M25 139.5H27M29 139.5H30M40 139.5H41M48 139.5H49M52 139.5H53M59 139.5H60M62 139.5H63M66 139.5H67M70 139.5H71M75 139.5H76M79 139.5H80M81 139.5H82M84 139.5H85M87 139.5H88M91 139.5H92M95 139.5H96M100 139.5H102M103 139.5H104M110 139.5H111M113 139.5H114M115 139.5H117M120 139.5H121M127 139.5H129M136 139.5H137M143 139.5H144M8 140.5H9M10 140.5H11M18 140.5H19M26 140.5H27M28 140.5H29M30 140.5H31M32 140.5H33M49 140.5H50M52 140.5H53M56 140.5H57M60 140.5H62M77 140.5H78M80 140.5H81M82 140.5H83M84 140.5H85M87 140.5H88M90 140.5H91M92 140.5H95M103 140.5H104M106 140.5H109M110 140.5H111M115 140.5H118M120 140.5H121M129 140.5H130M133 140.5H134M135 140.5H139M140 140.5H141M7 141.5H9M14 141.5H15M21 141.5H22M24 141.5H25M27 141.5H28M38 141.5H39M42 141.5H43M44 141.5H45M47 141.5H48M51 141.5H52M53 141.5H54M56 141.5H58M60 141.5H62M64 141.5H65M66 141.5H67M68 141.5H69M77 141.5H78M79 141.5H80M81 141.5H83M86 141.5H87M89 141.5H90M93 141.5H94M95 141.5H96M109 141.5H110M122 141.5H123M125 141.5H127M131 141.5H132M6 142.5H8M13 142.5H14M17 142.5H18M19 142.5H20M24 142.5H25M36 142.5H37M40 142.5H41M44 142.5H45M47 142.5H51M52 142.5H53M54 142.5H59M61 142.5H62M63 142.5H66M67 142.5H68M73 142.5H75M80 142.5H81M85 142.5H86M87 142.5H88M90 142.5H91M92 142.5H93M94 142.5H96M97 142.5H99M100 142.5H101M115 142.5H118M126 142.5H127M129 142.5H130M133 142.5H134M135 142.5H136M141 142.5H142M2 143.5H3M6 143.5H7M16 143.5H17M18 143.5H19M30 143.5H31M33 143.5H36M37 143.5H38M39 143.5H41M43 143.5H44M53 143.5H54M55 143.5H56M60 143.5H61M66 143.5H67M71 143.5H73M84 143.5H85M89 143.5H90M91 143.5H92M93 143.5H94M99 143.5H101M103 143.5H104M105 143.5H106M107 143.5H109M110 143.5H111M125 143.5H126M127 143.5H129M135 143.5H136M143 143.5H144" stroke="#dcdcdc" stroke-width="1"/><path d="M3 0.5H4M7 0.5H8M17 0.5H18M22 0.5H23M27 0.5H28M45 0.5H46M67 0.5H68M70 0.5H71M74 0.5H76M78 0.5H79M89 0.5H90M96 0.5H97M99 0.5H100M103 0.5H104M105 0.5H106M117 0.5H118M120 0.5H121M122 0.5H123M133 0.5H134M136 0.5H139M4 1.5H6M27 1.5H28M43 1.5H44M60 1.5H61M62 1.5H65M66 1.5H67M72 1.5H74M75 1.5H76M78 1.5H79M82 1.5H84M88 1.5H89M92 1.5H93M98 1.5H99M100 1.5H101M102 1.5H103M116 1.5H117M118 1.5H119M123 1.5H124M131 1.5H132M2 2.5H5M10 2.5H11M13 2.5H14M15 2.5H16M17 2.5H19M21 2.5H22M25 2.5H26M27 2.5H28M35 2.5H36M37 2.5H38M42 2.5H43M47 2.5H48M49 2.5H51M52 2.5H53M58 2.5H61M64 2.5H65M66 2.5H67M68 2.5H69M71 2.5H72M75 2.5H76M80 2.5H83M84 2.5H87M88 2.5H89M91 2.5H92M115 2.5H116M117 2.5H118M121 2.5H122M123 2.5H124M131 2.5H132M135 2.5H136M138 2.5H139M0 3.5H1M6 3.5H7M8 3.5H11M14 3.5H15M18 3.5H19M27 3.5H29M38 3.5H39M47 3.5H48M49 3.5H50M58 3.5H59M64 3.5H65M67 3.5H68M81 3.5H85M88 3.5H89M100 3.5H103M106 3.5H108M114 3.5H115M122 3.5H123M136 3.5H137M141 3.5H142M4 4.5H5M9 4.5H10M25 4.5H27M28 4.5H30M33 4.5H34M39 4.5H40M48 4.5H50M58 4.5H59M60 4.5H61M67 4.5H68M75 4.5H76M81 4.5H82M89 4.5H90M100 4.5H101M102 4.5H103M108 4.5H109M113 4.5H114M116 4.5H117M122 4.5H123M124 4.5H125M127 4.5H128M129 4.5H130M5 5.5H6M9 5.5H11M12 5.5H13M14 5.5H15M20 5.5H21M24 5.5H25M27 5.5H29M32 5.5H33M34 5.5H35M40 5.5H41M60 5.5H61M65 5.5H66M68 5.5H69M71 5.5H72M76 5.5H77M85 5.5H86M90 5.5H91M93 5.5H94M100 5.5H101M103 5.5H104M105 5.5H106M107 5.5H108M112 5.5H113M123 5.5H125M130 5.5H131M134 5.5H136M143 5.5H144M2 6.5H3M5 6.5H6M12 6.5H14M16 6.5H17M31 6.5H33M37 6.5H38M47 6.5H48M54 6.5H55M57 6.5H58M59 6.5H60M66 6.5H67M72 6.5H73M77 6.5H79M81 6.5H82M88 6.5H89M90 6.5H91M99 6.5H100M101 6.5H102M110 6.5H113M120 6.5H121M124 6.5H125M127 6.5H128M129 6.5H130M133 6.5H134M5 7.5H6M12 7.5H13M14 7.5H15M20 7.5H21M22 7.5H23M31 7.5H32M35 7.5H36M40 7.5H43M45 7.5H47M53 7.5H54M59 7.5H60M63 7.5H65M72 7.5H73M78 7.5H79M87 7.5H90M100 7.5H101M108 7.5H109M112 7.5H113M120 7.5H121M127 7.5H128M130 7.5H131M133 7.5H134M136 7.5H137M6 8.5H7M23 8.5H24M30 8.5H33M34 8.5H35M37 8.5H38M57 8.5H59M66 8.5H67M68 8.5H69M73 8.5H75M78 8.5H79M81 8.5H82M90 8.5H92M93 8.5H94M97 8.5H98M101 8.5H102M108 8.5H109M111 8.5H112M124 8.5H125M130 8.5H132M136 8.5H137M139 8.5H140M142 8.5H143M2 9.5H3M10 9.5H11M19 9.5H21M25 9.5H26M30 9.5H31M32 9.5H34M38 9.5H41M45 9.5H47M57 9.5H58M59 9.5H60M67 9.5H68M71 9.5H72M75 9.5H76M78 9.5H79M84 9.5H85M86 9.5H87M90 9.5H91M92 9.5H94M102 9.5H103M107 9.5H108M115 9.5H117M119 9.5H120M123 9.5H124M135 9.5H136M137 9.5H139M143 9.5H144M2 10.5H3M6 10.5H7M18 10.5H20M24 10.5H25M28 10.5H29M32 10.5H33M34 10.5H35M45 10.5H47M50 10.5H51M75 10.5H76M82 10.5H83M87 10.5H89M92 10.5H93M104 10.5H105M106 10.5H107M110 10.5H112M115 10.5H116M117 10.5H118M126 10.5H129M131 10.5H132M133 10.5H135M136 10.5H138M139 10.5H140M142 10.5H143M1 11.5H3M4 11.5H5M6 11.5H7M18 11.5H19M20 11.5H22M24 11.5H25M30 11.5H31M33 11.5H34M41 11.5H42M50 11.5H52M53 11.5H54M57 11.5H60M62 11.5H64M65 11.5H67M71 11.5H72M73 11.5H75M78 11.5H80M87 11.5H88M89 11.5H91M96 11.5H97M109 11.5H110M111 11.5H112M123 11.5H124M128 11.5H129M131 11.5H132M133 11.5H136M137 11.5H138M139 11.5H140M142 11.5H143M9 12.5H10M14 12.5H15M17 12.5H18M19 12.5H21M22 12.5H23M28 12.5H30M45 12.5H46M48 12.5H50M51 12.5H52M53 12.5H54M57 12.5H58M59 12.5H60M61 12.5H62M63 12.5H64M71 12.5H72M73 12.5H75M78 12.5H79M87 12.5H88M91 12.5H92M97 12.5H98M101 12.5H102M106 12.5H107M110 12.5H111M119 12.5H120M126 12.5H128M137 12.5H139M143 12.5H144M5 13.5H6M12 13.5H15M20 13.5H22M24 13.5H26M29 13.5H30M34 13.5H37M41 13.5H42M43 13.5H45M49 13.5H50M57 13.5H59M73 13.5H74M75 13.5H76M79 13.5H80M92 13.5H93M101 13.5H102M105 13.5H106M112 13.5H113M120 13.5H121M125 13.5H126M132 13.5H133M1 14.5H2M5 14.5H6M9 14.5H10M12 14.5H14M15 14.5H16M31 14.5H32M33 14.5H34M36 14.5H37M42 14.5H43M47 14.5H48M51 14.5H52M66 14.5H68M74 14.5H75M76 14.5H77M85 14.5H87M90 14.5H92M93 14.5H94M107 14.5H108M113 14.5H114M117 14.5H118M120 14.5H122M123 14.5H124M138 14.5H139M142 14.5H143M2 15.5H3M4 15.5H5M12 15.5H13M14 15.5H16M24 15.5H26M33 15.5H34M38 15.5H39M51 15.5H52M61 15.5H62M71 15.5H73M74 15.5H75M80 15.5H81M82 15.5H83M90 15.5H91M104 15.5H105M107 15.5H108M111 15.5H112M113 15.5H114M116 15.5H117M118 15.5H121M123 15.5H124M125 15.5H126M127 15.5H129M130 15.5H131M139 15.5H140M143 15.5H144M0 16.5H1M10 16.5H12M19 16.5H20M23 16.5H25M26 16.5H27M38 16.5H39M43 16.5H44M46 16.5H48M49 16.5H51M53 16.5H54M60 16.5H61M73 16.5H75M80 16.5H81M86 16.5H88M94 16.5H96M97 16.5H98M101 16.5H102M109 16.5H111M117 16.5H118M119 16.5H122M123 16.5H125M128 16.5H129M130 16.5H131M1 17.5H3M10 17.5H11M27 17.5H28M39 17.5H42M44 17.5H45M46 17.5H47M52 17.5H53M54 17.5H56M61 17.5H62M68 17.5H69M73 17.5H75M82 17.5H83M86 17.5H87M89 17.5H90M91 17.5H92M93 17.5H94M95 17.5H96M111 17.5H113M115 17.5H116M117 17.5H118M119 17.5H120M121 17.5H122M128 17.5H129M137 17.5H138M3 18.5H4M11 18.5H12M15 18.5H16M19 18.5H20M23 18.5H25M26 18.5H27M34 18.5H36M39 18.5H40M45 18.5H47M53 18.5H55M68 18.5H69M72 18.5H73M88 18.5H89M96 18.5H97M111 18.5H112M114 18.5H115M123 18.5H124M125 18.5H127M132 18.5H133M134 18.5H135M136 18.5H138M142 18.5H143M2 19.5H4M7 19.5H8M9 19.5H10M16 19.5H17M21 19.5H22M27 19.5H28M35 19.5H36M39 19.5H41M44 19.5H45M47 19.5H48M50 19.5H51M55 19.5H56M64 19.5H69M73 19.5H74M80 19.5H83M88 19.5H89M92 19.5H93M99 19.5H100M102 19.5H103M106 19.5H107M115 19.5H116M121 19.5H122M129 19.5H130M131 19.5H132M0 20.5H3M10 20.5H12M14 20.5H16M18 20.5H20M34 20.5H35M40 20.5H43M47 20.5H48M51 20.5H52M54 20.5H55M59 20.5H60M69 20.5H71M91 20.5H92M101 20.5H102M103 20.5H104M113 20.5H116M127 20.5H128M141 20.5H143M2 21.5H3M5 21.5H6M10 21.5H11M13 21.5H14M17 21.5H18M19 21.5H21M25 21.5H26M39 21.5H40M45 21.5H46M51 21.5H52M58 21.5H59M63 21.5H64M69 21.5H70M83 21.5H84M88 21.5H90M95 21.5H97M102 21.5H103M118 21.5H119M123 21.5H126M135 21.5H136M143 21.5H144M14 22.5H15M16 22.5H17M24 22.5H26M27 22.5H29M31 22.5H32M48 22.5H50M54 22.5H55M60 22.5H61M65 22.5H67M73 22.5H74M75 22.5H78M84 22.5H85M90 22.5H91M92 22.5H93M96 22.5H97M100 22.5H102M103 22.5H104M106 22.5H107M109 22.5H110M130 22.5H131M133 22.5H135M136 22.5H137M1 23.5H2M4 23.5H5M6 23.5H7M8 23.5H9M21 23.5H22M27 23.5H29M33 23.5H34M39 23.5H42M44 23.5H45M51 23.5H52M54 23.5H55M58 23.5H59M64 23.5H65M77 23.5H78M84 23.5H85M88 23.5H91M95 23.5H97M98 23.5H100M102 23.5H103M104 23.5H106M114 23.5H117M124 23.5H125M129 23.5H130M133 23.5H134M135 23.5H137M142 23.5H143M4 24.5H5M11 24.5H12M21 24.5H22M30 24.5H31M46 24.5H47M54 24.5H56M58 24.5H60M61 24.5H62M73 24.5H74M76 24.5H77M80 24.5H82M83 24.5H84M86 24.5H87M95 24.5H96M97 24.5H98M103 24.5H104M108 24.5H109M112 24.5H114M117 24.5H119M127 24.5H128M134 24.5H136M142 24.5H143M5 25.5H6M10 25.5H11M12 25.5H13M16 25.5H17M21 25.5H22M24 25.5H26M29 25.5H30M34 25.5H35M41 25.5H44M55 25.5H56M57 25.5H58M59 25.5H60M66 25.5H68M74 25.5H75M79 25.5H80M92 25.5H93M95 25.5H98M114 25.5H115M123 25.5H124M127 25.5H128M133 25.5H134M141 25.5H142M0 26.5H2M11 26.5H13M22 26.5H23M24 26.5H25M30 26.5H31M40 26.5H42M44 26.5H46M55 26.5H56M58 26.5H59M63 26.5H66M80 26.5H81M85 26.5H87M88 26.5H90M91 26.5H93M98 26.5H99M108 26.5H109M110 26.5H112M119 26.5H120M124 26.5H125M126 26.5H127M128 26.5H130M133 26.5H134M135 26.5H136M0 27.5H1M6 27.5H7M11 27.5H12M13 27.5H14M21 27.5H22M25 27.5H26M35 27.5H36M46 27.5H47M50 27.5H52M60 27.5H61M64 27.5H67M71 27.5H72M73 27.5H74M90 27.5H91M93 27.5H94M98 27.5H99M100 27.5H103M107 27.5H108M120 27.5H122M127 27.5H128M129 27.5H130M3 28.5H4M5 28.5H6M13 28.5H14M24 28.5H25M28 28.5H29M31 28.5H32M33 28.5H34M35 28.5H36M41 28.5H42M45 28.5H46M47 28.5H48M50 28.5H51M54 28.5H55M61 28.5H62M64 28.5H65M71 28.5H72M73 28.5H74M78 28.5H79M83 28.5H84M100 28.5H101M103 28.5H104M116 28.5H117M118 28.5H121M137 28.5H138M139 28.5H140M0 29.5H1M13 29.5H14M21 29.5H22M27 29.5H28M29 29.5H31M34 29.5H35M44 29.5H45M46 29.5H47M48 29.5H49M51 29.5H52M54 29.5H55M63 29.5H64M67 29.5H68M70 29.5H71M72 29.5H73M80 29.5H81M88 29.5H89M90 29.5H91M105 29.5H106M116 29.5H117M118 29.5H119M121 29.5H122M123 29.5H125M127 29.5H128M129 29.5H130M137 29.5H140M1 30.5H2M4 30.5H5M13 30.5H14M15 30.5H16M19 30.5H20M23 30.5H24M31 30.5H32M33 30.5H34M36 30.5H37M43 30.5H44M46 30.5H47M49 30.5H50M53 30.5H54M59 30.5H60M62 30.5H63M66 30.5H67M68 30.5H69M71 30.5H72M74 30.5H75M89 30.5H90M93 30.5H94M95 30.5H96M100 30.5H101M104 30.5H105M106 30.5H109M110 30.5H113M116 30.5H117M124 30.5H125M128 30.5H130M134 30.5H135M142 30.5H143M8 31.5H9M15 31.5H16M19 31.5H21M26 31.5H27M29 31.5H30M31 31.5H32M37 31.5H38M43 31.5H44M54 31.5H55M56 31.5H57M60 31.5H61M66 31.5H67M69 31.5H72M86 31.5H87M94 31.5H95M100 31.5H101M108 31.5H109M110 31.5H111M114 31.5H116M128 31.5H129M135 31.5H136M1 32.5H3M8 32.5H10M21 32.5H22M23 32.5H24M27 32.5H28M30 32.5H31M33 32.5H34M35 32.5H36M43 32.5H45M54 32.5H55M58 32.5H59M64 32.5H66M73 32.5H74M82 32.5H83M90 32.5H92M99 32.5H101M111 32.5H113M123 32.5H124M126 32.5H128M132 32.5H133M0 33.5H1M2 33.5H3M7 33.5H9M12 33.5H14M25 33.5H26M32 33.5H33M34 33.5H36M40 33.5H41M47 33.5H48M49 33.5H50M61 33.5H63M64 33.5H65M67 33.5H68M69 33.5H71M72 33.5H74M88 33.5H90M91 33.5H93M99 33.5H100M115 33.5H116M133 33.5H134M3 34.5H4M6 34.5H7M9 34.5H10M22 34.5H25M26 34.5H27M28 34.5H29M35 34.5H36M41 34.5H42M44 34.5H45M46 34.5H47M61 34.5H62M69 34.5H71M76 34.5H77M79 34.5H80M81 34.5H83M86 34.5H87M90 34.5H91M92 34.5H93M106 34.5H108M116 34.5H118M126 34.5H127M128 34.5H129M132 34.5H133M139 34.5H140M141 34.5H142M2 35.5H3M4 35.5H5M11 35.5H12M15 35.5H16M22 35.5H23M25 35.5H27M35 35.5H36M42 35.5H44M47 35.5H48M51 35.5H52M54 35.5H55M58 35.5H59M60 35.5H61M74 35.5H75M79 35.5H81M82 35.5H83M89 35.5H90M103 35.5H106M108 35.5H109M110 35.5H111M112 35.5H113M119 35.5H120M134 35.5H135M136 35.5H140M141 35.5H142M8 36.5H11M12 36.5H13M15 36.5H16M25 36.5H26M34 36.5H35M36 36.5H37M46 36.5H48M49 36.5H50M57 36.5H58M59 36.5H60M62 36.5H63M64 36.5H65M69 36.5H70M72 36.5H73M76 36.5H79M80 36.5H81M82 36.5H83M99 36.5H100M107 36.5H108M111 36.5H112M116 36.5H117M124 36.5H125M138 36.5H139M4 37.5H5M7 37.5H9M10 37.5H13M15 37.5H16M24 37.5H27M34 37.5H35M42 37.5H43M45 37.5H46M47 37.5H48M55 37.5H57M58 37.5H59M63 37.5H65M66 37.5H67M77 37.5H80M88 37.5H89M95 37.5H97M101 37.5H102M111 37.5H113M114 37.5H115M125 37.5H126M129 37.5H130M131 37.5H132M137 37.5H138M1 38.5H2M6 38.5H7M8 38.5H12M14 38.5H15M20 38.5H21M29 38.5H30M31 38.5H32M34 38.5H35M36 38.5H37M41 38.5H43M51 38.5H52M62 38.5H63M67 38.5H68M71 38.5H72M76 38.5H78M79 38.5H81M82 38.5H83M84 38.5H85M94 38.5H95M96 38.5H97M101 38.5H103M108 38.5H111M112 38.5H113M115 38.5H117M118 38.5H119M128 38.5H129M138 38.5H139M0 39.5H1M2 39.5H3M6 39.5H7M9 39.5H10M14 39.5H15M18 39.5H19M21 39.5H22M29 39.5H30M34 39.5H35M41 39.5H42M47 39.5H48M49 39.5H51M57 39.5H58M66 39.5H67M73 39.5H74M79 39.5H80M88 39.5H89M90 39.5H91M107 39.5H109M114 39.5H115M116 39.5H117M121 39.5H122M127 39.5H129M133 39.5H134M139 39.5H140M141 39.5H143M4 40.5H5M6 40.5H7M9 40.5H12M13 40.5H14M16 40.5H19M20 40.5H23M24 40.5H25M31 40.5H32M33 40.5H35M40 40.5H41M53 40.5H55M62 40.5H63M65 40.5H66M68 40.5H69M70 40.5H72M74 40.5H75M76 40.5H77M80 40.5H81M82 40.5H83M88 40.5H91M94 40.5H95M98 40.5H100M101 40.5H102M103 40.5H105M107 40.5H108M109 40.5H110M112 40.5H114M115 40.5H117M121 40.5H122M124 40.5H125M134 40.5H135M143 40.5H144M10 41.5H11M16 41.5H17M20 41.5H21M27 41.5H29M31 41.5H32M33 41.5H34M37 41.5H38M43 41.5H45M50 41.5H51M56 41.5H59M67 41.5H68M69 41.5H71M78 41.5H79M93 41.5H96M97 41.5H98M101 41.5H102M104 41.5H105M112 41.5H113M114 41.5H115M119 41.5H120M127 41.5H128M134 41.5H137M138 41.5H139M9 42.5H10M16 42.5H17M26 42.5H28M31 42.5H32M35 42.5H36M43 42.5H44M50 42.5H51M55 42.5H58M68 42.5H69M71 42.5H72M78 42.5H79M80 42.5H81M93 42.5H94M98 42.5H100M101 42.5H102M110 42.5H111M117 42.5H119M123 42.5H124M136 42.5H137M5 43.5H6M9 43.5H11M13 43.5H14M27 43.5H28M35 43.5H36M41 43.5H42M49 43.5H50M52 43.5H53M57 43.5H58M61 43.5H62M63 43.5H64M67 43.5H68M77 43.5H78M79 43.5H80M84 43.5H85M86 43.5H89M95 43.5H96M100 43.5H101M116 43.5H117M121 43.5H123M128 43.5H129M134 43.5H135M138 43.5H139M141 43.5H142M2 44.5H3M5 44.5H8M10 44.5H11M14 44.5H15M17 44.5H19M21 44.5H22M25 44.5H28M29 44.5H31M34 44.5H36M37 44.5H38M40 44.5H41M43 44.5H44M49 44.5H51M58 44.5H59M68 44.5H69M71 44.5H72M75 44.5H77M79 44.5H80M81 44.5H82M84 44.5H85M92 44.5H93M98 44.5H99M105 44.5H106M111 44.5H113M117 44.5H118M124 44.5H125M130 44.5H131M138 44.5H141M3 45.5H7M13 45.5H14M15 45.5H17M21 45.5H22M23 45.5H27M31 45.5H33M34 45.5H35M41 45.5H43M55 45.5H56M64 45.5H65M70 45.5H72M79 45.5H80M85 45.5H87M91 45.5H92M100 45.5H102M109 45.5H110M115 45.5H116M117 45.5H118M122 45.5H123M130 45.5H131M135 45.5H137M140 45.5H141M4 46.5H5M7 46.5H9M14 46.5H15M16 46.5H17M23 46.5H25M27 46.5H28M29 46.5H30M33 46.5H34M35 46.5H36M49 46.5H50M65 46.5H66M71 46.5H73M89 46.5H90M91 46.5H92M94 46.5H95M96 46.5H97M100 46.5H101M102 46.5H103M110 46.5H111M112 46.5H113M114 46.5H116M117 46.5H118M122 46.5H123M125 46.5H126M138 46.5H139M140 46.5H141M6 47.5H7M18 47.5H20M24 47.5H25M28 47.5H29M33 47.5H34M38 47.5H39M59 47.5H60M64 47.5H65M66 47.5H67M68 47.5H69M70 47.5H71M72 47.5H74M75 47.5H77M83 47.5H84M86 47.5H87M89 47.5H92M98 47.5H99M101 47.5H102M121 47.5H122M123 47.5H124M126 47.5H127M128 47.5H129M132 47.5H135M136 47.5H137M140 47.5H142M143 47.5H144M0 48.5H1M2 48.5H3M14 48.5H15M17 48.5H18M23 48.5H24M34 48.5H38M48 48.5H49M57 48.5H59M63 48.5H64M65 48.5H66M74 48.5H75M82 48.5H83M84 48.5H86M92 48.5H94M96 48.5H97M103 48.5H104M105 48.5H106M109 48.5H110M121 48.5H124M127 48.5H128M129 48.5H130M138 48.5H139M141 48.5H143M0 49.5H1M2 49.5H3M8 49.5H11M13 49.5H15M16 49.5H17M21 49.5H22M34 49.5H35M36 49.5H37M40 49.5H42M46 49.5H47M52 49.5H53M56 49.5H57M58 49.5H59M64 49.5H65M70 49.5H71M74 49.5H76M78 49.5H81M85 49.5H88M89 49.5H91M92 49.5H93M94 49.5H95M112 49.5H113M128 49.5H129M132 49.5H133M141 49.5H142M0 50.5H1M13 50.5H14M17 50.5H19M20 50.5H21M24 50.5H25M34 50.5H36M37 50.5H38M39 50.5H41M49 50.5H50M56 50.5H57M58 50.5H59M60 50.5H61M68 50.5H69M71 50.5H73M77 50.5H78M86 50.5H87M89 50.5H90M93 50.5H95M96 50.5H98M105 50.5H106M113 50.5H114M115 50.5H118M129 50.5H130M133 50.5H134M138 50.5H140M4 51.5H5M9 51.5H10M12 51.5H13M14 51.5H15M17 51.5H18M21 51.5H22M23 51.5H24M25 51.5H27M38 51.5H39M50 51.5H53M57 51.5H59M63 51.5H64M66 51.5H67M72 51.5H75M84 51.5H85M89 51.5H90M92 51.5H93M94 51.5H97M107 51.5H108M111 51.5H113M120 51.5H121M122 51.5H123M136 51.5H137M142 51.5H144M5 52.5H6M10 52.5H11M14 52.5H15M21 52.5H22M31 52.5H33M34 52.5H35M38 52.5H39M42 52.5H43M48 52.5H49M62 52.5H63M73 52.5H75M79 52.5H80M81 52.5H82M84 52.5H85M87 52.5H88M90 52.5H91M97 52.5H99M100 52.5H101M107 52.5H108M121 52.5H123M124 52.5H125M129 52.5H131M134 52.5H136M137 52.5H138M143 52.5H144M1 53.5H2M3 53.5H5M10 53.5H12M20 53.5H21M23 53.5H24M26 53.5H27M29 53.5H31M41 53.5H42M47 53.5H48M49 53.5H50M53 53.5H54M59 53.5H61M62 53.5H65M71 53.5H72M74 53.5H75M79 53.5H81M85 53.5H86M96 53.5H97M104 53.5H106M107 53.5H109M118 53.5H119M121 53.5H122M127 53.5H128M135 53.5H137M138 53.5H140M142 53.5H143M1 54.5H2M9 54.5H11M12 54.5H14M16 54.5H17M21 54.5H22M23 54.5H24M34 54.5H35M36 54.5H37M38 54.5H39M41 54.5H42M44 54.5H45M61 54.5H63M65 54.5H67M72 54.5H73M74 54.5H75M78 54.5H79M86 54.5H88M89 54.5H90M93 54.5H94M101 54.5H102M103 54.5H105M115 54.5H116M121 54.5H123M129 54.5H131M132 54.5H135M139 54.5H140M0 55.5H1M14 55.5H15M16 55.5H17M19 55.5H20M21 55.5H22M24 55.5H25M30 55.5H31M37 55.5H38M40 55.5H41M48 55.5H49M53 55.5H55M56 55.5H57M61 55.5H62M63 55.5H65M68 55.5H69M72 55.5H73M76 55.5H78M79 55.5H82M83 55.5H84M85 55.5H86M87 55.5H90M91 55.5H92M96 55.5H97M98 55.5H99M103 55.5H104M107 55.5H110M112 55.5H113M118 55.5H119M127 55.5H129M131 55.5H132M135 55.5H136M143 55.5H144M1 56.5H3M6 56.5H8M9 56.5H10M11 56.5H12M14 56.5H16M20 56.5H21M32 56.5H33M38 56.5H39M44 56.5H45M54 56.5H55M56 56.5H57M61 56.5H63M66 56.5H67M71 56.5H72M74 56.5H75M76 56.5H78M82 56.5H83M85 56.5H86M90 56.5H91M97 56.5H98M102 56.5H103M108 56.5H109M115 56.5H116M117 56.5H118M125 56.5H126M128 56.5H129M131 56.5H132M138 56.5H140M1 57.5H2M3 57.5H4M12 57.5H13M29 57.5H31M33 57.5H34M39 57.5H41M44 57.5H45M51 57.5H53M55 57.5H57M62 57.5H63M67 57.5H68M75 57.5H76M85 57.5H86M96 57.5H97M105 57.5H106M110 57.5H112M113 57.5H114M116 57.5H117M125 57.5H126M133 57.5H134M137 57.5H138M140 57.5H141M4 58.5H5M9 58.5H11M20 58.5H21M33 58.5H34M42 58.5H45M51 58.5H52M54 58.5H55M56 58.5H57M62 58.5H63M66 58.5H67M69 58.5H70M80 58.5H82M84 58.5H85M86 58.5H88M100 58.5H101M109 58.5H110M116 58.5H117M125 58.5H126M135 58.5H136M143 58.5H144M0 59.5H1M2 59.5H4M5 59.5H6M23 59.5H25M26 59.5H28M31 59.5H32M35 59.5H36M39 59.5H40M51 59.5H52M59 59.5H60M66 59.5H67M70 59.5H72M78 59.5H80M81 59.5H82M88 59.5H89M93 59.5H94M99 59.5H100M106 59.5H108M109 59.5H111M116 59.5H117M118 59.5H119M123 59.5H124M129 59.5H130M135 59.5H137M142 59.5H143M19 60.5H20M21 60.5H22M28 60.5H29M40 60.5H42M63 60.5H65M66 60.5H68M69 60.5H70M71 60.5H74M75 60.5H76M78 60.5H80M81 60.5H82M83 60.5H84M90 60.5H91M95 60.5H96M98 60.5H99M108 60.5H109M112 60.5H113M116 60.5H117M118 60.5H119M121 60.5H122M133 60.5H134M139 60.5H141M0 61.5H1M2 61.5H3M7 61.5H8M19 61.5H22M23 61.5H25M36 61.5H37M38 61.5H40M48 61.5H49M52 61.5H53M72 61.5H74M84 61.5H85M91 61.5H92M102 61.5H103M104 61.5H105M109 61.5H110M117 61.5H119M122 61.5H123M125 61.5H126M136 61.5H137M138 61.5H140M1 62.5H2M12 62.5H13M15 62.5H16M17 62.5H18M19 62.5H20M37 62.5H38M57 62.5H58M60 62.5H61M68 62.5H69M72 62.5H73M84 62.5H85M86 62.5H87M91 62.5H92M103 62.5H104M106 62.5H107M109 62.5H110M111 62.5H112M119 62.5H120M121 62.5H123M128 62.5H129M134 62.5H136M2 63.5H3M5 63.5H6M11 63.5H12M13 63.5H14M20 63.5H21M22 63.5H23M24 63.5H25M27 63.5H28M31 63.5H32M41 63.5H42M49 63.5H50M53 63.5H54M58 63.5H59M68 63.5H69M71 63.5H72M77 63.5H78M79 63.5H80M91 63.5H92M95 63.5H97M99 63.5H100M103 63.5H104M108 63.5H109M135 63.5H136M137 63.5H138M139 63.5H140M1 64.5H2M3 64.5H4M8 64.5H9M12 64.5H13M21 64.5H22M29 64.5H30M35 64.5H36M38 64.5H39M41 64.5H42M45 64.5H46M51 64.5H52M54 64.5H55M78 64.5H79M94 64.5H95M96 64.5H98M104 64.5H105M107 64.5H108M110 64.5H111M113 64.5H114M116 64.5H117M118 64.5H119M138 64.5H139M1 65.5H4M5 65.5H6M8 65.5H9M11 65.5H13M18 65.5H19M22 65.5H23M29 65.5H30M31 65.5H32M33 65.5H34M46 65.5H48M57 65.5H58M61 65.5H63M70 65.5H73M77 65.5H78M87 65.5H88M97 65.5H98M103 65.5H104M107 65.5H109M116 65.5H117M132 65.5H133M136 65.5H138M143 65.5H144M0 66.5H2M12 66.5H13M18 66.5H19M25 66.5H26M30 66.5H33M34 66.5H35M52 66.5H53M61 66.5H62M75 66.5H76M77 66.5H78M96 66.5H97M100 66.5H101M103 66.5H104M110 66.5H111M113 66.5H114M122 66.5H123M132 66.5H133M134 66.5H135M141 66.5H142M143 66.5H144M2 67.5H3M7 67.5H9M16 67.5H17M18 67.5H19M24 67.5H25M26 67.5H27M41 67.5H42M47 67.5H48M54 67.5H55M56 67.5H57M62 67.5H64M74 67.5H75M77 67.5H78M80 67.5H81M85 67.5H86M90 67.5H91M93 67.5H94M97 67.5H98M99 67.5H101M103 67.5H105M111 67.5H113M116 67.5H117M130 67.5H131M132 67.5H133M141 67.5H142M9 68.5H10M16 68.5H17M24 68.5H26M29 68.5H30M35 68.5H36M38 68.5H39M40 68.5H42M55 68.5H56M58 68.5H59M67 68.5H69M73 68.5H74M75 68.5H76M81 68.5H83M84 68.5H85M88 68.5H90M93 68.5H95M96 68.5H97M98 68.5H99M102 68.5H103M107 68.5H109M115 68.5H116M121 68.5H124M128 68.5H129M131 68.5H133M139 68.5H140M7 69.5H8M13 69.5H14M16 69.5H18M20 69.5H23M24 69.5H26M30 69.5H33M34 69.5H37M38 69.5H39M40 69.5H41M47 69.5H48M49 69.5H50M59 69.5H60M68 69.5H69M72 69.5H73M74 69.5H76M79 69.5H80M91 69.5H93M94 69.5H97M102 69.5H103M105 69.5H107M109 69.5H110M115 69.5H116M121 69.5H122M126 69.5H128M130 69.5H131M135 69.5H138M2 70.5H3M5 70.5H6M18 70.5H19M20 70.5H21M26 70.5H27M52 70.5H53M59 70.5H60M66 70.5H67M68 70.5H69M71 70.5H72M73 70.5H75M76 70.5H78M90 70.5H91M93 70.5H95M100 70.5H102M104 70.5H105M106 70.5H108M109 70.5H110M113 70.5H114M115 70.5H116M118 70.5H119M121 70.5H122M135 70.5H136M137 70.5H139M140 70.5H142M3 71.5H5M8 71.5H11M14 71.5H15M18 71.5H19M25 71.5H26M28 71.5H29M32 71.5H33M35 71.5H37M44 71.5H45M46 71.5H47M49 71.5H51M52 71.5H53M55 71.5H56M58 71.5H59M61 71.5H63M65 71.5H66M74 71.5H77M81 71.5H82M85 71.5H86M87 71.5H88M101 71.5H102M107 71.5H108M110 71.5H111M112 71.5H113M115 71.5H116M122 71.5H124M135 71.5H136M141 71.5H142M143 71.5H144M1 72.5H2M3 72.5H4M19 72.5H20M33 72.5H34M39 72.5H40M44 72.5H47M49 72.5H50M51 72.5H53M54 72.5H55M63 72.5H64M65 72.5H66M73 72.5H74M75 72.5H76M78 72.5H79M83 72.5H84M86 72.5H87M88 72.5H89M98 72.5H102M103 72.5H105M107 72.5H108M109 72.5H110M114 72.5H116M121 72.5H122M124 72.5H125M129 72.5H130M135 72.5H136M138 72.5H140M0 73.5H1M2 73.5H3M8 73.5H9M18 73.5H19M26 73.5H28M33 73.5H34M41 73.5H44M45 73.5H46M48 73.5H49M60 73.5H62M68 73.5H69M75 73.5H77M79 73.5H80M84 73.5H85M86 73.5H87M88 73.5H89M97 73.5H99M103 73.5H104M105 73.5H106M113 73.5H114M117 73.5H118M124 73.5H125M137 73.5H138M0 74.5H1M3 74.5H4M7 74.5H10M12 74.5H13M14 74.5H15M17 74.5H18M19 74.5H20M21 74.5H23M30 74.5H32M33 74.5H34M37 74.5H38M39 74.5H41M43 74.5H45M48 74.5H50M57 74.5H59M61 74.5H62M63 74.5H64M67 74.5H68M79 74.5H80M83 74.5H85M87 74.5H88M97 74.5H98M99 74.5H101M104 74.5H106M107 74.5H108M123 74.5H124M132 74.5H134M135 74.5H137M141 74.5H142M1 75.5H2M3 75.5H5M13 75.5H15M18 75.5H20M29 75.5H30M33 75.5H34M35 75.5H37M40 75.5H41M43 75.5H44M47 75.5H48M49 75.5H51M61 75.5H62M75 75.5H76M77 75.5H78M96 75.5H97M99 75.5H100M105 75.5H107M118 75.5H119M120 75.5H121M129 75.5H130M135 75.5H136M140 75.5H141M142 75.5H144M3 76.5H5M13 76.5H14M17 76.5H18M20 76.5H23M28 76.5H29M42 76.5H43M47 76.5H48M49 76.5H50M51 76.5H52M71 76.5H72M81 76.5H83M92 76.5H94M96 76.5H97M100 76.5H101M104 76.5H105M106 76.5H107M118 76.5H119M128 76.5H129M5 77.5H7M9 77.5H10M15 77.5H16M26 77.5H27M28 77.5H29M42 77.5H43M45 77.5H47M49 77.5H50M53 77.5H54M61 77.5H62M65 77.5H66M72 77.5H73M80 77.5H81M86 77.5H87M91 77.5H92M95 77.5H96M97 77.5H99M104 77.5H106M114 77.5H115M134 77.5H135M137 77.5H139M7 78.5H9M12 78.5H14M18 78.5H19M29 78.5H31M50 78.5H51M52 78.5H54M57 78.5H59M60 78.5H61M62 78.5H65M70 78.5H71M72 78.5H73M75 78.5H76M84 78.5H85M87 78.5H88M91 78.5H92M93 78.5H95M96 78.5H97M103 78.5H104M109 78.5H111M113 78.5H114M124 78.5H125M139 78.5H140M143 78.5H144M1 79.5H3M8 79.5H9M11 79.5H13M14 79.5H15M18 79.5H19M22 79.5H24M34 79.5H35M39 79.5H40M43 79.5H44M51 79.5H52M53 79.5H54M56 79.5H58M59 79.5H60M63 79.5H64M71 79.5H72M73 79.5H74M75 79.5H76M78 79.5H81M92 79.5H93M97 79.5H98M104 79.5H106M120 79.5H121M135 79.5H136M139 79.5H140M1 80.5H3M7 80.5H8M11 80.5H12M13 80.5H16M19 80.5H20M25 80.5H26M37 80.5H38M44 80.5H45M55 80.5H56M57 80.5H58M59 80.5H60M61 80.5H62M64 80.5H65M66 80.5H67M74 80.5H76M95 80.5H96M101 80.5H102M103 80.5H104M119 80.5H120M121 80.5H123M130 80.5H132M0 81.5H1M2 81.5H3M6 81.5H7M12 81.5H13M19 81.5H20M21 81.5H22M24 81.5H25M26 81.5H27M33 81.5H34M37 81.5H38M42 81.5H43M44 81.5H45M50 81.5H51M54 81.5H55M62 81.5H65M66 81.5H67M72 81.5H73M87 81.5H88M95 81.5H96M100 81.5H101M106 81.5H107M120 81.5H121M123 81.5H124M125 81.5H126M132 81.5H133M137 81.5H138M141 81.5H142M143 81.5H144M0 82.5H1M11 82.5H13M17 82.5H18M25 82.5H26M31 82.5H32M33 82.5H34M36 82.5H37M40 82.5H41M43 82.5H44M50 82.5H51M52 82.5H54M57 82.5H58M59 82.5H61M62 82.5H63M66 82.5H67M68 82.5H69M81 82.5H84M86 82.5H87M90 82.5H92M95 82.5H96M101 82.5H102M103 82.5H106M109 82.5H110M114 82.5H116M122 82.5H124M126 82.5H127M132 82.5H133M134 82.5H135M137 82.5H138M142 82.5H143M4 83.5H5M12 83.5H15M25 83.5H26M27 83.5H29M30 83.5H32M33 83.5H34M35 83.5H36M40 83.5H42M43 83.5H44M51 83.5H53M57 83.5H58M59 83.5H61M64 83.5H65M68 83.5H69M74 83.5H75M82 83.5H83M84 83.5H85M91 83.5H92M101 83.5H102M106 83.5H107M117 83.5H119M124 83.5H126M129 83.5H130M132 83.5H134M138 83.5H139M4 84.5H5M13 84.5H14M29 84.5H30M32 84.5H33M42 84.5H43M44 84.5H46M51 84.5H52M61 84.5H62M63 84.5H64M73 84.5H74M78 84.5H80M83 84.5H84M89 84.5H91M107 84.5H108M110 84.5H111M116 84.5H117M118 84.5H119M121 84.5H123M129 84.5H130M133 84.5H134M137 84.5H138M1 85.5H2M7 85.5H8M12 85.5H13M14 85.5H15M16 85.5H17M19 85.5H20M25 85.5H26M28 85.5H29M42 85.5H44M46 85.5H47M52 85.5H53M67 85.5H68M71 85.5H72M74 85.5H75M77 85.5H78M85 85.5H86M89 85.5H91M92 85.5H93M94 85.5H95M108 85.5H109M117 85.5H118M127 85.5H128M130 85.5H133M142 85.5H143M0 86.5H1M6 86.5H7M8 86.5H9M11 86.5H12M14 86.5H15M20 86.5H21M24 86.5H26M27 86.5H28M29 86.5H30M33 86.5H34M48 86.5H50M66 86.5H67M69 86.5H70M72 86.5H74M78 86.5H79M80 86.5H83M84 86.5H85M86 86.5H87M92 86.5H94M96 86.5H97M101 86.5H102M114 86.5H115M118 86.5H119M122 86.5H124M125 86.5H128M130 86.5H131M142 86.5H143M0 87.5H1M4 87.5H7M8 87.5H9M11 87.5H12M14 87.5H15M20 87.5H21M24 87.5H25M30 87.5H32M34 87.5H35M37 87.5H38M39 87.5H40M42 87.5H43M47 87.5H48M50 87.5H51M54 87.5H56M57 87.5H59M64 87.5H66M71 87.5H73M83 87.5H84M89 87.5H90M108 87.5H109M114 87.5H115M117 87.5H118M121 87.5H123M130 87.5H133M134 87.5H135M143 87.5H144M12 88.5H14M18 88.5H21M24 88.5H26M27 88.5H31M32 88.5H34M50 88.5H51M55 88.5H57M63 88.5H64M66 88.5H67M71 88.5H72M73 88.5H74M77 88.5H79M85 88.5H86M87 88.5H88M93 88.5H95M101 88.5H102M105 88.5H106M107 88.5H108M115 88.5H117M120 88.5H121M122 88.5H124M135 88.5H136M137 88.5H138M2 89.5H3M7 89.5H8M14 89.5H15M18 89.5H20M23 89.5H24M26 89.5H28M29 89.5H30M32 89.5H33M37 89.5H38M44 89.5H45M50 89.5H51M54 89.5H55M63 89.5H66M71 89.5H72M74 89.5H75M77 89.5H78M79 89.5H80M82 89.5H83M84 89.5H85M91 89.5H92M94 89.5H96M107 89.5H109M110 89.5H111M134 89.5H135M0 90.5H1M3 90.5H4M11 90.5H12M17 90.5H18M23 90.5H24M36 90.5H38M57 90.5H58M62 90.5H64M66 90.5H67M71 90.5H72M76 90.5H77M78 90.5H79M88 90.5H89M90 90.5H91M97 90.5H98M101 90.5H102M108 90.5H109M111 90.5H112M117 90.5H119M120 90.5H121M132 90.5H133M137 90.5H140M1 91.5H2M4 91.5H5M7 91.5H10M13 91.5H14M18 91.5H20M22 91.5H23M24 91.5H25M26 91.5H28M29 91.5H30M32 91.5H33M36 91.5H37M41 91.5H42M44 91.5H45M50 91.5H51M54 91.5H55M59 91.5H60M64 91.5H65M67 91.5H68M74 91.5H75M82 91.5H83M84 91.5H86M90 91.5H91M93 91.5H94M104 91.5H106M108 91.5H109M113 91.5H114M118 91.5H119M122 91.5H125M126 91.5H127M130 91.5H131M132 91.5H133M139 91.5H140M1 92.5H2M10 92.5H11M13 92.5H14M23 92.5H25M32 92.5H33M36 92.5H37M41 92.5H42M49 92.5H50M54 92.5H55M62 92.5H65M69 92.5H70M82 92.5H83M84 92.5H85M86 92.5H87M94 92.5H96M119 92.5H120M130 92.5H133M134 92.5H135M138 92.5H139M140 92.5H142M2 93.5H3M4 93.5H5M19 93.5H20M21 93.5H22M23 93.5H24M25 93.5H26M27 93.5H28M32 93.5H34M37 93.5H38M48 93.5H49M50 93.5H51M53 93.5H55M58 93.5H59M63 93.5H65M66 93.5H67M72 93.5H74M80 93.5H81M91 93.5H92M102 93.5H103M104 93.5H106M112 93.5H113M115 93.5H116M123 93.5H124M126 93.5H127M135 93.5H136M138 93.5H139M142 93.5H143M0 94.5H2M4 94.5H5M15 94.5H16M17 94.5H18M19 94.5H20M21 94.5H22M23 94.5H25M27 94.5H28M31 94.5H32M33 94.5H35M36 94.5H37M63 94.5H64M67 94.5H68M69 94.5H70M78 94.5H79M90 94.5H91M94 94.5H95M97 94.5H98M102 94.5H103M112 94.5H113M126 94.5H127M133 94.5H134M141 94.5H142M143 94.5H144M3 95.5H4M6 95.5H7M15 95.5H16M18 95.5H20M22 95.5H25M27 95.5H28M29 95.5H31M39 95.5H40M48 95.5H50M51 95.5H52M63 95.5H65M70 95.5H71M72 95.5H75M78 95.5H79M81 95.5H83M91 95.5H92M96 95.5H98M100 95.5H102M104 95.5H105M108 95.5H109M113 95.5H114M116 95.5H117M119 95.5H120M124 95.5H126M136 95.5H137M138 95.5H139M140 95.5H144M0 96.5H2M5 96.5H6M7 96.5H8M9 96.5H10M16 96.5H18M20 96.5H21M24 96.5H26M28 96.5H29M32 96.5H34M36 96.5H37M39 96.5H40M41 96.5H42M62 96.5H63M64 96.5H68M74 96.5H75M80 96.5H81M83 96.5H84M91 96.5H92M99 96.5H100M101 96.5H103M110 96.5H111M116 96.5H117M119 96.5H120M121 96.5H122M127 96.5H129M130 96.5H131M136 96.5H137M138 96.5H139M6 97.5H8M9 97.5H10M20 97.5H21M25 97.5H26M27 97.5H29M36 97.5H37M43 97.5H45M52 97.5H53M63 97.5H65M66 97.5H68M73 97.5H74M79 97.5H80M82 97.5H83M87 97.5H88M90 97.5H92M98 97.5H99M100 97.5H101M103 97.5H105M109 97.5H110M113 97.5H115M116 97.5H117M126 97.5H127M128 97.5H129M135 97.5H136M137 97.5H138M140 97.5H141M143 97.5H144M1 98.5H2M18 98.5H19M26 98.5H27M37 98.5H38M39 98.5H40M42 98.5H43M48 98.5H49M50 98.5H51M52 98.5H53M61 98.5H63M66 98.5H67M68 98.5H69M70 98.5H71M74 98.5H76M79 98.5H80M89 98.5H91M94 98.5H96M98 98.5H99M100 98.5H101M107 98.5H108M112 98.5H113M114 98.5H115M121 98.5H122M137 98.5H138M142 98.5H143M8 99.5H9M15 99.5H16M18 99.5H19M20 99.5H21M39 99.5H40M42 99.5H45M50 99.5H52M61 99.5H62M63 99.5H64M68 99.5H69M70 99.5H71M75 99.5H76M77 99.5H78M80 99.5H81M90 99.5H93M103 99.5H104M112 99.5H113M116 99.5H118M123 99.5H125M126 99.5H127M128 99.5H129M131 99.5H132M134 99.5H135M142 99.5H144M7 100.5H8M9 100.5H10M15 100.5H16M19 100.5H21M23 100.5H24M27 100.5H28M35 100.5H36M45 100.5H47M54 100.5H55M63 100.5H64M68 100.5H71M74 100.5H75M80 100.5H81M84 100.5H85M90 100.5H92M100 100.5H102M112 100.5H113M116 100.5H117M118 100.5H120M122 100.5H123M124 100.5H125M127 100.5H129M132 100.5H133M140 100.5H142M3 101.5H5M6 101.5H7M8 101.5H9M15 101.5H17M21 101.5H22M27 101.5H29M40 101.5H41M51 101.5H52M66 101.5H68M74 101.5H76M80 101.5H82M83 101.5H84M87 101.5H88M89 101.5H90M94 101.5H95M96 101.5H97M102 101.5H103M111 101.5H112M115 101.5H116M118 101.5H119M120 101.5H122M124 101.5H125M135 101.5H137M139 101.5H140M141 101.5H142M7 102.5H8M18 102.5H19M20 102.5H25M32 102.5H33M34 102.5H35M40 102.5H41M43 102.5H44M52 102.5H53M61 102.5H63M65 102.5H66M67 102.5H68M82 102.5H83M91 102.5H92M95 102.5H96M106 102.5H107M109 102.5H110M116 102.5H119M122 102.5H125M137 102.5H138M140 102.5H141M1 103.5H2M3 103.5H4M6 103.5H7M8 103.5H9M16 103.5H18M19 103.5H20M24 103.5H26M27 103.5H28M31 103.5H32M42 103.5H44M51 103.5H53M58 103.5H60M74 103.5H76M79 103.5H82M85 103.5H86M89 103.5H90M97 103.5H98M99 103.5H102M104 103.5H105M110 103.5H112M113 103.5H114M119 103.5H123M129 103.5H130M137 103.5H138M140 103.5H141M1 104.5H2M4 104.5H6M7 104.5H8M9 104.5H10M20 104.5H21M25 104.5H26M31 104.5H32M39 104.5H41M46 104.5H47M48 104.5H49M51 104.5H52M53 104.5H55M58 104.5H59M75 104.5H76M77 104.5H78M82 104.5H84M85 104.5H89M96 104.5H97M105 104.5H107M112 104.5H113M119 104.5H120M123 104.5H124M125 104.5H127M135 104.5H136M138 104.5H140M0 105.5H1M4 105.5H5M8 105.5H9M16 105.5H17M19 105.5H20M22 105.5H23M26 105.5H28M29 105.5H30M36 105.5H38M39 105.5H40M47 105.5H48M55 105.5H56M61 105.5H64M69 105.5H70M72 105.5H73M81 105.5H82M85 105.5H86M87 105.5H88M96 105.5H97M101 105.5H102M117 105.5H118M127 105.5H128M130 105.5H133M134 105.5H136M142 105.5H143M4 106.5H5M15 106.5H16M22 106.5H24M28 106.5H29M35 106.5H37M42 106.5H43M46 106.5H47M48 106.5H49M51 106.5H52M53 106.5H56M60 106.5H62M68 106.5H69M78 106.5H79M80 106.5H82M83 106.5H84M88 106.5H89M96 106.5H97M98 106.5H99M115 106.5H116M117 106.5H118M126 106.5H127M130 106.5H131M132 106.5H133M134 106.5H135M141 106.5H142M5 107.5H7M8 107.5H9M15 107.5H16M18 107.5H19M31 107.5H32M33 107.5H34M41 107.5H43M46 107.5H47M48 107.5H49M56 107.5H57M59 107.5H60M62 107.5H64M73 107.5H74M75 107.5H76M78 107.5H80M82 107.5H83M87 107.5H88M90 107.5H91M108 107.5H109M113 107.5H114M115 107.5H116M121 107.5H122M128 107.5H129M133 107.5H134M135 107.5H136M11 108.5H12M16 108.5H17M19 108.5H22M23 108.5H24M25 108.5H27M29 108.5H30M34 108.5H35M40 108.5H42M53 108.5H55M63 108.5H65M68 108.5H69M74 108.5H75M78 108.5H79M81 108.5H82M88 108.5H90M101 108.5H102M104 108.5H105M107 108.5H108M113 108.5H116M117 108.5H121M129 108.5H130M134 108.5H136M137 108.5H138M2 109.5H3M6 109.5H7M21 109.5H23M25 109.5H26M27 109.5H28M29 109.5H30M33 109.5H34M35 109.5H36M38 109.5H40M46 109.5H48M56 109.5H57M59 109.5H60M62 109.5H63M66 109.5H67M68 109.5H69M70 109.5H72M79 109.5H81M85 109.5H86M87 109.5H88M93 109.5H95M97 109.5H98M102 109.5H103M106 109.5H107M111 109.5H112M116 109.5H117M119 109.5H122M123 109.5H124M127 109.5H129M133 109.5H134M12 110.5H13M18 110.5H19M23 110.5H24M40 110.5H41M43 110.5H45M50 110.5H51M52 110.5H54M55 110.5H56M57 110.5H59M61 110.5H63M72 110.5H73M76 110.5H77M79 110.5H80M83 110.5H85M86 110.5H87M90 110.5H93M94 110.5H95M100 110.5H102M110 110.5H112M119 110.5H120M126 110.5H128M137 110.5H138M140 110.5H141M13 111.5H16M17 111.5H19M21 111.5H24M25 111.5H27M42 111.5H43M45 111.5H47M55 111.5H57M58 111.5H59M64 111.5H67M68 111.5H69M76 111.5H79M90 111.5H91M108 111.5H109M110 111.5H111M113 111.5H114M115 111.5H116M126 111.5H127M129 111.5H130M134 111.5H135M136 111.5H137M139 111.5H140M142 111.5H143M8 112.5H9M10 112.5H11M12 112.5H14M15 112.5H16M17 112.5H18M19 112.5H21M29 112.5H30M37 112.5H38M42 112.5H45M56 112.5H60M63 112.5H64M65 112.5H66M69 112.5H71M80 112.5H81M82 112.5H83M86 112.5H88M89 112.5H91M94 112.5H95M104 112.5H105M109 112.5H110M113 112.5H116M127 112.5H128M131 112.5H132M135 112.5H139M140 112.5H141M1 113.5H2M8 113.5H9M13 113.5H15M29 113.5H30M38 113.5H39M41 113.5H43M48 113.5H49M50 113.5H51M57 113.5H58M59 113.5H61M63 113.5H64M65 113.5H66M73 113.5H74M77 113.5H78M85 113.5H87M92 113.5H93M103 113.5H104M112 113.5H113M116 113.5H118M119 113.5H121M126 113.5H127M135 113.5H136M143 113.5H144M2 114.5H3M5 114.5H6M16 114.5H17M23 114.5H25M29 114.5H31M33 114.5H34M39 114.5H41M50 114.5H51M56 114.5H57M59 114.5H60M72 114.5H73M74 114.5H75M79 114.5H81M86 114.5H87M90 114.5H91M92 114.5H93M94 114.5H98M103 114.5H104M108 114.5H109M112 114.5H114M115 114.5H116M120 114.5H122M124 114.5H125M128 114.5H131M140 114.5H141M3 115.5H4M5 115.5H6M8 115.5H9M10 115.5H11M18 115.5H19M25 115.5H26M37 115.5H40M42 115.5H43M60 115.5H61M62 115.5H63M64 115.5H65M73 115.5H74M81 115.5H82M90 115.5H91M92 115.5H93M94 115.5H95M96 115.5H101M104 115.5H106M107 115.5H109M114 115.5H115M118 115.5H119M128 115.5H129M131 115.5H133M138 115.5H139M3 116.5H4M9 116.5H10M13 116.5H14M21 116.5H22M31 116.5H32M36 116.5H37M39 116.5H40M54 116.5H55M56 116.5H58M60 116.5H61M62 116.5H63M66 116.5H67M72 116.5H73M74 116.5H75M76 116.5H78M91 116.5H92M94 116.5H95M100 116.5H102M105 116.5H107M108 116.5H109M118 116.5H119M120 116.5H122M124 116.5H125M132 116.5H133M142 116.5H143M11 117.5H14M16 117.5H18M25 117.5H26M30 117.5H31M32 117.5H33M62 117.5H63M65 117.5H66M68 117.5H69M71 117.5H72M73 117.5H74M76 117.5H77M78 117.5H80M91 117.5H92M106 117.5H107M108 117.5H109M110 117.5H112M117 117.5H118M119 117.5H121M122 117.5H124M130 117.5H131M142 117.5H143M1 118.5H2M8 118.5H9M11 118.5H13M14 118.5H15M16 118.5H18M30 118.5H32M38 118.5H39M40 118.5H41M56 118.5H58M63 118.5H65M66 118.5H67M76 118.5H77M78 118.5H79M80 118.5H83M88 118.5H89M92 118.5H95M96 118.5H97M100 118.5H102M107 118.5H108M116 118.5H117M122 118.5H123M134 118.5H135M1 119.5H3M9 119.5H10M12 119.5H13M21 119.5H23M24 119.5H25M29 119.5H30M36 119.5H37M39 119.5H42M45 119.5H46M52 119.5H53M69 119.5H71M72 119.5H73M75 119.5H77M79 119.5H82M88 119.5H89M90 119.5H92M93 119.5H94M97 119.5H100M101 119.5H104M118 119.5H119M128 119.5H129M142 119.5H143M1 120.5H2M14 120.5H15M21 120.5H22M25 120.5H26M34 120.5H37M39 120.5H40M43 120.5H44M55 120.5H56M71 120.5H72M73 120.5H76M77 120.5H78M79 120.5H80M81 120.5H82M89 120.5H90M97 120.5H98M100 120.5H101M104 120.5H105M121 120.5H122M125 120.5H126M127 120.5H128M135 120.5H136M141 120.5H142M2 121.5H3M5 121.5H6M7 121.5H8M13 121.5H14M16 121.5H17M29 121.5H30M34 121.5H35M37 121.5H40M55 121.5H56M63 121.5H65M67 121.5H68M69 121.5H70M77 121.5H78M80 121.5H81M83 121.5H85M89 121.5H90M101 121.5H102M111 121.5H112M122 121.5H124M3 122.5H4M8 122.5H9M10 122.5H11M14 122.5H15M17 122.5H19M20 122.5H21M27 122.5H29M37 122.5H38M41 122.5H42M47 122.5H48M49 122.5H50M59 122.5H60M62 122.5H64M67 122.5H68M70 122.5H71M73 122.5H75M82 122.5H83M92 122.5H93M99 122.5H101M106 122.5H108M113 122.5H114M115 122.5H118M124 122.5H125M137 122.5H138M140 122.5H141M142 122.5H143M3 123.5H6M16 123.5H17M31 123.5H32M33 123.5H34M35 123.5H36M42 123.5H43M50 123.5H51M52 123.5H53M56 123.5H57M60 123.5H62M67 123.5H68M74 123.5H75M85 123.5H86M93 123.5H94M117 123.5H119M125 123.5H126M129 123.5H131M133 123.5H134M4 124.5H5M14 124.5H15M30 124.5H31M34 124.5H35M41 124.5H42M45 124.5H46M48 124.5H49M50 124.5H51M57 124.5H58M61 124.5H64M67 124.5H69M71 124.5H72M75 124.5H77M82 124.5H86M93 124.5H94M95 124.5H96M97 124.5H98M100 124.5H104M115 124.5H117M118 124.5H119M126 124.5H127M139 124.5H140M141 124.5H142M1 125.5H2M3 125.5H6M13 125.5H14M15 125.5H17M31 125.5H32M44 125.5H45M51 125.5H53M58 125.5H59M62 125.5H63M66 125.5H67M69 125.5H70M72 125.5H73M74 125.5H75M77 125.5H78M82 125.5H83M86 125.5H87M93 125.5H94M98 125.5H101M102 125.5H103M121 125.5H122M126 125.5H127M128 125.5H129M132 125.5H133M138 125.5H139M141 125.5H142M143 125.5H144M0 126.5H1M2 126.5H3M5 126.5H9M13 126.5H15M24 126.5H26M34 126.5H35M36 126.5H37M51 126.5H53M54 126.5H55M58 126.5H60M61 126.5H63M70 126.5H71M73 126.5H75M78 126.5H79M93 126.5H94M95 126.5H96M97 126.5H98M101 126.5H102M119 126.5H120M128 126.5H129M131 126.5H132M136 126.5H137M141 126.5H144M0 127.5H1M8 127.5H9M12 127.5H13M16 127.5H17M18 127.5H19M34 127.5H35M48 127.5H49M50 127.5H51M52 127.5H53M54 127.5H55M56 127.5H57M59 127.5H61M63 127.5H64M66 127.5H67M70 127.5H71M74 127.5H76M79 127.5H82M86 127.5H89M90 127.5H91M92 127.5H93M96 127.5H97M104 127.5H107M110 127.5H111M115 127.5H116M119 127.5H120M121 127.5H122M131 127.5H132M133 127.5H134M136 127.5H137M139 127.5H140M2 128.5H4M5 128.5H6M8 128.5H9M15 128.5H16M17 128.5H20M25 128.5H26M33 128.5H34M35 128.5H36M41 128.5H43M56 128.5H57M59 128.5H60M61 128.5H63M65 128.5H66M73 128.5H75M76 128.5H77M79 128.5H80M86 128.5H87M88 128.5H89M95 128.5H96M97 128.5H98M103 128.5H105M113 128.5H114M115 128.5H116M120 128.5H122M143 128.5H144M3 129.5H4M7 129.5H8M15 129.5H16M22 129.5H24M25 129.5H26M32 129.5H34M39 129.5H40M42 129.5H43M44 129.5H45M50 129.5H51M57 129.5H59M60 129.5H61M70 129.5H71M75 129.5H76M80 129.5H82M83 129.5H84M88 129.5H89M100 129.5H102M113 129.5H114M121 129.5H122M124 129.5H126M7 130.5H8M14 130.5H15M16 130.5H18M23 130.5H24M27 130.5H29M40 130.5H41M47 130.5H49M57 130.5H58M60 130.5H62M77 130.5H78M92 130.5H93M94 130.5H96M97 130.5H98M100 130.5H101M102 130.5H103M114 130.5H115M117 130.5H120M133 130.5H134M137 130.5H139M1 131.5H2M3 131.5H5M18 131.5H19M26 131.5H27M28 131.5H29M34 131.5H35M37 131.5H38M40 131.5H41M57 131.5H58M65 131.5H66M68 131.5H69M71 131.5H72M73 131.5H74M75 131.5H76M78 131.5H79M80 131.5H82M83 131.5H87M93 131.5H94M96 131.5H97M99 131.5H101M116 131.5H117M122 131.5H123M127 131.5H129M132 131.5H133M136 131.5H137M142 131.5H143M0 132.5H1M4 132.5H6M16 132.5H17M27 132.5H29M31 132.5H32M38 132.5H40M52 132.5H53M61 132.5H62M66 132.5H67M76 132.5H78M81 132.5H82M93 132.5H94M96 132.5H97M99 132.5H100M121 132.5H122M123 132.5H124M127 132.5H128M132 132.5H133M142 132.5H143M1 133.5H2M11 133.5H12M23 133.5H25M26 133.5H27M29 133.5H30M31 133.5H32M44 133.5H45M46 133.5H47M48 133.5H49M53 133.5H55M66 133.5H67M78 133.5H79M81 133.5H82M83 133.5H84M94 133.5H96M102 133.5H103M104 133.5H105M106 133.5H107M114 133.5H116M119 133.5H120M121 133.5H124M128 133.5H129M137 133.5H138M2 134.5H3M7 134.5H9M11 134.5H12M13 134.5H14M21 134.5H22M23 134.5H24M28 134.5H29M32 134.5H34M42 134.5H43M47 134.5H48M50 134.5H51M53 134.5H54M57 134.5H58M66 134.5H67M72 134.5H74M79 134.5H80M82 134.5H83M89 134.5H90M104 134.5H106M110 134.5H111M122 134.5H124M128 134.5H129M131 134.5H133M143 134.5H144M3 135.5H4M8 135.5H9M10 135.5H12M13 135.5H14M47 135.5H48M51 135.5H52M53 135.5H56M58 135.5H59M61 135.5H62M63 135.5H64M70 135.5H72M73 135.5H74M77 135.5H78M80 135.5H82M97 135.5H98M100 135.5H101M105 135.5H106M109 135.5H110M112 135.5H113M119 135.5H120M124 135.5H125M129 135.5H130M132 135.5H134M2 136.5H4M17 136.5H19M25 136.5H26M34 136.5H36M43 136.5H45M47 136.5H48M62 136.5H63M66 136.5H68M71 136.5H72M73 136.5H75M79 136.5H81M84 136.5H86M98 136.5H99M100 136.5H101M104 136.5H106M114 136.5H115M116 136.5H117M125 136.5H126M128 136.5H130M133 136.5H134M143 136.5H144M11 137.5H12M15 137.5H18M20 137.5H21M24 137.5H25M28 137.5H29M43 137.5H44M55 137.5H56M57 137.5H58M60 137.5H61M70 137.5H71M86 137.5H88M90 137.5H92M102 137.5H104M109 137.5H110M111 137.5H112M116 137.5H117M119 137.5H120M128 137.5H129M130 137.5H131M132 137.5H133M136 137.5H137M141 137.5H142M5 138.5H6M11 138.5H12M16 138.5H20M22 138.5H23M29 138.5H30M37 138.5H39M44 138.5H47M50 138.5H51M54 138.5H55M61 138.5H62M65 138.5H66M71 138.5H72M75 138.5H76M80 138.5H81M83 138.5H85M89 138.5H90M94 138.5H96M101 138.5H102M106 138.5H107M118 138.5H119M120 138.5H121M124 138.5H125M127 138.5H128M129 138.5H130M131 138.5H133M134 138.5H136M137 138.5H138M140 138.5H141M3 139.5H4M7 139.5H8M14 139.5H16M18 139.5H19M24 139.5H25M35 139.5H36M39 139.5H40M41 139.5H42M46 139.5H48M53 139.5H54M55 139.5H57M65 139.5H66M68 139.5H69M72 139.5H75M82 139.5H83M86 139.5H87M89 139.5H90M96 139.5H97M99 139.5H100M104 139.5H105M106 139.5H107M111 139.5H113M119 139.5H120M121 139.5H124M130 139.5H131M132 139.5H134M135 139.5H136M139 139.5H141M142 139.5H143M0 140.5H4M7 140.5H8M14 140.5H16M19 140.5H21M22 140.5H24M25 140.5H26M35 140.5H36M38 140.5H40M41 140.5H44M45 140.5H47M48 140.5H49M50 140.5H51M54 140.5H56M71 140.5H73M74 140.5H75M88 140.5H89M96 140.5H97M101 140.5H102M118 140.5H119M122 140.5H124M131 140.5H133M0 141.5H1M2 141.5H4M6 141.5H7M10 141.5H11M16 141.5H17M18 141.5H19M20 141.5H21M25 141.5H26M29 141.5H32M34 141.5H35M40 141.5H42M43 141.5H44M54 141.5H55M72 141.5H75M88 141.5H89M97 141.5H102M108 141.5H109M110 141.5H111M120 141.5H121M123 141.5H125M127 141.5H129M140 141.5H141M142 141.5H144M0 142.5H3M23 142.5H24M25 142.5H26M27 142.5H28M29 142.5H30M31 142.5H32M34 142.5H36M37 142.5H39M46 142.5H47M59 142.5H60M101 142.5H103M128 142.5H129M131 142.5H133M134 142.5H135M136 142.5H137M140 142.5H141M3 143.5H5M10 143.5H12M22 143.5H23M28 143.5H29M42 143.5H43M45 143.5H46M74 143.5H75M78 143.5H79M95 143.5H96M97 143.5H98M104 143.5H105M106 143.5H107M112 143.5H114M119 143.5H121M122 143.5H123M136 143.5H137M139 143.5H140" stroke="#cbcbcb" stroke-width="1"/><path d="M2 0.5H3M24 0.5H25M26 0.5H27M34 0.5H35M46 0.5H50M56 0.5H57M58 0.5H59M65 0.5H66M68 0.5H69M76 0.5H77M90 0.5H91M101 0.5H102M124 0.5H125M129 0.5H130M131 0.5H132M135 0.5H136M2 1.5H3M6 1.5H7M8 1.5H9M16 1.5H17M18 1.5H19M28 1.5H29M35 1.5H36M41 1.5H42M44 1.5H45M46 1.5H47M50 1.5H52M57 1.5H58M68 1.5H70M94 1.5H95M104 1.5H105M106 1.5H107M121 1.5H123M16 2.5H17M29 2.5H30M45 2.5H46M48 2.5H49M62 2.5H63M67 2.5H68M73 2.5H74M93 2.5H94M95 2.5H96M99 2.5H100M106 2.5H107M112 2.5H114M142 2.5H143M1 3.5H2M12 3.5H13M24 3.5H25M31 3.5H32M44 3.5H45M53 3.5H54M72 3.5H74M87 3.5H88M94 3.5H95M99 3.5H100M109 3.5H110M112 3.5H113M123 3.5H124M139 3.5H140M8 4.5H9M11 4.5H12M13 4.5H14M38 4.5H39M43 4.5H44M57 4.5H58M63 4.5H65M74 4.5H75M83 4.5H84M91 4.5H92M104 4.5H105M106 4.5H107M114 4.5H115M117 4.5H118M7 5.5H8M11 5.5H12M26 5.5H27M30 5.5H31M37 5.5H38M39 5.5H40M44 5.5H45M46 5.5H47M49 5.5H50M56 5.5H57M66 5.5H67M88 5.5H89M101 5.5H102M106 5.5H107M113 5.5H114M115 5.5H116M10 6.5H11M15 6.5H16M25 6.5H26M33 6.5H35M38 6.5H39M56 6.5H57M63 6.5H64M83 6.5H84M91 6.5H92M105 6.5H106M114 6.5H115M119 6.5H120M125 6.5H127M131 6.5H132M0 7.5H1M15 7.5H16M17 7.5H19M25 7.5H26M30 7.5H31M38 7.5H40M57 7.5H58M75 7.5H77M81 7.5H83M98 7.5H99M101 7.5H102M118 7.5H119M125 7.5H126M132 7.5H133M139 7.5H141M3 8.5H5M9 8.5H10M16 8.5H17M19 8.5H20M21 8.5H22M24 8.5H25M38 8.5H39M42 8.5H45M46 8.5H47M64 8.5H65M72 8.5H73M82 8.5H83M99 8.5H100M104 8.5H106M128 8.5H129M141 8.5H142M4 9.5H5M17 9.5H18M29 9.5H30M36 9.5H37M42 9.5H43M48 9.5H49M53 9.5H54M56 9.5H57M63 9.5H64M77 9.5H78M85 9.5H86M105 9.5H107M111 9.5H112M125 9.5H126M129 9.5H130M141 9.5H142M4 10.5H5M8 10.5H9M10 10.5H11M16 10.5H17M23 10.5H24M30 10.5H31M38 10.5H39M42 10.5H43M49 10.5H50M51 10.5H53M56 10.5H58M60 10.5H61M64 10.5H65M72 10.5H73M83 10.5H84M85 10.5H86M89 10.5H90M97 10.5H98M118 10.5H119M120 10.5H121M123 10.5H124M5 11.5H6M9 11.5H10M28 11.5H29M43 11.5H44M45 11.5H46M52 11.5H53M84 11.5H85M91 11.5H92M98 11.5H99M113 11.5H114M116 11.5H117M118 11.5H119M120 11.5H121M125 11.5H127M3 12.5H4M35 12.5H36M42 12.5H44M46 12.5H47M65 12.5H66M67 12.5H68M69 12.5H70M77 12.5H78M88 12.5H90M96 12.5H97M104 12.5H105M109 12.5H110M115 12.5H116M141 12.5H142M3 13.5H4M10 13.5H11M27 13.5H28M31 13.5H32M52 13.5H53M65 13.5H66M67 13.5H68M76 13.5H77M90 13.5H91M95 13.5H96M104 13.5H105M110 13.5H111M137 13.5H138M140 13.5H141M16 14.5H17M19 14.5H21M26 14.5H27M48 14.5H49M56 14.5H57M59 14.5H60M68 14.5H69M77 14.5H78M96 14.5H97M100 14.5H101M115 14.5H116M125 14.5H126M31 15.5H32M39 15.5H40M46 15.5H47M48 15.5H49M73 15.5H74M75 15.5H76M91 15.5H94M95 15.5H96M100 15.5H101M102 15.5H103M110 15.5H111M121 15.5H122M141 15.5H142M35 16.5H36M40 16.5H41M45 16.5H46M76 16.5H77M85 16.5H86M88 16.5H89M92 16.5H93M100 16.5H101M103 16.5H104M114 16.5H115M126 16.5H127M134 16.5H135M143 16.5H144M6 17.5H7M18 17.5H19M23 17.5H24M58 17.5H59M66 17.5H67M92 17.5H93M101 17.5H102M108 17.5H110M131 17.5H132M135 17.5H136M140 17.5H141M0 18.5H2M9 18.5H11M20 18.5H22M28 18.5H29M55 18.5H56M57 18.5H58M80 18.5H81M82 18.5H83M99 18.5H100M101 18.5H102M113 18.5H114M122 18.5H123M135 18.5H136M139 18.5H140M10 19.5H11M12 19.5H13M14 19.5H15M20 19.5H21M29 19.5H30M33 19.5H34M72 19.5H73M112 19.5H114M123 19.5H125M126 19.5H127M128 19.5H129M136 19.5H137M140 19.5H141M142 19.5H144M4 20.5H5M8 20.5H10M23 20.5H24M26 20.5H27M63 20.5H64M65 20.5H66M67 20.5H68M71 20.5H72M93 20.5H94M97 20.5H98M111 20.5H112M122 20.5H124M126 20.5H127M132 20.5H133M135 20.5H136M0 21.5H1M6 21.5H8M26 21.5H27M49 21.5H50M64 21.5H65M71 21.5H72M91 21.5H95M100 21.5H101M106 21.5H107M112 21.5H113M132 21.5H133M1 22.5H2M7 22.5H8M9 22.5H10M18 22.5H19M23 22.5H24M42 22.5H44M50 22.5H51M53 22.5H54M55 22.5H56M61 22.5H62M82 22.5H83M87 22.5H89M98 22.5H99M111 22.5H112M115 22.5H116M117 22.5H118M119 22.5H120M125 22.5H126M131 22.5H132M143 22.5H144M7 23.5H8M14 23.5H16M24 23.5H27M30 23.5H31M32 23.5H33M35 23.5H36M42 23.5H43M46 23.5H48M60 23.5H62M69 23.5H70M71 23.5H72M73 23.5H74M75 23.5H76M107 23.5H109M112 23.5H113M117 23.5H118M122 23.5H123M127 23.5H128M3 24.5H4M5 24.5H7M8 24.5H10M15 24.5H16M18 24.5H19M24 24.5H25M33 24.5H35M36 24.5H37M38 24.5H39M40 24.5H41M44 24.5H45M49 24.5H50M52 24.5H53M64 24.5H65M68 24.5H69M70 24.5H71M75 24.5H76M82 24.5H83M87 24.5H90M98 24.5H99M101 24.5H102M109 24.5H112M115 24.5H116M119 24.5H120M124 24.5H125M137 24.5H138M19 25.5H20M22 25.5H23M31 25.5H32M33 25.5H34M39 25.5H40M46 25.5H47M65 25.5H66M81 25.5H82M89 25.5H90M106 25.5H107M111 25.5H112M120 25.5H121M135 25.5H137M143 25.5H144M3 26.5H4M5 26.5H6M18 26.5H19M20 26.5H21M23 26.5H24M39 26.5H40M59 26.5H60M61 26.5H62M105 26.5H107M114 26.5H115M134 26.5H135M140 26.5H141M4 27.5H5M19 27.5H20M31 27.5H32M33 27.5H34M42 27.5H43M62 27.5H63M70 27.5H71M86 27.5H87M91 27.5H92M114 27.5H115M130 27.5H131M132 27.5H133M6 28.5H7M9 28.5H10M12 28.5H13M23 28.5H24M26 28.5H27M37 28.5H38M43 28.5H44M52 28.5H53M63 28.5H64M66 28.5H67M69 28.5H70M75 28.5H76M77 28.5H78M85 28.5H86M90 28.5H91M92 28.5H93M94 28.5H95M111 28.5H112M114 28.5H116M117 28.5H118M3 29.5H4M14 29.5H15M38 29.5H39M57 29.5H59M62 29.5H63M65 29.5H66M73 29.5H74M75 29.5H77M84 29.5H85M94 29.5H95M103 29.5H104M112 29.5H113M114 29.5H115M133 29.5H134M141 29.5H142M2 30.5H3M9 30.5H10M21 30.5H23M28 30.5H29M44 30.5H45M47 30.5H48M64 30.5H65M67 30.5H68M69 30.5H70M73 30.5H74M78 30.5H79M102 30.5H103M118 30.5H119M121 30.5H122M130 30.5H131M143 30.5H144M3 31.5H4M17 31.5H18M28 31.5H29M30 31.5H31M33 31.5H34M52 31.5H53M57 31.5H58M59 31.5H60M62 31.5H63M76 31.5H77M80 31.5H81M103 31.5H104M106 31.5H107M112 31.5H113M116 31.5H118M119 31.5H121M126 31.5H127M141 31.5H142M4 32.5H5M31 32.5H32M37 32.5H38M39 32.5H41M52 32.5H54M59 32.5H60M63 32.5H64M69 32.5H70M71 32.5H72M78 32.5H80M85 32.5H86M102 32.5H103M107 32.5H108M115 32.5H116M118 32.5H119M120 32.5H121M124 32.5H125M3 33.5H4M20 33.5H21M22 33.5H23M24 33.5H25M26 33.5H28M30 33.5H31M38 33.5H40M42 33.5H43M53 33.5H54M60 33.5H61M71 33.5H72M75 33.5H76M78 33.5H79M85 33.5H86M101 33.5H102M113 33.5H114M118 33.5H120M121 33.5H122M125 33.5H126M129 33.5H130M138 33.5H139M1 34.5H2M7 34.5H8M14 34.5H15M19 34.5H20M33 34.5H34M53 34.5H54M55 34.5H57M89 34.5H90M100 34.5H101M102 34.5H103M108 34.5H109M118 34.5H119M120 34.5H121M122 34.5H123M125 34.5H126M1 35.5H2M3 35.5H4M5 35.5H6M7 35.5H8M9 35.5H10M13 35.5H14M20 35.5H21M23 35.5H24M27 35.5H28M48 35.5H49M55 35.5H56M57 35.5H58M61 35.5H62M67 35.5H68M73 35.5H74M86 35.5H87M96 35.5H98M101 35.5H102M107 35.5H108M5 36.5H6M14 36.5H15M21 36.5H23M24 36.5H25M33 36.5H34M37 36.5H39M48 36.5H49M51 36.5H52M56 36.5H57M65 36.5H66M73 36.5H74M75 36.5H76M87 36.5H89M92 36.5H93M97 36.5H98M106 36.5H107M108 36.5H109M120 36.5H121M128 36.5H129M134 36.5H135M136 36.5H137M14 37.5H15M16 37.5H17M23 37.5H24M35 37.5H37M51 37.5H53M67 37.5H68M87 37.5H88M92 37.5H93M98 37.5H99M106 37.5H107M115 37.5H116M119 37.5H120M121 37.5H122M123 37.5H124M132 37.5H134M136 37.5H137M5 38.5H6M12 38.5H13M26 38.5H27M33 38.5H34M50 38.5H51M52 38.5H53M55 38.5H56M70 38.5H71M72 38.5H73M92 38.5H93M99 38.5H100M106 38.5H108M124 38.5H125M4 39.5H5M11 39.5H13M22 39.5H23M30 39.5H31M32 39.5H33M35 39.5H36M39 39.5H40M43 39.5H44M62 39.5H63M68 39.5H69M70 39.5H71M72 39.5H73M91 39.5H92M100 39.5H102M106 39.5H107M110 39.5H111M117 39.5H118M119 39.5H120M130 39.5H131M132 39.5H133M134 39.5H136M137 39.5H138M2 40.5H3M5 40.5H6M23 40.5H24M25 40.5H26M32 40.5H33M36 40.5H37M42 40.5H43M48 40.5H50M56 40.5H57M63 40.5H65M67 40.5H68M86 40.5H87M100 40.5H101M118 40.5H119M120 40.5H121M126 40.5H127M129 40.5H130M131 40.5H132M136 40.5H137M138 40.5H139M141 40.5H142M5 41.5H6M12 41.5H14M19 41.5H20M22 41.5H23M26 41.5H27M75 41.5H76M85 41.5H86M91 41.5H92M99 41.5H101M111 41.5H112M117 41.5H118M124 41.5H125M137 41.5H138M141 41.5H142M4 42.5H5M6 42.5H7M11 42.5H12M13 42.5H16M18 42.5H19M21 42.5H26M51 42.5H52M61 42.5H63M69 42.5H70M73 42.5H74M83 42.5H84M105 42.5H106M126 42.5H127M128 42.5H129M141 42.5H142M16 43.5H17M38 43.5H39M43 43.5H44M51 43.5H52M55 43.5H56M58 43.5H59M74 43.5H75M80 43.5H81M82 43.5H83M85 43.5H86M114 43.5H115M118 43.5H119M123 43.5H124M125 43.5H126M0 44.5H1M8 44.5H9M22 44.5H24M41 44.5H42M47 44.5H48M56 44.5H57M69 44.5H70M74 44.5H75M90 44.5H91M110 44.5H111M114 44.5H115M118 44.5H120M121 44.5H122M123 44.5H124M129 44.5H130M132 44.5H133M134 44.5H135M8 45.5H9M18 45.5H19M20 45.5H21M36 45.5H37M46 45.5H47M59 45.5H61M66 45.5H67M90 45.5H91M92 45.5H93M104 45.5H105M128 45.5H129M131 45.5H132M138 45.5H139M6 46.5H7M18 46.5H19M22 46.5H23M30 46.5H31M45 46.5H46M54 46.5H55M56 46.5H57M58 46.5H60M61 46.5H62M88 46.5H89M99 46.5H100M105 46.5H106M111 46.5H112M118 46.5H119M3 47.5H4M8 47.5H9M11 47.5H12M15 47.5H17M53 47.5H54M57 47.5H58M60 47.5H61M67 47.5H68M69 47.5H70M82 47.5H83M93 47.5H94M96 47.5H98M104 47.5H105M114 47.5H115M124 47.5H125M131 47.5H132M135 47.5H136M10 48.5H11M16 48.5H17M21 48.5H22M28 48.5H30M32 48.5H33M39 48.5H41M50 48.5H51M53 48.5H54M66 48.5H67M71 48.5H73M77 48.5H78M125 48.5H126M132 48.5H133M136 48.5H137M1 49.5H2M4 49.5H5M15 49.5H16M23 49.5H24M27 49.5H29M32 49.5H34M49 49.5H51M65 49.5H66M72 49.5H73M81 49.5H82M107 49.5H109M110 49.5H111M120 49.5H121M124 49.5H125M134 49.5H135M137 49.5H139M143 49.5H144M7 50.5H8M10 50.5H11M12 50.5H13M15 50.5H16M19 50.5H20M22 50.5H23M27 50.5H28M29 50.5H30M33 50.5H34M42 50.5H43M47 50.5H48M61 50.5H62M66 50.5H68M76 50.5H77M80 50.5H81M82 50.5H83M84 50.5H86M88 50.5H89M91 50.5H92M102 50.5H104M109 50.5H110M111 50.5H112M140 50.5H141M142 50.5H143M0 51.5H1M6 51.5H7M11 51.5H12M30 51.5H31M33 51.5H34M41 51.5H42M60 51.5H61M62 51.5H63M68 51.5H69M80 51.5H81M105 51.5H106M116 51.5H117M126 51.5H127M128 51.5H129M130 51.5H132M141 51.5H142M0 52.5H1M2 52.5H4M13 52.5H14M24 52.5H26M27 52.5H28M30 52.5H31M52 52.5H53M56 52.5H57M60 52.5H62M67 52.5H68M95 52.5H96M103 52.5H104M105 52.5H107M111 52.5H112M125 52.5H126M127 52.5H128M140 52.5H142M12 53.5H13M25 53.5H26M39 53.5H41M42 53.5H43M51 53.5H52M54 53.5H55M57 53.5H58M69 53.5H70M72 53.5H73M101 53.5H103M141 53.5H142M24 54.5H25M29 54.5H30M46 54.5H49M53 54.5H54M63 54.5H64M70 54.5H71M76 54.5H77M79 54.5H80M108 54.5H109M117 54.5H118M119 54.5H120M123 54.5H126M136 54.5H138M142 54.5H143M1 55.5H2M20 55.5H21M22 55.5H23M25 55.5H27M28 55.5H29M41 55.5H42M46 55.5H47M51 55.5H52M55 55.5H56M69 55.5H70M78 55.5H79M101 55.5H103M115 55.5H117M132 55.5H133M140 55.5H141M19 56.5H20M23 56.5H24M25 56.5H26M36 56.5H38M40 56.5H42M47 56.5H48M52 56.5H53M68 56.5H69M70 56.5H71M84 56.5H85M91 56.5H92M95 56.5H96M100 56.5H101M104 56.5H105M106 56.5H107M133 56.5H134M141 56.5H142M8 57.5H9M15 57.5H16M18 57.5H19M20 57.5H21M22 57.5H23M36 57.5H37M38 57.5H39M45 57.5H46M58 57.5H59M80 57.5H81M89 57.5H90M97 57.5H98M100 57.5H101M104 57.5H105M107 57.5H108M117 57.5H118M124 57.5H125M128 57.5H130M138 57.5H139M142 57.5H143M1 58.5H3M11 58.5H12M14 58.5H15M16 58.5H17M19 58.5H20M30 58.5H31M41 58.5H42M53 58.5H54M58 58.5H59M71 58.5H72M73 58.5H74M92 58.5H93M96 58.5H97M99 58.5H100M118 58.5H119M128 58.5H129M133 58.5H134M139 58.5H142M11 59.5H12M15 59.5H16M22 59.5H23M57 59.5H58M60 59.5H62M63 59.5H64M73 59.5H74M76 59.5H77M84 59.5H86M94 59.5H95M96 59.5H97M117 59.5H118M119 59.5H120M138 59.5H140M141 59.5H142M22 60.5H23M25 60.5H26M36 60.5H37M38 60.5H39M46 60.5H47M51 60.5H52M58 60.5H59M62 60.5H63M74 60.5H75M80 60.5H81M110 60.5H111M113 60.5H114M122 60.5H123M126 60.5H127M129 60.5H130M134 60.5H135M136 60.5H138M6 61.5H7M13 61.5H14M18 61.5H19M26 61.5H27M45 61.5H46M53 61.5H54M63 61.5H64M67 61.5H68M70 61.5H71M76 61.5H77M80 61.5H81M85 61.5H87M93 61.5H94M100 61.5H101M105 61.5H106M133 61.5H135M4 62.5H5M7 62.5H8M14 62.5H15M29 62.5H30M33 62.5H34M40 62.5H41M44 62.5H45M49 62.5H50M54 62.5H55M62 62.5H63M66 62.5H67M69 62.5H70M71 62.5H72M92 62.5H93M96 62.5H97M100 62.5H102M21 63.5H22M36 63.5H38M40 63.5H41M43 63.5H44M55 63.5H56M73 63.5H74M85 63.5H87M88 63.5H89M102 63.5H103M114 63.5H115M116 63.5H117M121 63.5H122M127 63.5H128M133 63.5H135M7 64.5H8M9 64.5H11M23 64.5H24M25 64.5H26M69 64.5H71M72 64.5H73M74 64.5H75M89 64.5H90M99 64.5H101M102 64.5H103M109 64.5H110M115 64.5H116M124 64.5H125M126 64.5H127M140 64.5H141M13 65.5H14M26 65.5H27M36 65.5H38M41 65.5H42M48 65.5H49M50 65.5H52M66 65.5H67M84 65.5H85M86 65.5H87M88 65.5H89M109 65.5H110M113 65.5H114M118 65.5H119M120 65.5H122M131 65.5H132M4 66.5H6M19 66.5H20M44 66.5H45M48 66.5H49M55 66.5H57M58 66.5H59M60 66.5H61M63 66.5H65M76 66.5H77M83 66.5H84M89 66.5H90M105 66.5H106M107 66.5H108M111 66.5H112M117 66.5H120M121 66.5H122M125 66.5H126M129 66.5H131M133 66.5H134M3 67.5H4M5 67.5H6M28 67.5H29M34 67.5H35M39 67.5H40M59 67.5H60M67 67.5H68M83 67.5H85M88 67.5H89M101 67.5H102M119 67.5H121M122 67.5H123M127 67.5H129M134 67.5H136M138 67.5H140M14 68.5H15M20 68.5H21M31 68.5H32M39 68.5H40M45 68.5H46M48 68.5H49M63 68.5H64M101 68.5H102M104 68.5H105M110 68.5H111M134 68.5H135M138 68.5H139M8 69.5H9M23 69.5H24M67 69.5H68M69 69.5H70M103 69.5H104M108 69.5H109M110 69.5H112M134 69.5H135M141 69.5H143M4 70.5H5M30 70.5H31M37 70.5H39M40 70.5H41M54 70.5H55M67 70.5H68M88 70.5H89M111 70.5H113M114 70.5H115M119 70.5H120M134 70.5H135M142 70.5H143M15 71.5H17M20 71.5H22M31 71.5H32M37 71.5H38M41 71.5H43M53 71.5H54M57 71.5H58M60 71.5H61M68 71.5H70M84 71.5H85M86 71.5H87M91 71.5H92M120 71.5H121M130 71.5H131M132 71.5H135M8 72.5H9M10 72.5H11M15 72.5H16M27 72.5H29M38 72.5H39M55 72.5H56M59 72.5H60M68 72.5H69M82 72.5H83M87 72.5H88M92 72.5H93M112 72.5H113M117 72.5H118M119 72.5H120M128 72.5H129M130 72.5H131M133 72.5H134M141 72.5H142M6 73.5H7M9 73.5H10M13 73.5H14M22 73.5H25M35 73.5H36M37 73.5H38M39 73.5H40M59 73.5H60M82 73.5H83M93 73.5H94M108 73.5H110M111 73.5H112M126 73.5H127M129 73.5H130M139 73.5H140M141 73.5H142M143 73.5H144M2 74.5H3M11 74.5H12M34 74.5H36M73 74.5H74M92 74.5H93M106 74.5H107M108 74.5H109M113 74.5H114M129 74.5H130M138 74.5H140M143 74.5H144M38 75.5H39M42 75.5H43M63 75.5H65M72 75.5H73M84 75.5H85M110 75.5H111M112 75.5H113M114 75.5H115M124 75.5H125M137 75.5H138M0 76.5H1M27 76.5H28M30 76.5H31M36 76.5H38M39 76.5H40M41 76.5H42M43 76.5H44M57 76.5H58M62 76.5H63M65 76.5H66M75 76.5H76M86 76.5H87M95 76.5H96M99 76.5H100M121 76.5H122M133 76.5H134M137 76.5H138M2 77.5H3M16 77.5H17M20 77.5H21M22 77.5H23M29 77.5H30M31 77.5H32M50 77.5H52M56 77.5H57M60 77.5H61M62 77.5H63M71 77.5H72M76 77.5H77M83 77.5H84M92 77.5H93M94 77.5H95M100 77.5H101M132 77.5H133M143 77.5H144M0 78.5H2M15 78.5H17M20 78.5H22M27 78.5H28M95 78.5H96M97 78.5H98M102 78.5H103M108 78.5H109M115 78.5H116M119 78.5H120M134 78.5H135M10 79.5H11M16 79.5H17M19 79.5H20M28 79.5H30M36 79.5H37M40 79.5H41M67 79.5H68M76 79.5H77M81 79.5H82M84 79.5H85M88 79.5H89M90 79.5H91M114 79.5H115M116 79.5H118M125 79.5H126M128 79.5H129M0 80.5H1M5 80.5H6M34 80.5H35M38 80.5H39M40 80.5H41M47 80.5H48M51 80.5H53M54 80.5H55M58 80.5H59M62 80.5H63M68 80.5H69M73 80.5H74M84 80.5H85M91 80.5H92M98 80.5H99M104 80.5H105M115 80.5H116M138 80.5H139M143 80.5H144M10 81.5H11M15 81.5H17M18 81.5H19M22 81.5H24M36 81.5H37M43 81.5H44M46 81.5H47M48 81.5H49M51 81.5H52M58 81.5H59M60 81.5H61M67 81.5H68M76 81.5H77M107 81.5H109M121 81.5H122M134 81.5H135M21 82.5H22M35 82.5H36M38 82.5H39M58 82.5H59M69 82.5H70M71 82.5H72M76 82.5H77M79 82.5H80M93 82.5H94M96 82.5H98M112 82.5H113M118 82.5H119M124 82.5H125M140 82.5H141M2 83.5H3M16 83.5H17M26 83.5H27M37 83.5H38M39 83.5H40M62 83.5H63M70 83.5H71M77 83.5H78M92 83.5H93M94 83.5H95M96 83.5H97M109 83.5H110M113 83.5H114M120 83.5H121M143 83.5H144M0 84.5H1M11 84.5H12M17 84.5H18M26 84.5H28M36 84.5H37M66 84.5H67M81 84.5H82M100 84.5H101M108 84.5H109M131 84.5H132M9 85.5H11M13 85.5H14M20 85.5H21M27 85.5H28M31 85.5H32M40 85.5H41M59 85.5H60M63 85.5H64M79 85.5H81M101 85.5H102M107 85.5H108M109 85.5H110M120 85.5H121M134 85.5H135M137 85.5H139M140 85.5H141M143 85.5H144M1 86.5H2M22 86.5H23M26 86.5H27M36 86.5H37M43 86.5H44M50 86.5H51M58 86.5H59M64 86.5H65M70 86.5H71M89 86.5H90M91 86.5H92M108 86.5H110M115 86.5H116M119 86.5H120M129 86.5H130M137 86.5H139M140 86.5H141M2 87.5H3M23 87.5H24M26 87.5H27M32 87.5H33M44 87.5H46M68 87.5H69M70 87.5H71M76 87.5H77M85 87.5H87M92 87.5H93M97 87.5H99M106 87.5H108M116 87.5H117M120 87.5H121M128 87.5H129M138 87.5H140M17 88.5H18M36 88.5H37M40 88.5H41M44 88.5H45M53 88.5H54M58 88.5H59M60 88.5H61M69 88.5H70M75 88.5H76M82 88.5H84M118 88.5H119M121 88.5H122M131 88.5H132M142 88.5H143M11 89.5H12M25 89.5H26M30 89.5H32M35 89.5H36M48 89.5H49M59 89.5H60M61 89.5H62M73 89.5H74M86 89.5H88M89 89.5H90M115 89.5H116M119 89.5H120M133 89.5H134M137 89.5H138M1 90.5H2M14 90.5H15M19 90.5H21M24 90.5H26M27 90.5H30M31 90.5H33M48 90.5H49M73 90.5H74M75 90.5H76M83 90.5H84M91 90.5H92M99 90.5H100M131 90.5H132M141 90.5H142M143 90.5H144M2 91.5H4M6 91.5H7M30 91.5H32M45 91.5H46M48 91.5H49M53 91.5H54M56 91.5H57M69 91.5H71M75 91.5H76M81 91.5H82M92 91.5H93M100 91.5H101M102 91.5H103M119 91.5H121M128 91.5H129M0 92.5H1M2 92.5H3M9 92.5H10M11 92.5H12M15 92.5H16M20 92.5H21M28 92.5H29M34 92.5H35M46 92.5H48M52 92.5H53M57 92.5H58M60 92.5H61M71 92.5H72M80 92.5H81M90 92.5H93M98 92.5H99M101 92.5H102M111 92.5H112M115 92.5H116M117 92.5H118M128 92.5H129M143 92.5H144M16 93.5H17M29 93.5H30M35 93.5H36M49 93.5H50M59 93.5H60M61 93.5H62M65 93.5H66M70 93.5H71M85 93.5H86M94 93.5H95M97 93.5H98M109 93.5H110M121 93.5H122M128 93.5H130M16 94.5H17M28 94.5H29M47 94.5H49M73 94.5H74M80 94.5H81M85 94.5H86M92 94.5H93M98 94.5H99M107 94.5H109M110 94.5H111M115 94.5H116M120 94.5H122M127 94.5H128M4 95.5H5M17 95.5H18M26 95.5H27M42 95.5H43M46 95.5H47M50 95.5H51M54 95.5H55M65 95.5H66M67 95.5H68M76 95.5H77M93 95.5H94M99 95.5H100M103 95.5H104M121 95.5H123M129 95.5H130M18 96.5H19M26 96.5H27M31 96.5H32M47 96.5H48M55 96.5H56M57 96.5H58M59 96.5H60M68 96.5H69M77 96.5H78M81 96.5H82M85 96.5H86M103 96.5H104M105 96.5H106M107 96.5H109M115 96.5H116M117 96.5H118M120 96.5H121M123 96.5H124M135 96.5H136M137 96.5H138M139 96.5H141M0 97.5H1M31 97.5H32M37 97.5H38M40 97.5H41M53 97.5H54M60 97.5H61M74 97.5H75M84 97.5H85M94 97.5H95M99 97.5H100M106 97.5H107M108 97.5H109M124 97.5H125M0 98.5H1M14 98.5H15M32 98.5H33M44 98.5H45M46 98.5H47M60 98.5H61M85 98.5H87M88 98.5H89M128 98.5H129M136 98.5H137M139 98.5H140M4 99.5H5M36 99.5H38M49 99.5H50M73 99.5H74M78 99.5H79M86 99.5H88M122 99.5H123M133 99.5H134M137 99.5H139M11 100.5H12M32 100.5H33M37 100.5H39M41 100.5H42M47 100.5H48M49 100.5H51M57 100.5H58M62 100.5H63M64 100.5H65M72 100.5H73M85 100.5H86M98 100.5H99M105 100.5H106M1 101.5H2M22 101.5H23M25 101.5H26M31 101.5H32M35 101.5H36M37 101.5H38M39 101.5H40M56 101.5H57M58 101.5H59M69 101.5H70M77 101.5H80M91 101.5H93M104 101.5H105M108 101.5H109M110 101.5H111M116 101.5H117M129 101.5H130M138 101.5H139M2 102.5H4M26 102.5H27M37 102.5H39M46 102.5H47M48 102.5H49M57 102.5H58M63 102.5H65M68 102.5H69M74 102.5H75M77 102.5H78M84 102.5H86M87 102.5H88M99 102.5H100M101 102.5H102M107 102.5H108M121 102.5H122M128 102.5H129M138 102.5H139M5 103.5H6M10 103.5H11M22 103.5H23M26 103.5H27M29 103.5H30M36 103.5H37M45 103.5H46M57 103.5H58M60 103.5H61M64 103.5H65M77 103.5H79M86 103.5H87M126 103.5H127M128 103.5H129M134 103.5H135M139 103.5H140M17 104.5H19M27 104.5H28M35 104.5H36M38 104.5H39M61 104.5H62M63 104.5H64M74 104.5H75M95 104.5H96M97 104.5H98M107 104.5H108M127 104.5H128M129 104.5H130M133 104.5H134M6 105.5H7M17 105.5H18M51 105.5H54M79 105.5H80M83 105.5H84M91 105.5H93M115 105.5H116M120 105.5H121M126 105.5H127M9 106.5H10M16 106.5H17M18 106.5H19M20 106.5H21M73 106.5H75M85 106.5H87M97 106.5H98M103 106.5H104M110 106.5H111M121 106.5H122M127 106.5H128M129 106.5H130M0 107.5H1M2 107.5H4M7 107.5H8M24 107.5H25M34 107.5H35M47 107.5H48M65 107.5H66M67 107.5H68M77 107.5H78M86 107.5H87M88 107.5H89M97 107.5H98M100 107.5H101M102 107.5H103M104 107.5H105M106 107.5H107M122 107.5H123M126 107.5H127M131 107.5H133M143 107.5H144M2 108.5H3M4 108.5H5M6 108.5H7M17 108.5H18M32 108.5H34M36 108.5H38M55 108.5H57M59 108.5H60M80 108.5H81M86 108.5H87M93 108.5H94M96 108.5H97M103 108.5H104M105 108.5H106M110 108.5H111M126 108.5H127M131 108.5H132M133 108.5H134M10 109.5H11M12 109.5H13M17 109.5H19M41 109.5H42M64 109.5H65M77 109.5H78M81 109.5H82M90 109.5H91M96 109.5H97M103 109.5H105M112 109.5H113M125 109.5H126M130 109.5H131M136 109.5H137M142 109.5H143M21 110.5H22M25 110.5H26M27 110.5H28M30 110.5H31M33 110.5H34M36 110.5H38M45 110.5H46M51 110.5H52M64 110.5H65M69 110.5H71M75 110.5H76M80 110.5H81M82 110.5H83M95 110.5H96M104 110.5H105M109 110.5H110M116 110.5H117M118 110.5H119M129 110.5H132M2 111.5H3M16 111.5H17M70 111.5H71M74 111.5H75M80 111.5H81M85 111.5H86M92 111.5H94M105 111.5H106M114 111.5H115M117 111.5H118M141 111.5H142M3 112.5H4M11 112.5H12M28 112.5H29M30 112.5H31M38 112.5H39M52 112.5H53M64 112.5H65M84 112.5H85M92 112.5H93M121 112.5H122M130 112.5H131M132 112.5H133M143 112.5H144M6 113.5H7M10 113.5H11M12 113.5H13M18 113.5H19M23 113.5H24M31 113.5H33M81 113.5H82M90 113.5H91M93 113.5H94M96 113.5H98M114 113.5H116M130 113.5H131M134 113.5H135M139 113.5H140M12 114.5H13M18 114.5H19M25 114.5H26M38 114.5H39M41 114.5H42M43 114.5H44M49 114.5H50M52 114.5H53M58 114.5H59M63 114.5H65M70 114.5H71M78 114.5H79M87 114.5H88M89 114.5H90M91 114.5H92M122 114.5H123M126 114.5H127M133 114.5H134M0 115.5H1M2 115.5H3M6 115.5H7M17 115.5H18M24 115.5H25M51 115.5H52M57 115.5H58M68 115.5H69M78 115.5H79M85 115.5H86M102 115.5H103M110 115.5H112M115 115.5H116M130 115.5H131M133 115.5H134M143 115.5H144M7 116.5H8M10 116.5H11M14 116.5H15M16 116.5H18M19 116.5H20M25 116.5H27M38 116.5H39M47 116.5H48M59 116.5H60M61 116.5H62M63 116.5H64M67 116.5H68M69 116.5H70M79 116.5H80M90 116.5H91M96 116.5H97M98 116.5H99M111 116.5H112M115 116.5H117M129 116.5H131M135 116.5H136M7 117.5H9M14 117.5H15M20 117.5H21M22 117.5H23M35 117.5H36M37 117.5H38M39 117.5H40M55 117.5H57M67 117.5H68M75 117.5H76M80 117.5H81M82 117.5H83M96 117.5H97M107 117.5H108M128 117.5H129M135 117.5H136M140 117.5H141M0 118.5H1M9 118.5H11M15 118.5H16M20 118.5H21M25 118.5H26M35 118.5H36M49 118.5H51M52 118.5H53M73 118.5H74M95 118.5H96M117 118.5H118M126 118.5H128M129 118.5H130M17 119.5H18M43 119.5H45M46 119.5H47M53 119.5H54M58 119.5H59M63 119.5H64M74 119.5H75M86 119.5H87M89 119.5H90M94 119.5H96M134 119.5H136M143 119.5H144M3 120.5H5M9 120.5H10M11 120.5H12M30 120.5H31M41 120.5H42M44 120.5H45M54 120.5H55M62 120.5H63M64 120.5H65M68 120.5H70M85 120.5H86M91 120.5H92M94 120.5H95M99 120.5H100M106 120.5H107M114 120.5H115M117 120.5H118M3 121.5H4M9 121.5H10M15 121.5H16M23 121.5H24M30 121.5H31M32 121.5H33M41 121.5H42M43 121.5H44M51 121.5H52M70 121.5H72M75 121.5H77M79 121.5H80M85 121.5H86M91 121.5H92M95 121.5H96M105 121.5H106M107 121.5H109M113 121.5H115M118 121.5H119M124 121.5H125M130 121.5H131M138 121.5H139M5 122.5H6M15 122.5H16M31 122.5H32M34 122.5H35M48 122.5H49M51 122.5H52M57 122.5H58M60 122.5H61M65 122.5H66M68 122.5H69M72 122.5H73M76 122.5H77M78 122.5H79M97 122.5H98M102 122.5H103M109 122.5H110M129 122.5H130M131 122.5H132M133 122.5H135M136 122.5H137M143 122.5H144M18 123.5H20M28 123.5H29M38 123.5H39M46 123.5H48M49 123.5H50M51 123.5H52M59 123.5H60M63 123.5H64M71 123.5H72M86 123.5H87M94 123.5H95M97 123.5H100M101 123.5H102M110 123.5H111M114 123.5H116M126 123.5H128M139 123.5H140M1 124.5H3M6 124.5H7M10 124.5H11M19 124.5H21M38 124.5H39M58 124.5H59M60 124.5H61M87 124.5H88M90 124.5H91M96 124.5H97M98 124.5H99M111 124.5H112M113 124.5H115M119 124.5H121M124 124.5H125M130 124.5H131M140 124.5H141M10 125.5H11M12 125.5H13M42 125.5H43M53 125.5H54M68 125.5H69M84 125.5H85M112 125.5H113M125 125.5H126M129 125.5H130M133 125.5H135M140 125.5H141M12 126.5H13M16 126.5H18M22 126.5H23M31 126.5H32M41 126.5H42M43 126.5H44M77 126.5H78M82 126.5H83M85 126.5H86M87 126.5H88M90 126.5H91M103 126.5H104M111 126.5H112M124 126.5H125M130 126.5H131M139 126.5H140M1 127.5H3M4 127.5H5M6 127.5H7M9 127.5H10M11 127.5H12M15 127.5H16M21 127.5H22M29 127.5H31M36 127.5H37M42 127.5H43M61 127.5H62M76 127.5H77M78 127.5H79M83 127.5H85M89 127.5H90M94 127.5H95M98 127.5H99M102 127.5H103M124 127.5H125M132 127.5H133M137 127.5H138M0 128.5H1M4 128.5H5M24 128.5H25M27 128.5H28M29 128.5H30M37 128.5H38M47 128.5H49M50 128.5H52M66 128.5H67M69 128.5H70M77 128.5H79M81 128.5H82M89 128.5H90M100 128.5H101M106 128.5H107M130 128.5H132M135 128.5H136M138 128.5H139M1 129.5H2M5 129.5H6M14 129.5H15M26 129.5H27M48 129.5H50M51 129.5H52M67 129.5H68M73 129.5H74M76 129.5H78M105 129.5H106M110 129.5H111M123 129.5H124M127 129.5H128M131 129.5H132M138 129.5H139M4 130.5H5M20 130.5H22M43 130.5H44M59 130.5H60M65 130.5H66M69 130.5H70M71 130.5H72M74 130.5H75M76 130.5H77M82 130.5H83M109 130.5H110M111 130.5H112M126 130.5H127M131 130.5H132M141 130.5H142M11 131.5H12M15 131.5H17M30 131.5H31M36 131.5H37M43 131.5H44M55 131.5H56M61 131.5H62M69 131.5H70M77 131.5H78M79 131.5H80M92 131.5H93M98 131.5H99M101 131.5H102M104 131.5H105M110 131.5H111M112 131.5H113M21 132.5H22M23 132.5H26M35 132.5H36M37 132.5H38M47 132.5H48M54 132.5H55M58 132.5H59M60 132.5H61M73 132.5H74M79 132.5H80M82 132.5H84M85 132.5H86M90 132.5H91M92 132.5H93M111 132.5H112M113 132.5H114M133 132.5H134M8 133.5H9M10 133.5H11M27 133.5H28M36 133.5H37M38 133.5H39M62 133.5H63M68 133.5H70M86 133.5H87M88 133.5H89M90 133.5H92M97 133.5H98M132 133.5H134M12 134.5H13M14 134.5H15M24 134.5H25M37 134.5H38M54 134.5H55M62 134.5H63M77 134.5H78M91 134.5H92M96 134.5H97M102 134.5H103M111 134.5H112M118 134.5H119M126 134.5H127M134 134.5H136M140 134.5H143M1 135.5H2M7 135.5H8M20 135.5H21M42 135.5H43M44 135.5H45M48 135.5H49M56 135.5H57M59 135.5H60M78 135.5H79M82 135.5H83M91 135.5H92M102 135.5H103M111 135.5H112M113 135.5H114M120 135.5H121M125 135.5H126M127 135.5H128M4 136.5H5M33 136.5H34M48 136.5H49M56 136.5H58M61 136.5H62M69 136.5H70M78 136.5H79M83 136.5H84M88 136.5H90M91 136.5H93M96 136.5H97M109 136.5H110M111 136.5H112M115 136.5H116M138 136.5H140M142 136.5H143M19 137.5H20M36 137.5H38M45 137.5H46M59 137.5H60M62 137.5H63M67 137.5H69M72 137.5H73M77 137.5H78M79 137.5H80M81 137.5H84M85 137.5H86M88 137.5H89M100 137.5H101M107 137.5H108M110 137.5H111M115 137.5H116M140 137.5H141M23 138.5H24M25 138.5H26M35 138.5H37M57 138.5H59M66 138.5H68M76 138.5H77M78 138.5H79M81 138.5H82M85 138.5H86M92 138.5H93M96 138.5H97M104 138.5H105M110 138.5H111M115 138.5H116M122 138.5H123M2 139.5H3M4 139.5H5M12 139.5H13M21 139.5H22M23 139.5H24M44 139.5H45M49 139.5H51M58 139.5H59M63 139.5H64M76 139.5H77M88 139.5H89M93 139.5H94M102 139.5H103M109 139.5H110M114 139.5H115M125 139.5H127M141 139.5H142M11 140.5H13M36 140.5H38M57 140.5H58M64 140.5H65M67 140.5H68M70 140.5H71M83 140.5H84M99 140.5H100M102 140.5H103M104 140.5H106M109 140.5H110M111 140.5H112M113 140.5H115M125 140.5H126M127 140.5H128M134 140.5H135M141 140.5H143M4 141.5H6M36 141.5H37M59 141.5H60M62 141.5H63M69 141.5H70M71 141.5H72M80 141.5H81M84 141.5H85M115 141.5H118M133 141.5H134M137 141.5H138M9 142.5H11M12 142.5H13M26 142.5H27M42 142.5H43M53 142.5H54M60 142.5H61M69 142.5H70M72 142.5H73M77 142.5H78M83 142.5H84M96 142.5H97M111 142.5H113M122 142.5H123M124 142.5H125M137 142.5H138M8 143.5H9M17 143.5H18M49 143.5H50M51 143.5H52M57 143.5H58M64 143.5H65M69 143.5H71M102 143.5H103M111 143.5H112M123 143.5H124M130 143.5H131M132 143.5H133M138 143.5H139" stroke="#bababa" stroke-width="1"/><path d="M0 0.5H1M25 0.5H26M42 0.5H43M50 0.5H51M1 1.5H2M11 1.5H12M17 1.5H18M20 1.5H21M29 1.5H30M48 1.5H49M58 1.5H59M74 1.5H75M76 1.5H77M81 1.5H82M91 1.5H92M93 1.5H94M142 1.5H143M8 2.5H10M34 2.5H35M43 2.5H44M61 2.5H62M69 2.5H70M77 2.5H78M87 2.5H88M89 2.5H90M104 2.5H105M7 3.5H8M20 3.5H21M37 3.5H38M60 3.5H61M62 3.5H63M65 3.5H66M79 3.5H80M86 3.5H87M95 3.5H96M103 3.5H104M108 3.5H109M111 3.5H112M119 3.5H120M134 3.5H135M143 3.5H144M0 4.5H1M2 4.5H3M10 4.5H11M12 4.5H13M19 4.5H20M34 4.5H35M40 4.5H41M59 4.5H60M66 4.5H67M72 4.5H73M78 4.5H79M80 4.5H81M85 4.5H86M87 4.5H88M92 4.5H93M107 4.5H108M115 4.5H116M135 4.5H136M142 4.5H143M1 5.5H2M23 5.5H24M52 5.5H53M58 5.5H59M64 5.5H65M79 5.5H80M83 5.5H84M92 5.5H93M97 5.5H98M111 5.5H112M126 5.5H127M128 5.5H129M19 6.5H20M22 6.5H23M24 6.5H25M26 6.5H27M39 6.5H40M44 6.5H45M64 6.5H65M68 6.5H70M73 6.5H74M75 6.5H76M86 6.5H87M100 6.5H101M104 6.5H105M107 6.5H108M113 6.5H114M118 6.5H119M121 6.5H122M134 6.5H135M136 6.5H137M138 6.5H139M4 7.5H5M23 7.5H24M33 7.5H34M44 7.5H45M51 7.5H52M67 7.5H68M74 7.5H75M91 7.5H92M93 7.5H94M99 7.5H100M105 7.5H106M111 7.5H112M124 7.5H125M135 7.5H136M141 7.5H142M11 8.5H13M18 8.5H19M25 8.5H26M40 8.5H41M45 8.5H46M47 8.5H48M54 8.5H56M71 8.5H72M89 8.5H90M102 8.5H103M115 8.5H116M3 9.5H4M5 9.5H6M8 9.5H10M31 9.5H32M41 9.5H42M44 9.5H45M72 9.5H73M88 9.5H89M98 9.5H99M108 9.5H109M124 9.5H125M21 10.5H22M25 10.5H26M43 10.5H44M47 10.5H48M81 10.5H82M11 11.5H12M22 11.5H23M42 11.5H43M44 11.5H45M47 11.5H49M61 11.5H62M76 11.5H77M83 11.5H84M105 11.5H106M132 11.5H133M2 12.5H3M5 12.5H6M10 12.5H11M12 12.5H13M30 12.5H32M75 12.5H76M90 12.5H91M95 12.5H96M103 12.5H104M130 12.5H132M133 12.5H134M2 13.5H3M4 13.5H5M9 13.5H10M11 13.5H12M15 13.5H17M18 13.5H19M56 13.5H57M74 13.5H75M78 13.5H79M87 13.5H89M102 13.5H103M121 13.5H122M142 13.5H143M3 14.5H4M10 14.5H11M30 14.5H31M35 14.5H36M37 14.5H38M41 14.5H42M50 14.5H51M52 14.5H53M87 14.5H89M103 14.5H104M111 14.5H112M119 14.5H120M140 14.5H142M11 15.5H12M17 15.5H19M34 15.5H35M36 15.5H37M40 15.5H41M42 15.5H43M45 15.5H46M49 15.5H50M70 15.5H71M76 15.5H77M86 15.5H87M88 15.5H90M94 15.5H95M106 15.5H107M108 15.5H109M138 15.5H139M17 16.5H18M41 16.5H42M56 16.5H57M62 16.5H64M72 16.5H73M81 16.5H82M90 16.5H91M93 16.5H94M96 16.5H97M102 16.5H103M118 16.5H119M131 16.5H132M141 16.5H142M5 17.5H6M7 17.5H8M22 17.5H23M25 17.5H26M35 17.5H36M42 17.5H43M49 17.5H50M57 17.5H58M75 17.5H76M80 17.5H81M85 17.5H86M97 17.5H100M116 17.5H117M127 17.5H128M136 17.5H137M142 17.5H144M18 18.5H19M29 18.5H30M41 18.5H42M43 18.5H44M65 18.5H67M74 18.5H75M76 18.5H77M87 18.5H88M92 18.5H93M103 18.5H104M105 18.5H107M127 18.5H129M143 18.5H144M22 19.5H23M32 19.5H33M46 19.5H47M71 19.5H72M75 19.5H76M89 19.5H90M100 19.5H101M125 19.5H126M130 19.5H131M3 20.5H4M5 20.5H7M13 20.5H14M17 20.5H18M39 20.5H40M44 20.5H45M48 20.5H50M61 20.5H62M64 20.5H65M66 20.5H67M80 20.5H81M92 20.5H93M99 20.5H100M110 20.5H111M112 20.5H113M116 20.5H117M125 20.5H126M136 20.5H137M8 21.5H9M14 21.5H15M18 21.5H19M23 21.5H25M29 21.5H30M36 21.5H37M40 21.5H41M55 21.5H56M60 21.5H61M62 21.5H63M87 21.5H88M98 21.5H100M127 21.5H128M0 22.5H1M6 22.5H7M8 22.5H9M21 22.5H23M30 22.5H31M41 22.5H42M44 22.5H47M59 22.5H60M70 22.5H71M78 22.5H79M94 22.5H95M121 22.5H122M128 22.5H130M3 23.5H4M18 23.5H19M22 23.5H23M29 23.5H30M31 23.5H32M49 23.5H50M55 23.5H56M65 23.5H66M67 23.5H68M72 23.5H73M74 23.5H75M81 23.5H83M110 23.5H111M119 23.5H121M130 23.5H132M0 24.5H1M16 24.5H17M26 24.5H27M28 24.5H29M31 24.5H32M37 24.5H38M45 24.5H46M69 24.5H70M91 24.5H92M96 24.5H97M105 24.5H107M116 24.5H117M121 24.5H122M143 24.5H144M0 25.5H1M4 25.5H5M32 25.5H33M35 25.5H36M48 25.5H49M54 25.5H55M58 25.5H59M60 25.5H61M82 25.5H83M87 25.5H88M90 25.5H91M94 25.5H95M107 25.5H108M113 25.5H114M137 25.5H138M32 26.5H33M34 26.5H35M43 26.5H44M57 26.5H58M66 26.5H67M79 26.5H80M97 26.5H98M112 26.5H113M118 26.5H119M120 26.5H121M130 26.5H133M2 27.5H3M5 27.5H6M9 27.5H10M23 27.5H24M29 27.5H31M34 27.5H35M38 27.5H39M40 27.5H41M58 27.5H59M72 27.5H73M78 27.5H79M89 27.5H90M111 27.5H112M115 27.5H116M135 27.5H136M14 28.5H15M22 28.5H23M29 28.5H30M53 28.5H54M62 28.5H63M76 28.5H77M79 28.5H80M86 28.5H87M89 28.5H90M91 28.5H92M121 28.5H122M128 28.5H129M9 29.5H10M12 29.5H13M37 29.5H38M61 29.5H62M78 29.5H79M98 29.5H99M101 29.5H103M104 29.5H105M106 29.5H107M20 30.5H21M55 30.5H56M57 30.5H58M77 30.5H78M79 30.5H80M97 30.5H98M99 30.5H100M103 30.5H104M109 30.5H110M114 30.5H115M122 30.5H123M126 30.5H128M21 31.5H22M24 31.5H26M32 31.5H33M35 31.5H36M45 31.5H46M47 31.5H48M51 31.5H52M63 31.5H64M68 31.5H69M72 31.5H73M83 31.5H84M98 31.5H99M113 31.5H114M121 31.5H122M123 31.5H124M133 31.5H134M7 32.5H8M12 32.5H13M24 32.5H25M36 32.5H37M38 32.5H39M61 32.5H62M67 32.5H68M76 32.5H77M80 32.5H81M96 32.5H97M114 32.5H115M122 32.5H123M134 32.5H135M5 33.5H6M37 33.5H38M52 33.5H53M66 33.5H67M68 33.5H69M74 33.5H75M77 33.5H78M82 33.5H83M116 33.5H117M126 33.5H127M13 34.5H14M18 34.5H19M36 34.5H37M43 34.5H44M48 34.5H49M50 34.5H51M57 34.5H58M60 34.5H61M67 34.5H68M72 34.5H73M77 34.5H78M84 34.5H85M87 34.5H88M137 34.5H138M142 34.5H143M34 35.5H35M39 35.5H40M49 35.5H50M68 35.5H69M71 35.5H72M77 35.5H79M83 35.5H84M85 35.5H86M95 35.5H96M116 35.5H117M129 35.5H130M131 35.5H132M133 35.5H134M16 36.5H17M35 36.5H36M50 36.5H51M55 36.5H56M67 36.5H68M84 36.5H85M100 36.5H101M121 36.5H122M130 36.5H131M135 36.5H136M9 37.5H10M22 37.5H23M49 37.5H50M97 37.5H98M100 37.5H101M104 37.5H105M113 37.5H114M15 38.5H16M17 38.5H18M21 38.5H22M35 38.5H36M43 38.5H44M46 38.5H47M49 38.5H50M63 38.5H64M74 38.5H75M78 38.5H79M104 38.5H105M117 38.5H118M133 38.5H134M135 38.5H136M141 38.5H142M20 39.5H21M24 39.5H26M31 39.5H32M56 39.5H57M64 39.5H65M67 39.5H68M69 39.5H70M81 39.5H82M83 39.5H84M85 39.5H86M95 39.5H96M103 39.5H104M105 39.5H106M111 39.5H112M129 39.5H130M1 40.5H2M12 40.5H13M14 40.5H15M26 40.5H27M28 40.5H29M43 40.5H44M55 40.5H56M75 40.5H76M84 40.5H85M87 40.5H88M102 40.5H103M110 40.5H111M114 40.5H115M3 41.5H4M6 41.5H7M23 41.5H25M35 41.5H36M52 41.5H53M54 41.5H55M62 41.5H63M65 41.5H66M74 41.5H75M76 41.5H77M102 41.5H103M110 41.5H111M113 41.5H114M118 41.5H119M120 41.5H121M122 41.5H123M139 41.5H140M142 41.5H143M1 42.5H2M37 42.5H38M44 42.5H45M53 42.5H54M59 42.5H60M64 42.5H65M77 42.5H78M85 42.5H86M100 42.5H101M106 42.5H107M119 42.5H120M121 42.5H122M124 42.5H125M134 42.5H135M138 42.5H139M2 43.5H3M4 43.5H5M12 43.5H13M21 43.5H22M23 43.5H24M25 43.5H27M28 43.5H29M30 43.5H31M34 43.5H35M36 43.5H37M39 43.5H40M69 43.5H71M76 43.5H77M83 43.5H84M89 43.5H90M94 43.5H95M110 43.5H111M120 43.5H121M137 43.5H138M139 43.5H140M3 44.5H4M13 44.5H14M20 44.5H21M48 44.5H49M55 44.5H56M60 44.5H61M86 44.5H87M91 44.5H92M93 44.5H94M95 44.5H96M97 44.5H98M120 44.5H121M2 45.5H3M9 45.5H10M14 45.5H15M19 45.5H20M27 45.5H28M30 45.5H31M40 45.5H41M63 45.5H64M65 45.5H66M72 45.5H74M75 45.5H76M81 45.5H82M89 45.5H90M94 45.5H95M96 45.5H97M106 45.5H108M111 45.5H112M113 45.5H115M119 45.5H120M132 45.5H133M137 45.5H138M139 45.5H140M15 46.5H16M17 46.5H18M26 46.5H27M36 46.5H37M44 46.5H45M46 46.5H47M55 46.5H56M67 46.5H68M74 46.5H75M80 46.5H81M87 46.5H88M92 46.5H93M97 46.5H98M104 46.5H105M116 46.5H117M136 46.5H137M9 47.5H10M22 47.5H23M25 47.5H26M27 47.5H28M37 47.5H38M49 47.5H50M61 47.5H62M71 47.5H72M80 47.5H81M111 47.5H112M137 47.5H138M5 48.5H6M22 48.5H23M26 48.5H27M31 48.5H32M68 48.5H69M80 48.5H82M97 48.5H98M124 48.5H125M139 48.5H140M3 49.5H4M19 49.5H20M38 49.5H39M45 49.5H46M66 49.5H67M73 49.5H74M76 49.5H77M83 49.5H84M104 49.5H105M116 49.5H117M119 49.5H120M1 50.5H2M3 50.5H4M6 50.5H7M16 50.5H17M23 50.5H24M31 50.5H32M51 50.5H52M55 50.5H56M59 50.5H60M62 50.5H63M65 50.5H66M74 50.5H75M78 50.5H79M81 50.5H82M87 50.5H88M101 50.5H102M121 50.5H122M137 50.5H138M141 50.5H142M143 50.5H144M3 51.5H4M8 51.5H9M10 51.5H11M24 51.5H25M27 51.5H28M34 51.5H35M42 51.5H43M59 51.5H60M75 51.5H76M79 51.5H80M86 51.5H88M90 51.5H91M103 51.5H105M106 51.5H107M115 51.5H116M127 51.5H128M132 51.5H133M135 51.5H136M140 51.5H141M1 52.5H2M7 52.5H8M9 52.5H10M12 52.5H13M28 52.5H29M33 52.5H34M51 52.5H52M58 52.5H59M63 52.5H64M68 52.5H70M72 52.5H73M85 52.5H86M94 52.5H95M108 52.5H109M8 53.5H9M15 53.5H16M19 53.5H20M45 53.5H46M56 53.5H57M61 53.5H62M67 53.5H68M73 53.5H74M75 53.5H76M84 53.5H85M98 53.5H99M106 53.5H107M122 53.5H124M125 53.5H127M131 53.5H132M133 53.5H134M3 54.5H4M11 54.5H12M30 54.5H31M52 54.5H53M68 54.5H69M77 54.5H78M114 54.5H115M116 54.5H117M120 54.5H121M127 54.5H128M141 54.5H142M33 55.5H34M35 55.5H36M45 55.5H46M67 55.5H68M71 55.5H72M75 55.5H76M90 55.5H91M94 55.5H95M111 55.5H112M123 55.5H124M126 55.5H127M129 55.5H130M133 55.5H134M137 55.5H138M142 55.5H143M21 56.5H22M34 56.5H35M46 56.5H47M69 56.5H70M72 56.5H73M79 56.5H80M81 56.5H82M99 56.5H100M110 56.5H111M112 56.5H113M114 56.5H115M127 56.5H128M130 56.5H131M136 56.5H137M142 56.5H143M7 57.5H8M10 57.5H11M19 57.5H20M32 57.5H33M42 57.5H43M72 57.5H73M81 57.5H82M95 57.5H96M101 57.5H102M118 57.5H119M21 58.5H22M28 58.5H29M31 58.5H32M49 58.5H50M59 58.5H60M61 58.5H62M88 58.5H89M95 58.5H96M110 58.5H111M129 58.5H130M16 59.5H17M20 59.5H21M29 59.5H30M41 59.5H42M44 59.5H45M65 59.5H66M68 59.5H69M83 59.5H84M97 59.5H98M108 59.5H109M115 59.5H116M122 59.5H123M126 59.5H127M128 59.5H129M134 59.5H135M1 60.5H2M4 60.5H5M7 60.5H8M27 60.5H28M37 60.5H38M52 60.5H53M59 60.5H61M85 60.5H86M87 60.5H88M94 60.5H95M105 60.5H106M107 60.5H108M111 60.5H112M123 60.5H124M5 61.5H6M14 61.5H15M28 61.5H29M47 61.5H48M50 61.5H51M54 61.5H55M60 61.5H61M62 61.5H63M81 61.5H82M89 61.5H90M94 61.5H95M106 61.5H107M111 61.5H112M128 61.5H130M132 61.5H133M27 62.5H28M32 62.5H33M46 62.5H47M51 62.5H52M67 62.5H68M77 62.5H78M79 62.5H80M105 62.5H106M117 62.5H118M126 62.5H127M132 62.5H133M139 62.5H140M6 63.5H7M29 63.5H30M42 63.5H43M45 63.5H46M50 63.5H51M56 63.5H57M61 63.5H62M70 63.5H71M89 63.5H90M101 63.5H102M115 63.5H116M118 63.5H119M122 63.5H123M132 63.5H133M24 64.5H25M30 64.5H31M55 64.5H56M57 64.5H58M85 64.5H86M87 64.5H88M103 64.5H104M117 64.5H118M122 64.5H123M125 64.5H126M128 64.5H129M133 64.5H134M136 64.5H137M6 65.5H7M52 65.5H53M55 65.5H57M69 65.5H70M75 65.5H77M104 65.5H106M111 65.5H112M119 65.5H120M122 65.5H124M125 65.5H126M129 65.5H130M135 65.5H136M7 66.5H8M17 66.5H18M47 66.5H48M51 66.5H52M62 66.5H63M72 66.5H73M78 66.5H79M82 66.5H83M85 66.5H86M88 66.5H89M94 66.5H95M98 66.5H99M120 66.5H121M128 66.5H129M131 66.5H132M135 66.5H136M1 67.5H2M6 67.5H7M31 67.5H34M40 67.5H41M48 67.5H49M60 67.5H61M73 67.5H74M76 67.5H77M81 67.5H82M95 67.5H96M115 67.5H116M124 67.5H125M129 67.5H130M140 67.5H141M4 68.5H5M15 68.5H16M33 68.5H34M69 68.5H70M74 68.5H75M80 68.5H81M103 68.5H104M111 68.5H112M118 68.5H119M133 68.5H134M140 68.5H141M3 69.5H5M29 69.5H30M51 69.5H52M57 69.5H58M78 69.5H79M88 69.5H89M93 69.5H94M97 69.5H98M122 69.5H123M139 69.5H140M8 70.5H9M22 70.5H25M29 70.5H30M39 70.5H40M48 70.5H49M51 70.5H52M53 70.5H54M58 70.5H59M65 70.5H66M69 70.5H70M78 70.5H79M92 70.5H93M126 70.5H127M131 70.5H133M12 71.5H13M39 71.5H40M47 71.5H48M66 71.5H67M88 71.5H89M95 71.5H96M100 71.5H101M106 71.5H107M117 71.5H119M124 71.5H125M129 71.5H130M5 72.5H6M13 72.5H14M40 72.5H41M48 72.5H49M56 72.5H57M61 72.5H62M69 72.5H70M80 72.5H81M96 72.5H97M102 72.5H103M108 72.5H109M116 72.5H117M118 72.5H119M140 72.5H141M142 72.5H143M10 73.5H11M14 73.5H15M20 73.5H21M28 73.5H30M31 73.5H33M34 73.5H35M38 73.5H39M55 73.5H56M58 73.5H59M62 73.5H63M66 73.5H67M74 73.5H75M81 73.5H82M99 73.5H100M122 73.5H123M127 73.5H128M131 73.5H132M133 73.5H135M5 74.5H6M10 74.5H11M13 74.5H14M32 74.5H33M41 74.5H42M52 74.5H53M72 74.5H73M75 74.5H76M77 74.5H78M93 74.5H94M109 74.5H110M111 74.5H112M114 74.5H115M116 74.5H117M134 74.5H135M2 75.5H3M8 75.5H9M22 75.5H23M34 75.5H35M39 75.5H40M41 75.5H42M48 75.5H49M76 75.5H77M98 75.5H99M100 75.5H101M111 75.5H112M127 75.5H129M138 75.5H139M15 76.5H16M19 76.5H20M26 76.5H27M46 76.5H47M97 76.5H98M113 76.5H114M117 76.5H118M136 76.5H137M139 76.5H140M0 77.5H1M14 77.5H15M19 77.5H20M27 77.5H28M41 77.5H42M52 77.5H53M57 77.5H58M81 77.5H82M108 77.5H109M126 77.5H127M135 77.5H136M5 78.5H6M10 78.5H11M41 78.5H42M45 78.5H46M49 78.5H50M51 78.5H52M55 78.5H56M61 78.5H62M65 78.5H66M83 78.5H84M85 78.5H86M104 78.5H105M136 78.5H137M3 79.5H4M5 79.5H7M26 79.5H27M35 79.5H36M74 79.5H75M77 79.5H78M107 79.5H108M109 79.5H110M111 79.5H112M138 79.5H139M4 80.5H5M23 80.5H24M27 80.5H28M41 80.5H42M46 80.5H47M77 80.5H78M80 80.5H81M82 80.5H83M94 80.5H95M96 80.5H97M106 80.5H107M108 80.5H109M110 80.5H111M112 80.5H113M1 81.5H2M13 81.5H14M34 81.5H35M49 81.5H50M52 81.5H53M59 81.5H60M65 81.5H66M80 81.5H82M85 81.5H86M98 81.5H99M102 81.5H103M104 81.5H105M111 81.5H112M115 81.5H116M130 81.5H131M135 81.5H136M140 81.5H141M142 81.5H143M14 82.5H15M61 82.5H62M73 82.5H74M78 82.5H79M92 82.5H93M107 82.5H108M138 82.5H139M143 82.5H144M7 83.5H8M11 83.5H12M17 83.5H18M22 83.5H23M24 83.5H25M36 83.5H37M42 83.5H43M63 83.5H64M72 83.5H73M80 83.5H81M89 83.5H90M95 83.5H96M104 83.5H105M114 83.5H115M123 83.5H124M128 83.5H129M137 83.5H138M1 84.5H3M15 84.5H16M37 84.5H38M41 84.5H42M49 84.5H50M53 84.5H54M58 84.5H59M64 84.5H65M88 84.5H89M93 84.5H94M143 84.5H144M2 85.5H3M4 85.5H5M45 85.5H46M81 85.5H82M100 85.5H101M106 85.5H107M122 85.5H123M141 85.5H142M12 86.5H13M19 86.5H20M23 86.5H24M63 86.5H64M75 86.5H76M103 86.5H104M106 86.5H107M113 86.5H114M116 86.5H117M121 86.5H122M131 86.5H132M143 86.5H144M7 87.5H8M13 87.5H14M18 87.5H19M25 87.5H26M28 87.5H29M49 87.5H50M56 87.5H57M59 87.5H60M74 87.5H75M80 87.5H82M91 87.5H92M95 87.5H96M101 87.5H102M105 87.5H106M119 87.5H120M124 87.5H125M129 87.5H130M5 88.5H7M8 88.5H9M14 88.5H15M35 88.5H36M43 88.5H44M45 88.5H46M52 88.5H53M57 88.5H58M68 88.5H69M76 88.5H77M90 88.5H91M96 88.5H97M106 88.5H107M108 88.5H109M119 88.5H120M133 88.5H134M138 88.5H139M9 89.5H10M20 89.5H21M28 89.5H29M43 89.5H44M60 89.5H61M88 89.5H89M101 89.5H102M116 89.5H117M132 89.5H133M139 89.5H140M10 90.5H11M46 90.5H47M49 90.5H50M87 90.5H88M107 90.5H108M109 90.5H110M114 90.5H115M116 90.5H117M124 90.5H125M127 90.5H128M133 90.5H134M136 90.5H137M140 90.5H141M11 91.5H12M28 91.5H29M37 91.5H38M47 91.5H48M52 91.5H53M55 91.5H56M58 91.5H59M63 91.5H64M65 91.5H66M73 91.5H74M77 91.5H78M80 91.5H81M83 91.5H84M96 91.5H99M101 91.5H102M116 91.5H117M140 91.5H141M142 91.5H143M7 92.5H8M16 92.5H17M30 92.5H31M42 92.5H44M66 92.5H67M70 92.5H71M72 92.5H73M76 92.5H77M96 92.5H97M103 92.5H104M109 92.5H110M114 92.5H115M121 92.5H122M129 92.5H130M1 93.5H2M3 93.5H4M8 93.5H9M20 93.5H21M24 93.5H25M31 93.5H32M44 93.5H45M46 93.5H47M60 93.5H61M81 93.5H82M88 93.5H90M93 93.5H94M96 93.5H97M110 93.5H111M113 93.5H114M122 93.5H123M132 93.5H134M137 93.5H138M3 94.5H4M18 94.5H19M22 94.5H23M25 94.5H27M38 94.5H39M54 94.5H55M64 94.5H66M71 94.5H72M74 94.5H75M95 94.5H96M122 94.5H123M125 94.5H126M128 94.5H129M135 94.5H136M0 95.5H1M28 95.5H29M47 95.5H48M98 95.5H99M109 95.5H110M114 95.5H115M34 96.5H35M38 96.5H39M40 96.5H41M45 96.5H46M51 96.5H52M56 96.5H57M58 96.5H59M60 96.5H61M73 96.5H74M75 96.5H76M86 96.5H87M90 96.5H91M100 96.5H101M106 96.5H107M124 96.5H125M8 97.5H9M18 97.5H19M30 97.5H31M33 97.5H34M46 97.5H47M51 97.5H52M76 97.5H77M86 97.5H87M97 97.5H98M119 97.5H120M138 97.5H140M19 98.5H20M33 98.5H34M36 98.5H37M40 98.5H41M45 98.5H46M67 98.5H68M73 98.5H74M80 98.5H81M91 98.5H92M116 98.5H117M124 98.5H125M127 98.5H128M129 98.5H130M135 98.5H136M38 99.5H39M57 99.5H58M69 99.5H70M88 99.5H89M99 99.5H100M111 99.5H112M113 99.5H114M120 99.5H121M31 100.5H32M42 100.5H43M53 100.5H54M71 100.5H72M76 100.5H77M78 100.5H79M87 100.5H88M89 100.5H90M95 100.5H96M104 100.5H105M113 100.5H114M121 100.5H122M123 100.5H124M135 100.5H139M142 100.5H143M20 101.5H21M33 101.5H35M36 101.5H37M55 101.5H56M62 101.5H64M65 101.5H66M85 101.5H87M99 101.5H101M106 101.5H107M109 101.5H110M128 101.5H129M15 102.5H16M35 102.5H36M39 102.5H40M41 102.5H42M79 102.5H80M92 102.5H93M98 102.5H99M105 102.5H106M125 102.5H126M134 102.5H135M21 103.5H22M23 103.5H24M30 103.5H31M44 103.5H45M62 103.5H63M73 103.5H74M87 103.5H88M106 103.5H108M118 103.5H119M124 103.5H125M127 103.5H128M0 104.5H1M16 104.5H17M21 104.5H22M28 104.5H29M64 104.5H65M72 104.5H73M79 104.5H80M90 104.5H91M98 104.5H99M114 104.5H115M141 104.5H142M18 105.5H19M41 105.5H42M50 105.5H51M59 105.5H60M68 105.5H69M73 105.5H75M113 105.5H114M116 105.5H117M136 105.5H137M140 105.5H141M1 106.5H2M5 106.5H6M21 106.5H22M29 106.5H30M37 106.5H38M40 106.5H41M52 106.5H53M69 106.5H70M72 106.5H73M90 106.5H91M102 106.5H103M107 106.5H108M114 106.5H115M122 106.5H123M17 107.5H18M22 107.5H23M25 107.5H26M29 107.5H31M45 107.5H46M55 107.5H56M57 107.5H58M84 107.5H85M96 107.5H97M105 107.5H106M118 107.5H119M120 107.5H121M138 107.5H139M1 108.5H2M8 108.5H9M49 108.5H50M60 108.5H61M82 108.5H83M85 108.5H86M121 108.5H122M1 109.5H2M8 109.5H9M19 109.5H20M31 109.5H32M50 109.5H51M52 109.5H53M54 109.5H55M57 109.5H58M65 109.5H66M69 109.5H70M82 109.5H83M84 109.5H85M95 109.5H96M101 109.5H102M117 109.5H119M131 109.5H133M141 109.5H142M47 110.5H48M49 110.5H50M63 110.5H64M74 110.5H75M78 110.5H79M85 110.5H86M93 110.5H94M106 110.5H107M113 110.5H114M120 110.5H121M132 110.5H133M136 110.5H137M141 110.5H142M12 111.5H13M24 111.5H25M30 111.5H31M51 111.5H52M60 111.5H61M62 111.5H63M71 111.5H72M81 111.5H82M86 111.5H87M106 111.5H107M116 111.5H117M127 111.5H128M131 111.5H132M133 111.5H134M137 111.5H138M2 112.5H3M9 112.5H10M36 112.5H37M51 112.5H52M61 112.5H62M66 112.5H67M91 112.5H92M126 112.5H127M133 112.5H134M30 113.5H31M58 113.5H59M91 113.5H92M105 113.5H106M122 113.5H123M137 113.5H138M0 114.5H1M14 114.5H15M44 114.5H45M51 114.5H52M57 114.5H58M76 114.5H77M81 114.5H82M85 114.5H86M93 114.5H94M110 114.5H111M116 114.5H117M118 114.5H119M123 114.5H124M125 114.5H126M127 114.5H128M138 114.5H139M143 114.5H144M1 115.5H2M13 115.5H14M15 115.5H16M23 115.5H24M56 115.5H57M58 115.5H59M69 115.5H70M71 115.5H72M77 115.5H78M80 115.5H81M117 115.5H118M119 115.5H120M140 115.5H141M15 116.5H16M20 116.5H21M70 116.5H71M81 116.5H83M95 116.5H96M99 116.5H100M122 116.5H123M139 116.5H140M141 116.5H142M0 117.5H1M2 117.5H3M19 117.5H20M21 117.5H22M24 117.5H25M38 117.5H39M41 117.5H42M53 117.5H54M63 117.5H64M77 117.5H78M89 117.5H90M93 117.5H95M116 117.5H117M121 117.5H122M129 117.5H130M3 118.5H4M29 118.5H30M54 118.5H55M74 118.5H76M90 118.5H91M109 118.5H110M111 118.5H112M136 118.5H137M4 119.5H5M8 119.5H9M10 119.5H11M16 119.5H17M19 119.5H21M34 119.5H35M38 119.5H39M56 119.5H57M59 119.5H60M82 119.5H83M87 119.5H88M92 119.5H93M110 119.5H111M112 119.5H113M124 119.5H125M0 120.5H1M8 120.5H9M23 120.5H24M33 120.5H34M42 120.5H43M52 120.5H53M57 120.5H58M61 120.5H62M103 120.5H104M105 120.5H106M111 120.5H112M113 120.5H114M122 120.5H123M124 120.5H125M132 120.5H133M0 121.5H1M22 121.5H23M24 121.5H25M28 121.5H29M40 121.5H41M47 121.5H48M68 121.5H69M74 121.5H75M93 121.5H94M98 121.5H99M117 121.5H118M128 121.5H129M135 121.5H137M139 121.5H140M142 121.5H143M23 122.5H24M25 122.5H26M29 122.5H30M32 122.5H34M39 122.5H40M54 122.5H55M66 122.5H67M79 122.5H80M84 122.5H85M90 122.5H91M96 122.5H97M127 122.5H128M132 122.5H133M139 122.5H140M6 123.5H7M11 123.5H12M13 123.5H14M24 123.5H25M26 123.5H28M30 123.5H31M53 123.5H54M58 123.5H59M64 123.5H65M68 123.5H69M72 123.5H73M83 123.5H84M90 123.5H91M95 123.5H96M124 123.5H125M141 123.5H142M11 124.5H12M17 124.5H18M25 124.5H26M31 124.5H32M52 124.5H53M74 124.5H75M81 124.5H82M104 124.5H105M128 124.5H129M133 124.5H134M142 124.5H143M6 125.5H7M18 125.5H19M60 125.5H61M75 125.5H76M90 125.5H91M97 125.5H98M101 125.5H102M118 125.5H120M127 125.5H128M130 125.5H131M139 125.5H140M1 126.5H2M3 126.5H4M32 126.5H33M53 126.5H54M79 126.5H80M83 126.5H84M92 126.5H93M120 126.5H121M132 126.5H134M135 126.5H136M138 126.5H139M140 126.5H141M24 127.5H25M40 127.5H41M47 127.5H48M57 127.5H58M85 127.5H86M93 127.5H94M112 127.5H113M117 127.5H118M127 127.5H128M130 127.5H131M134 127.5H135M143 127.5H144M7 128.5H8M13 128.5H14M21 128.5H22M26 128.5H27M31 128.5H32M40 128.5H41M43 128.5H44M49 128.5H50M58 128.5H59M67 128.5H68M80 128.5H81M82 128.5H83M87 128.5H88M105 128.5H106M111 128.5H112M118 128.5H119M123 128.5H124M125 128.5H127M132 128.5H133M0 129.5H1M6 129.5H7M8 129.5H9M21 129.5H22M28 129.5H29M79 129.5H80M90 129.5H91M97 129.5H98M115 129.5H116M132 129.5H133M141 129.5H142M18 130.5H19M29 130.5H30M33 130.5H34M38 130.5H39M49 130.5H50M67 130.5H68M73 130.5H74M78 130.5H79M85 130.5H86M89 130.5H90M91 130.5H92M115 130.5H116M6 131.5H7M22 131.5H23M39 131.5H40M62 131.5H63M67 131.5H68M82 131.5H83M115 131.5H116M119 131.5H120M138 131.5H139M140 131.5H141M2 132.5H3M15 132.5H16M29 132.5H30M67 132.5H68M69 132.5H71M78 132.5H79M80 132.5H81M87 132.5H89M101 132.5H102M129 132.5H130M131 132.5H132M137 132.5H138M7 133.5H8M9 133.5H10M12 133.5H13M32 133.5H33M51 133.5H52M67 133.5H68M71 133.5H72M100 133.5H101M105 133.5H106M125 133.5H126M130 133.5H131M9 134.5H10M19 134.5H20M22 134.5H23M27 134.5H28M44 134.5H45M46 134.5H47M52 134.5H53M65 134.5H66M70 134.5H71M97 134.5H98M101 134.5H102M103 134.5H104M106 134.5H107M113 134.5H114M120 134.5H121M124 134.5H125M133 134.5H134M9 135.5H10M18 135.5H19M41 135.5H42M85 135.5H86M90 135.5H91M117 135.5H118M122 135.5H124M126 135.5H127M140 135.5H141M142 135.5H143M12 136.5H13M19 136.5H21M26 136.5H27M29 136.5H30M46 136.5H47M54 136.5H55M58 136.5H59M60 136.5H61M64 136.5H65M70 136.5H71M77 136.5H78M97 136.5H98M101 136.5H102M137 136.5H138M13 137.5H14M26 137.5H27M30 137.5H31M34 137.5H35M46 137.5H47M50 137.5H51M63 137.5H64M65 137.5H66M71 137.5H72M74 137.5H75M78 137.5H79M97 137.5H99M105 137.5H106M126 137.5H127M137 137.5H138M142 137.5H143M6 138.5H7M14 138.5H15M20 138.5H21M26 138.5H27M42 138.5H43M64 138.5H65M68 138.5H69M73 138.5H74M87 138.5H88M99 138.5H100M105 138.5H106M116 138.5H117M125 138.5H126M133 138.5H134M138 138.5H139M8 139.5H9M11 139.5H12M13 139.5H14M22 139.5H23M37 139.5H38M45 139.5H46M67 139.5H68M71 139.5H72M83 139.5H84M92 139.5H93M94 139.5H95M134 139.5H135M17 140.5H18M21 140.5H22M24 140.5H25M44 140.5H45M51 140.5H52M58 140.5H60M63 140.5H64M75 140.5H76M97 140.5H98M100 140.5H101M126 140.5H127M12 141.5H13M26 141.5H27M33 141.5H34M37 141.5H38M55 141.5H56M67 141.5H68M87 141.5H88M96 141.5H97M105 141.5H107M112 141.5H113M119 141.5H120M121 141.5H122M132 141.5H133M135 141.5H136M139 141.5H140M4 142.5H5M32 142.5H33M71 142.5H72M99 142.5H100M103 142.5H104M107 142.5H108M114 142.5H115M118 142.5H119M120 142.5H121M127 142.5H128M138 142.5H139M1 143.5H2M24 143.5H25M26 143.5H27M38 143.5H39M41 143.5H42M47 143.5H48M56 143.5H57M65 143.5H66M101 143.5H102M121 143.5H122M129 143.5H130" stroke="#a8a8a8" stroke-width="1"/><path d="M35 0.5H36M51 0.5H52M64 0.5H65M108 0.5H109M15 1.5H16M25 1.5H27M42 1.5H43M47 1.5H48M61 1.5H62M90 1.5H91M124 1.5H125M129 1.5H130M132 1.5H133M138 1.5H139M1 2.5H2M5 2.5H7M38 2.5H39M44 2.5H45M51 2.5H52M76 2.5H77M114 2.5H115M16 3.5H17M34 3.5H36M61 3.5H62M105 3.5H106M110 3.5H111M131 3.5H132M7 4.5H8M27 4.5H28M35 4.5H37M56 4.5H57M82 4.5H83M105 4.5H106M110 4.5H111M3 5.5H4M8 5.5H9M25 5.5H26M38 5.5H39M43 5.5H44M73 5.5H75M78 5.5H79M82 5.5H83M87 5.5H88M114 5.5H115M125 5.5H126M3 6.5H4M29 6.5H31M43 6.5H44M92 6.5H93M102 6.5H103M132 6.5H133M11 7.5H12M24 7.5H25M29 7.5H30M32 7.5H33M37 7.5H38M47 7.5H48M55 7.5H56M73 7.5H74M80 7.5H81M90 7.5H91M119 7.5H120M126 7.5H127M17 8.5H18M22 8.5H23M29 8.5H30M59 8.5H60M63 8.5H64M76 8.5H77M85 8.5H86M88 8.5H89M107 8.5H108M129 8.5H130M138 8.5H139M140 8.5H141M18 9.5H19M43 9.5H44M55 9.5H56M64 9.5H65M101 9.5H102M128 9.5H129M1 10.5H2M41 10.5H42M53 10.5H55M61 10.5H62M78 10.5H79M84 10.5H85M86 10.5H87M93 10.5H94M98 10.5H99M122 10.5H123M124 10.5H125M132 10.5H133M135 10.5H136M19 11.5H20M23 11.5H24M46 11.5H47M60 11.5H61M64 11.5H65M88 11.5H89M124 11.5H125M4 12.5H5M6 12.5H7M13 12.5H14M21 12.5H22M27 12.5H28M47 12.5H48M58 12.5H59M62 12.5H63M79 12.5H80M102 12.5H103M108 12.5H109M116 12.5H117M134 12.5H135M37 13.5H38M42 13.5H43M62 13.5H63M77 13.5H78M96 13.5H97M100 13.5H101M108 13.5H109M115 13.5H117M126 13.5H127M17 14.5H18M27 14.5H28M40 14.5H41M78 14.5H79M10 15.5H11M13 15.5H14M30 15.5H31M32 15.5H33M37 15.5H38M50 15.5H51M56 15.5H57M96 15.5H97M109 15.5H110M112 15.5H113M129 15.5H130M16 16.5H17M22 16.5H23M132 16.5H133M11 17.5H12M45 17.5H46M79 17.5H80M110 17.5H111M120 17.5H121M123 17.5H124M126 17.5H127M40 18.5H41M73 18.5H74M138 18.5H139M140 18.5H142M13 19.5H14M28 19.5H29M42 19.5H43M54 19.5H55M76 19.5H77M83 19.5H84M104 19.5H106M114 19.5H115M135 19.5H136M12 20.5H13M20 20.5H22M43 20.5H44M68 20.5H69M72 20.5H73M94 20.5H95M98 20.5H99M143 20.5H144M21 21.5H22M42 21.5H43M97 21.5H98M122 21.5H123M26 22.5H27M40 22.5H41M64 22.5H65M74 22.5H75M89 22.5H90M93 22.5H94M95 22.5H96M112 22.5H113M122 22.5H123M126 22.5H127M135 22.5H136M17 23.5H18M34 23.5H35M50 23.5H51M59 23.5H60M70 23.5H71M87 23.5H88M106 23.5H107M126 23.5H127M7 24.5H8M23 24.5H24M27 24.5H28M35 24.5H36M39 24.5H40M47 24.5H48M65 24.5H67M107 24.5H108M114 24.5H115M136 24.5H137M3 25.5H4M15 25.5H16M20 25.5H21M23 25.5H24M40 25.5H41M61 25.5H62M64 25.5H65M86 25.5H87M110 25.5H111M112 25.5H113M125 25.5H126M142 25.5H143M35 26.5H36M56 26.5H57M104 26.5H105M12 27.5H13M18 27.5H19M24 27.5H25M43 27.5H44M49 27.5H50M63 27.5H64M69 27.5H70M85 27.5H86M92 27.5H93M99 27.5H100M112 27.5H114M46 28.5H47M55 28.5H56M65 28.5H66M70 28.5H71M82 28.5H83M124 28.5H125M138 28.5H139M2 29.5H3M23 29.5H24M28 29.5H29M43 29.5H44M113 29.5H114M115 29.5H116M120 29.5H121M128 29.5H129M140 29.5H141M14 30.5H15M32 30.5H33M63 30.5H64M94 30.5H95M101 30.5H102M115 30.5H116M119 30.5H120M137 30.5H138M140 30.5H141M9 31.5H10M16 31.5H17M18 31.5H19M34 31.5H35M46 31.5H47M48 31.5H49M64 31.5H65M78 31.5H79M87 31.5H88M99 31.5H100M107 31.5H108M111 31.5H112M3 32.5H4M70 32.5H71M72 32.5H73M92 32.5H93M103 32.5H104M106 32.5H107M117 32.5H118M21 33.5H22M36 33.5H37M43 33.5H44M90 33.5H91M100 33.5H101M102 33.5H104M114 33.5H115M120 33.5H121M137 33.5H138M4 34.5H5M21 34.5H22M103 34.5H104M14 35.5H15M24 35.5H25M33 35.5H34M37 35.5H38M44 35.5H45M56 35.5H57M65 35.5H67M81 35.5H82M88 35.5H89M92 35.5H93M100 35.5H101M111 35.5H112M128 35.5H129M135 35.5H136M140 35.5H141M23 36.5H24M26 36.5H27M52 36.5H53M63 36.5H64M79 36.5H80M89 36.5H90M101 36.5H102M104 36.5H106M137 36.5H138M21 37.5H22M33 37.5H34M37 37.5H38M41 37.5H42M69 37.5H70M73 37.5H74M75 37.5H76M134 37.5H135M4 38.5H5M7 38.5H8M23 38.5H24M30 38.5H31M56 38.5H57M61 38.5H62M68 38.5H69M95 38.5H96M111 38.5H112M119 38.5H121M123 38.5H124M127 38.5H128M132 38.5H133M5 39.5H6M10 39.5H11M27 39.5H28M33 39.5H34M46 39.5H47M55 39.5H56M89 39.5H90M109 39.5H110M115 39.5H116M15 40.5H16M35 40.5H36M41 40.5H42M50 40.5H51M57 40.5H58M69 40.5H70M85 40.5H86M92 40.5H93M95 40.5H96M105 40.5H106M117 40.5H118M125 40.5H126M130 40.5H131M132 40.5H133M137 40.5H138M4 41.5H5M9 41.5H10M18 41.5H19M21 41.5H22M32 41.5H33M73 41.5H74M77 41.5H78M92 41.5H93M106 41.5H107M123 41.5H124M125 41.5H126M3 42.5H4M20 42.5H21M30 42.5H31M58 42.5H59M75 42.5H76M79 42.5H80M82 42.5H83M89 42.5H90M94 42.5H95M125 42.5H126M142 42.5H143M6 43.5H7M11 43.5H12M19 43.5H20M22 43.5H23M56 43.5H57M59 43.5H60M75 43.5H76M119 43.5H120M140 43.5H141M4 44.5H5M19 44.5H20M46 44.5H47M77 44.5H78M99 44.5H100M128 44.5H129M131 44.5H132M137 44.5H138M17 45.5H18M22 45.5H23M87 45.5H88M129 45.5H130M9 46.5H10M21 46.5H22M31 46.5H32M37 46.5H38M50 46.5H51M53 46.5H54M57 46.5H58M66 46.5H67M82 46.5H84M90 46.5H91M119 46.5H120M135 46.5H136M141 46.5H142M12 47.5H13M20 47.5H21M23 47.5H24M32 47.5H33M36 47.5H37M12 48.5H13M38 48.5H39M73 48.5H74M76 48.5H77M86 48.5H87M89 48.5H90M134 48.5H136M137 48.5H138M11 49.5H13M35 49.5H36M57 49.5H58M67 49.5H69M71 49.5H72M93 49.5H94M121 49.5H122M140 49.5H141M2 50.5H3M14 50.5H15M52 50.5H53M79 50.5H80M95 50.5H96M110 50.5H111M124 50.5H125M29 51.5H30M32 51.5H33M61 51.5H62M78 51.5H79M88 51.5H89M97 51.5H98M117 51.5H118M20 52.5H21M45 52.5H46M75 52.5H76M86 52.5H87M91 52.5H92M102 52.5H103M132 52.5H133M142 52.5H143M21 53.5H22M24 53.5H25M38 53.5H39M134 53.5H135M143 53.5H144M0 54.5H1M14 54.5H15M54 54.5H56M71 54.5H72M88 54.5H89M102 54.5H103M113 54.5H114M128 54.5H129M6 55.5H7M23 55.5H24M27 55.5H28M29 55.5H30M82 55.5H83M86 55.5H87M104 55.5H105M110 55.5H111M18 56.5H19M33 56.5H34M39 56.5H40M45 56.5H46M51 56.5H52M78 56.5H79M116 56.5H117M129 56.5H130M132 56.5H133M14 57.5H15M25 57.5H26M43 57.5H44M46 57.5H47M57 57.5H58M61 57.5H62M88 57.5H89M98 57.5H99M106 57.5H107M126 57.5H127M134 57.5H135M36 58.5H37M38 58.5H39M63 58.5H66M85 58.5H86M89 58.5H90M98 58.5H99M101 58.5H102M117 58.5H118M19 59.5H20M67 59.5H68M86 59.5H87M133 59.5H134M137 59.5H138M47 60.5H48M54 60.5H55M57 60.5H58M76 60.5H78M84 60.5H85M93 60.5H94M104 60.5H105M117 60.5H118M127 60.5H128M4 61.5H5M40 61.5H41M46 61.5H47M66 61.5H67M71 61.5H72M121 61.5H122M127 61.5H128M16 62.5H17M34 62.5H35M47 62.5H49M73 62.5H74M127 62.5H128M7 63.5H8M25 63.5H26M30 63.5H31M44 63.5H45M46 63.5H47M90 63.5H91M100 63.5H101M46 64.5H47M49 64.5H50M61 64.5H62M73 64.5H74M114 64.5H115M121 64.5H122M0 65.5H1M4 65.5H5M17 65.5H18M49 65.5H50M92 65.5H93M95 65.5H96M99 65.5H100M130 65.5H131M133 65.5H135M6 66.5H7M57 66.5H58M74 66.5H75M81 66.5H82M123 66.5H124M127 66.5H128M142 66.5H143M12 67.5H13M17 67.5H18M38 67.5H39M72 67.5H73M117 67.5H118M121 67.5H122M123 67.5H124M133 67.5H134M3 68.5H4M5 68.5H6M7 68.5H8M23 68.5H24M42 68.5H43M85 68.5H86M109 68.5H110M116 68.5H117M127 68.5H128M135 68.5H136M6 69.5H7M101 69.5H102M132 69.5H133M138 69.5H139M14 70.5H15M16 70.5H17M31 70.5H32M35 70.5H36M60 70.5H61M72 70.5H73M120 70.5H121M11 71.5H12M30 71.5H31M45 71.5H46M77 71.5H78M92 71.5H93M119 71.5H120M136 71.5H137M21 72.5H22M31 72.5H32M47 72.5H48M57 72.5H59M60 72.5H61M74 72.5H75M123 72.5H124M132 72.5H133M7 73.5H8M12 73.5H13M15 73.5H16M25 73.5H26M36 73.5H37M40 73.5H41M44 73.5H45M49 73.5H50M52 73.5H53M56 73.5H57M80 73.5H81M83 73.5H84M92 73.5H93M36 74.5H37M59 74.5H60M74 74.5H75M78 74.5H79M127 74.5H128M65 75.5H66M119 75.5H120M136 75.5H137M16 76.5H17M38 76.5H39M56 76.5H57M63 76.5H64M69 76.5H70M72 76.5H73M80 76.5H81M91 76.5H92M129 76.5H130M143 76.5H144M21 77.5H22M30 77.5H31M32 77.5H33M64 77.5H65M75 77.5H76M113 77.5H114M3 78.5H5M11 78.5H12M81 78.5H83M86 78.5H87M114 78.5H115M123 78.5H124M140 78.5H141M42 79.5H43M54 79.5H55M86 79.5H87M115 79.5H116M131 79.5H132M3 80.5H4M12 80.5H13M17 80.5H18M33 80.5H34M35 80.5H36M67 80.5H68M78 80.5H79M86 80.5H87M90 80.5H91M17 81.5H18M20 81.5H21M35 81.5H36M38 81.5H39M47 81.5H48M61 81.5H62M77 81.5H78M79 81.5H80M82 81.5H83M97 81.5H98M112 81.5H113M139 81.5H140M13 82.5H14M30 82.5H31M34 82.5H35M44 82.5H45M51 82.5H52M67 82.5H68M70 82.5H71M80 82.5H81M139 82.5H140M32 83.5H33M76 83.5H77M88 83.5H89M93 83.5H94M97 83.5H98M108 83.5H109M112 83.5H113M14 84.5H15M40 84.5H41M46 84.5H47M54 84.5H55M130 84.5H131M132 84.5H133M11 85.5H12M88 85.5H89M121 85.5H122M126 85.5H127M2 86.5H5M44 86.5H46M59 86.5H60M128 86.5H129M1 87.5H2M12 87.5H13M22 87.5H23M27 87.5H28M38 87.5H39M125 87.5H126M137 87.5H138M9 88.5H12M31 88.5H32M48 88.5H49M139 88.5H140M62 89.5H63M90 89.5H91M93 89.5H94M127 89.5H128M131 89.5H132M72 90.5H73M98 90.5H99M20 91.5H21M40 91.5H41M99 91.5H100M115 91.5H116M117 91.5H118M131 91.5H132M35 92.5H36M45 92.5H46M65 92.5H66M73 92.5H74M116 92.5H117M127 92.5H128M139 92.5H140M7 93.5H8M15 93.5H16M28 93.5H29M30 93.5H31M62 93.5H63M95 93.5H96M32 94.5H33M55 94.5H57M72 94.5H73M79 94.5H80M81 94.5H82M99 94.5H100M114 94.5H115M56 95.5H57M77 95.5H78M92 95.5H93M128 95.5H129M134 95.5H135M139 95.5H140M10 96.5H11M23 96.5H24M29 96.5H30M114 96.5H115M122 96.5H123M131 96.5H132M134 96.5H135M141 96.5H142M1 97.5H2M14 97.5H15M17 97.5H18M65 97.5H66M81 97.5H82M71 98.5H73M81 98.5H82M103 98.5H104M14 99.5H15M19 99.5H20M23 99.5H24M47 99.5H48M71 99.5H72M95 99.5H96M135 99.5H136M16 100.5H17M28 100.5H29M36 100.5H37M65 100.5H66M88 100.5H89M92 100.5H93M131 100.5H132M26 101.5H27M38 101.5H39M42 101.5H43M57 101.5H58M59 101.5H60M68 101.5H69M90 101.5H91M107 101.5H108M125 101.5H126M140 101.5H141M1 102.5H2M5 102.5H6M47 102.5H48M51 102.5H52M66 102.5H67M69 102.5H70M100 102.5H101M115 102.5H116M129 102.5H130M28 103.5H29M35 103.5H36M47 103.5H48M61 103.5H62M63 103.5H64M72 103.5H73M84 103.5H85M98 103.5H99M8 104.5H9M32 104.5H33M52 104.5H53M60 104.5H61M84 104.5H85M101 104.5H102M120 104.5H121M128 104.5H129M132 104.5H133M134 104.5H135M1 105.5H2M28 105.5H29M35 105.5H36M107 105.5H108M110 105.5H111M128 105.5H130M6 106.5H7M14 106.5H15M30 106.5H31M63 106.5H64M79 106.5H80M82 106.5H83M118 106.5H121M4 107.5H5M9 107.5H11M16 107.5H17M21 107.5H22M66 107.5H67M74 107.5H75M110 107.5H111M139 107.5H140M3 108.5H4M9 108.5H10M18 108.5H19M30 108.5H31M42 108.5H43M48 108.5H49M66 108.5H68M83 108.5H84M97 108.5H98M116 108.5H117M122 108.5H123M136 108.5H137M9 109.5H10M20 109.5H21M51 109.5H52M78 109.5H79M110 109.5H111M113 109.5H114M124 109.5H125M126 109.5H127M65 110.5H66M96 110.5H97M133 110.5H134M3 111.5H4M19 111.5H20M57 111.5H58M75 111.5H76M79 111.5H80M100 111.5H101M18 112.5H19M41 112.5H42M55 112.5H56M71 112.5H72M122 112.5H123M134 112.5H135M47 113.5H48M88 113.5H89M98 113.5H99M133 113.5H134M136 113.5H137M6 114.5H8M11 114.5H12M13 114.5H14M34 114.5H35M42 114.5H43M69 114.5H70M88 114.5H89M98 114.5H99M104 114.5H105M111 114.5H112M4 115.5H5M12 115.5H13M29 115.5H30M41 115.5H42M91 115.5H92M101 115.5H102M103 115.5H104M122 115.5H124M11 116.5H12M23 116.5H24M58 116.5H59M80 116.5H81M85 116.5H86M97 116.5H98M114 116.5H115M131 116.5H132M143 116.5H144M81 117.5H82M105 117.5H106M4 118.5H5M13 118.5H14M18 118.5H20M51 118.5H52M53 118.5H54M79 118.5H80M102 118.5H103M108 118.5H109M137 118.5H138M18 119.5H19M33 119.5H34M42 119.5H43M64 119.5H65M68 119.5H69M85 119.5H86M96 119.5H97M100 119.5H101M122 119.5H124M10 120.5H11M22 120.5H23M40 120.5H41M56 120.5H57M63 120.5H64M76 120.5H77M80 120.5H81M143 120.5H144M1 121.5H2M36 121.5H37M42 121.5H43M44 121.5H45M78 121.5H79M109 121.5H110M121 121.5H122M132 121.5H133M134 121.5H135M19 122.5H20M22 122.5H23M30 122.5H31M38 122.5H39M40 122.5H41M50 122.5H51M52 122.5H53M58 122.5H59M64 122.5H65M108 122.5H109M114 122.5H115M125 122.5H126M130 122.5H131M138 122.5H139M73 123.5H74M84 123.5H85M87 123.5H88M102 123.5H103M119 123.5H120M142 123.5H143M3 124.5H4M12 124.5H13M43 124.5H45M53 124.5H54M64 124.5H65M73 124.5H74M94 124.5H95M112 124.5H113M129 124.5H130M17 125.5H18M25 125.5H26M43 125.5H44M61 125.5H62M83 125.5H84M91 125.5H93M111 125.5H112M124 125.5H125M4 126.5H5M9 126.5H10M40 126.5H41M67 126.5H69M76 126.5H77M84 126.5H85M102 126.5H103M106 126.5H107M137 126.5H138M14 127.5H15M20 127.5H21M32 127.5H33M41 127.5H42M43 127.5H44M55 127.5H56M73 127.5H74M125 127.5H126M1 128.5H2M6 128.5H7M20 128.5H21M60 128.5H61M68 128.5H69M112 128.5H113M122 128.5H123M19 129.5H20M24 129.5H25M29 129.5H30M74 129.5H75M109 129.5H110M114 129.5H115M130 129.5H131M135 129.5H136M5 130.5H6M19 130.5H20M62 130.5H63M93 130.5H94M110 130.5H111M127 130.5H128M17 131.5H18M35 131.5H36M54 131.5H55M90 131.5H91M94 131.5H95M111 131.5H112M3 132.5H4M30 132.5H31M36 132.5H37M40 132.5H41M55 132.5H56M62 132.5H63M84 132.5H85M86 132.5H87M95 132.5H96M122 132.5H123M139 132.5H140M21 133.5H23M28 133.5H29M37 133.5H38M45 133.5H46M82 133.5H83M87 133.5H88M96 133.5H97M112 133.5H114M124 133.5H125M139 133.5H140M141 133.5H143M10 134.5H11M43 134.5H44M48 134.5H49M74 134.5H75M107 134.5H108M114 134.5H115M117 134.5H118M119 134.5H120M121 134.5H122M0 135.5H1M12 135.5H13M33 135.5H34M45 135.5H47M74 135.5H75M92 135.5H93M107 135.5H108M16 136.5H17M30 136.5H31M45 136.5H46M53 136.5H54M59 136.5H60M63 136.5H64M90 136.5H91M132 136.5H133M141 136.5H142M18 137.5H19M25 137.5H26M33 137.5H34M92 137.5H93M95 137.5H96M99 137.5H100M125 137.5H126M129 137.5H130M139 137.5H140M12 138.5H13M15 138.5H16M74 138.5H75M79 138.5H80M97 138.5H98M109 138.5H110M111 138.5H112M136 138.5H137M6 139.5H7M16 139.5H17M38 139.5H39M43 139.5H44M51 139.5H52M5 140.5H6M13 140.5H14M29 140.5H30M40 140.5H41M47 140.5H48M62 140.5H63M89 140.5H90M98 140.5H99M121 140.5H122M128 140.5H129M143 140.5H144M1 141.5H2M13 141.5H14M19 141.5H20M58 141.5H59M63 141.5H64M76 141.5H77M83 141.5H84M102 141.5H104M111 141.5H112M113 141.5H114M136 141.5H137M138 141.5H139M141 141.5H142M5 142.5H6M8 142.5H9M30 142.5H31M41 142.5H42M43 142.5H44M75 142.5H76M84 142.5H85M93 142.5H94M105 142.5H106M123 142.5H124M5 143.5H6M25 143.5H26M48 143.5H49M50 143.5H51M90 143.5H91M124 143.5H125M131 143.5H132" stroke="#979797" stroke-width="1"/><path d="M23 0.5H24M41 0.5H42M57 0.5H58M69 0.5H70M121 0.5H122M132 0.5H133M3 1.5H4M19 1.5H20M34 1.5H35M45 1.5H46M49 1.5H50M67 1.5H68M99 1.5H100M117 1.5H118M19 2.5H20M28 2.5H29M63 2.5H64M72 2.5H73M83 2.5H84M90 2.5H91M94 2.5H95M122 2.5H123M13 3.5H14M36 3.5H37M43 3.5H44M48 3.5H49M59 3.5H60M63 3.5H64M66 3.5H67M80 3.5H81M85 3.5H86M104 3.5H105M135 3.5H136M1 4.5H2M37 4.5H38M65 4.5H66M88 4.5H89M101 4.5H102M112 4.5H113M123 4.5H124M134 4.5H135M143 4.5H144M2 5.5H3M19 5.5H20M22 5.5H23M29 5.5H30M33 5.5H34M57 5.5H58M59 5.5H60M63 5.5H64M67 5.5H68M75 5.5H76M91 5.5H92M110 5.5H111M127 5.5H128M129 5.5H130M11 6.5H12M14 6.5H15M23 6.5H24M67 6.5H68M82 6.5H83M87 6.5H88M93 6.5H94M106 6.5H107M135 6.5H136M137 6.5H138M3 7.5H4M10 7.5H11M16 7.5H17M19 7.5H20M34 7.5H35M43 7.5H44M54 7.5H55M77 7.5H78M131 7.5H132M134 7.5H135M137 7.5H138M5 8.5H6M10 8.5H11M39 8.5H40M41 8.5H42M67 8.5H68M75 8.5H76M92 8.5H93M103 8.5H104M22 9.5H23M47 9.5H48M142 9.5H143M5 10.5H6M9 10.5H10M33 10.5H34M44 10.5H45M48 10.5H49M55 10.5H56M105 10.5H106M116 10.5H117M125 10.5H126M138 10.5H139M10 11.5H11M29 11.5H30M49 11.5H50M75 11.5H76M97 11.5H98M110 11.5H111M127 11.5H128M11 12.5H12M44 12.5H45M52 12.5H53M72 12.5H73M76 12.5H77M105 12.5H106M132 12.5H133M142 12.5H143M30 13.5H31M89 13.5H90M103 13.5H104M109 13.5H110M141 13.5H142M2 14.5H3M4 14.5H5M11 14.5H12M18 14.5H19M25 14.5H26M34 14.5H35M92 14.5H93M116 14.5H117M124 14.5H125M16 15.5H17M35 15.5H36M41 15.5H42M47 15.5H48M81 15.5H82M85 15.5H86M103 15.5H104M18 16.5H19M39 16.5H40M42 16.5H43M61 16.5H62M75 16.5H76M91 16.5H92M127 16.5H128M133 16.5H134M0 17.5H1M24 17.5H25M26 17.5H27M53 17.5H54M96 17.5H97M133 17.5H135M141 17.5H142M2 18.5H3M22 18.5H23M67 18.5H68M104 18.5H105M112 18.5H113M15 19.5H16M34 19.5H35M103 19.5H104M122 19.5H123M127 19.5H128M141 19.5H142M7 20.5H8M62 20.5H63M100 20.5H101M124 20.5H125M1 21.5H2M30 21.5H31M59 21.5H60M70 21.5H71M126 21.5H127M99 22.5H100M102 22.5H103M23 23.5H24M45 23.5H46M76 23.5H77M109 23.5H110M111 23.5H112M17 24.5H18M22 24.5H23M25 24.5H26M29 24.5H30M67 24.5H68M74 24.5H75M90 24.5H91M104 24.5H105M125 24.5H126M11 25.5H12M44 25.5H46M47 25.5H48M80 25.5H81M88 25.5H89M91 25.5H92M104 25.5H105M124 25.5H125M134 25.5H135M4 26.5H5M31 26.5H32M33 26.5H34M42 26.5H43M78 26.5H79M107 26.5H108M22 27.5H23M56 27.5H57M79 27.5H80M128 27.5H129M131 27.5H132M1 28.5H2M30 28.5H31M34 28.5H35M40 28.5H41M51 28.5H52M57 28.5H59M74 28.5H75M1 29.5H2M66 29.5H67M77 29.5H78M89 29.5H90M97 29.5H98M3 30.5H4M58 30.5H59M72 30.5H73M113 30.5H114M120 30.5H121M123 30.5H124M141 30.5H142M36 31.5H37M44 31.5H45M53 31.5H54M118 31.5H119M127 31.5H128M134 31.5H135M140 31.5H141M32 32.5H33M60 32.5H61M62 32.5H63M68 32.5H69M113 32.5H114M121 32.5H122M1 33.5H2M23 33.5H24M54 33.5H55M76 33.5H77M117 33.5H118M20 34.5H21M27 34.5H28M34 34.5H35M39 34.5H40M42 34.5H43M47 34.5H48M65 34.5H66M85 34.5H86M119 34.5H120M138 34.5H139M21 35.5H22M50 35.5H51M106 35.5H107M11 36.5H12M58 36.5H59M66 36.5H67M83 36.5H84M129 36.5H130M131 36.5H134M46 37.5H47M50 37.5H51M76 37.5H77M99 37.5H100M120 37.5H121M22 38.5H23M24 38.5H26M64 38.5H65M100 38.5H101M1 39.5H2M15 39.5H18M26 39.5H27M28 39.5H29M71 39.5H72M80 39.5H81M82 39.5H83M92 39.5H93M102 39.5H103M104 39.5H105M138 39.5H139M27 40.5H28M66 40.5H67M91 40.5H92M106 40.5H107M111 40.5H112M135 40.5H136M142 40.5H143M1 41.5H2M25 41.5H26M55 41.5H56M63 41.5H64M66 41.5H67M98 41.5H99M105 41.5H106M121 41.5H122M126 41.5H127M140 41.5H141M12 42.5H13M19 42.5H20M28 42.5H30M70 42.5H71M74 42.5H75M76 42.5H77M137 42.5H138M140 42.5H141M42 43.5H43M50 43.5H51M68 43.5H69M117 43.5H118M124 43.5H125M9 44.5H10M24 44.5H25M70 44.5H71M85 44.5H86M88 44.5H89M94 44.5H95M96 44.5H97M122 44.5H123M7 45.5H8M35 45.5H36M98 45.5H100M110 45.5H111M112 45.5H113M118 45.5H119M5 46.5H6M25 46.5H26M32 46.5H33M60 46.5H61M75 46.5H76M93 46.5H94M101 46.5H102M137 46.5H138M4 47.5H5M17 47.5H18M26 47.5H27M29 47.5H31M50 47.5H51M58 47.5H59M92 47.5H93M122 47.5H123M8 48.5H10M11 48.5H12M15 48.5H16M30 48.5H31M33 48.5H34M49 48.5H50M64 48.5H65M67 48.5H68M104 48.5H105M128 48.5H129M140 48.5H141M143 48.5H144M77 49.5H78M82 49.5H83M84 49.5H85M109 49.5H110M139 49.5H140M11 50.5H12M38 50.5H39M41 50.5H42M50 50.5H51M73 50.5H74M75 50.5H76M90 50.5H91M104 50.5H105M112 50.5H113M18 51.5H21M67 51.5H68M91 51.5H92M101 51.5H102M121 51.5H122M129 51.5H130M4 52.5H5M18 52.5H19M26 52.5H27M57 52.5H58M59 52.5H60M80 52.5H81M104 52.5H105M131 52.5H132M0 53.5H1M13 53.5H14M18 53.5H19M48 53.5H49M52 53.5H53M55 53.5H56M94 53.5H95M124 53.5H125M132 53.5H133M137 53.5H138M140 53.5H141M45 54.5H46M56 54.5H57M64 54.5H65M67 54.5H68M75 54.5H76M118 54.5H119M126 54.5H127M15 55.5H16M36 55.5H37M47 55.5H48M52 55.5H53M62 55.5H63M70 55.5H71M113 55.5H114M130 55.5H131M141 55.5H142M22 56.5H23M55 56.5H56M67 56.5H68M75 56.5H76M80 56.5H81M98 56.5H99M101 56.5H102M107 56.5H108M126 56.5H127M137 56.5H138M2 57.5H3M9 57.5H10M11 57.5H12M21 57.5H22M31 57.5H32M41 57.5H42M59 57.5H61M127 57.5H128M139 57.5H140M15 58.5H16M57 58.5H58M126 58.5H128M134 58.5H135M142 58.5H143M1 59.5H2M4 59.5H5M21 59.5H22M28 59.5H29M32 59.5H33M53 59.5H55M69 59.5H70M77 59.5H78M80 59.5H81M87 59.5H88M95 59.5H96M140 59.5H141M24 60.5H25M53 60.5H54M106 60.5H107M128 60.5H129M138 60.5H139M1 61.5H2M27 61.5H28M37 61.5H38M51 61.5H52M77 61.5H80M107 61.5H108M13 62.5H14M21 62.5H22M45 62.5H46M50 62.5H51M70 62.5H71M85 62.5H86M89 62.5H91M102 62.5H103M118 62.5H119M133 62.5H134M48 63.5H49M54 63.5H55M69 63.5H70M2 64.5H3M11 64.5H12M22 64.5H23M47 64.5H49M50 64.5H51M71 64.5H72M88 64.5H89M95 64.5H96M98 64.5H99M101 64.5H102M108 64.5H109M127 64.5H128M137 64.5H138M7 65.5H8M30 65.5H31M73 65.5H74M85 65.5H86M110 65.5H111M117 65.5H118M127 65.5H128M33 66.5H34M59 66.5H60M112 66.5H113M4 67.5H5M25 67.5H26M55 67.5H56M89 67.5H90M8 68.5H9M32 68.5H33M34 68.5H35M97 68.5H98M15 69.5H16M39 69.5H40M48 69.5H49M104 69.5H105M107 69.5H108M117 69.5H118M131 69.5H132M140 69.5H141M3 70.5H4M21 70.5H22M25 70.5H26M57 70.5H58M75 70.5H76M91 70.5H92M95 70.5H98M110 70.5H111M116 70.5H117M136 70.5H137M17 71.5H18M38 71.5H39M40 71.5H41M48 71.5H49M51 71.5H52M54 71.5H55M67 71.5H68M97 71.5H98M116 71.5H117M131 71.5H132M142 71.5H143M4 72.5H5M9 72.5H10M11 72.5H12M14 72.5H15M29 72.5H30M32 72.5H33M62 72.5H63M67 72.5H68M97 72.5H98M134 72.5H135M4 73.5H5M11 73.5H12M57 73.5H58M87 73.5H88M104 73.5H105M114 73.5H116M123 73.5H124M138 73.5H139M1 74.5H2M18 74.5H19M42 74.5H43M76 74.5H77M115 74.5H116M97 75.5H98M113 75.5H114M139 75.5H140M14 76.5H15M29 76.5H30M50 76.5H51M76 76.5H77M98 76.5H99M105 76.5H106M132 76.5H133M3 77.5H4M82 77.5H83M93 77.5H94M133 77.5H134M136 77.5H137M2 78.5H3M6 78.5H7M14 78.5H15M19 78.5H20M22 78.5H23M54 78.5H55M71 78.5H72M9 79.5H10M27 79.5H28M58 79.5H59M68 79.5H69M91 79.5H92M6 80.5H7M16 80.5H17M18 80.5H19M36 80.5H37M39 80.5H40M63 80.5H64M97 80.5H98M107 80.5H108M120 80.5H121M39 81.5H40M57 81.5H58M86 81.5H87M96 81.5H97M101 81.5H102M103 81.5H104M105 81.5H106M122 81.5H123M133 81.5H134M23 82.5H25M72 82.5H73M125 82.5H126M133 82.5H134M3 83.5H4M58 83.5H59M61 83.5H62M69 83.5H70M83 83.5H84M90 83.5H91M16 84.5H17M28 84.5H29M52 84.5H53M65 84.5H66M80 84.5H81M101 84.5H102M109 84.5H110M117 84.5H118M26 85.5H27M41 85.5H42M58 85.5H59M65 85.5H67M78 85.5H79M93 85.5H94M139 85.5H140M7 86.5H8M18 86.5H19M71 86.5H72M74 86.5H75M85 86.5H86M107 86.5H108M29 87.5H30M33 87.5H34M43 87.5H44M69 87.5H70M82 87.5H83M96 87.5H97M115 87.5H116M118 87.5H119M123 87.5H124M7 88.5H8M54 88.5H55M64 88.5H65M72 88.5H73M86 88.5H87M95 88.5H96M132 88.5H133M134 88.5H135M24 89.5H25M36 89.5H37M78 89.5H79M83 89.5H84M2 90.5H3M18 90.5H19M26 90.5H27M30 90.5H31M47 90.5H48M74 90.5H75M119 90.5H120M10 91.5H11M12 91.5H13M23 91.5H24M49 91.5H50M57 91.5H58M66 91.5H67M71 91.5H72M91 91.5H92M110 91.5H111M141 91.5H142M4 92.5H5M12 92.5H13M53 92.5H54M58 92.5H59M77 92.5H78M81 92.5H82M85 92.5H86M93 92.5H94M97 92.5H98M122 92.5H124M34 93.5H35M45 93.5H46M47 93.5H48M90 93.5H91M111 93.5H112M114 93.5H115M120 93.5H121M127 93.5H128M70 94.5H71M93 94.5H94M109 94.5H110M113 94.5H114M129 94.5H130M142 94.5H143M16 95.5H17M25 95.5H26M37 95.5H39M102 95.5H103M115 95.5H116M120 95.5H121M6 96.5H7M46 96.5H47M63 96.5H64M82 96.5H83M104 96.5H105M109 96.5H110M26 97.5H27M29 97.5H30M32 97.5H33M45 97.5H46M85 97.5H86M107 97.5H108M127 97.5H128M43 98.5H44M51 98.5H52M84 98.5H85M87 98.5H88M99 98.5H100M113 98.5H114M138 98.5H139M143 98.5H144M45 99.5H46M62 99.5H63M79 99.5H80M89 99.5H90M127 99.5H128M8 100.5H9M48 100.5H49M75 100.5H76M77 100.5H78M79 100.5H80M86 100.5H87M99 100.5H100M120 100.5H121M2 101.5H3M84 101.5H85M95 101.5H96M98 101.5H99M101 101.5H102M105 101.5H106M137 101.5H138M6 102.5H7M25 102.5H26M78 102.5H79M80 102.5H81M86 102.5H87M110 102.5H112M4 103.5H5M18 103.5H19M46 103.5H47M48 103.5H49M76 103.5H77M105 103.5H106M123 103.5H124M125 103.5H126M138 103.5H139M26 104.5H27M76 104.5H77M113 104.5H114M140 104.5H141M5 105.5H6M20 105.5H21M54 105.5H55M86 105.5H87M89 105.5H91M114 105.5H115M141 105.5H142M10 106.5H11M17 106.5H18M47 106.5H48M62 106.5H63M128 106.5H129M131 106.5H132M1 107.5H2M23 107.5H24M58 107.5H59M103 107.5H104M107 107.5H108M114 107.5H115M134 107.5H135M10 108.5H11M31 108.5H32M58 108.5H59M65 108.5H66M84 108.5H85M87 108.5H88M132 108.5H133M40 109.5H41M48 109.5H49M53 109.5H54M55 109.5H56M63 109.5H64M129 109.5H130M20 110.5H21M22 110.5H23M46 110.5H47M48 110.5H49M71 110.5H72M77 110.5H78M81 110.5H82M112 110.5H113M142 110.5H143M20 111.5H21M43 111.5H44M61 111.5H62M63 111.5H64M69 111.5H70M91 111.5H92M109 111.5H110M130 111.5H131M140 111.5H141M14 112.5H15M60 112.5H61M81 112.5H82M93 112.5H94M7 113.5H8M11 113.5H12M64 113.5H65M87 113.5H88M89 113.5H90M113 113.5H114M121 113.5H122M138 113.5H139M1 114.5H2M73 114.5H74M77 114.5H78M105 114.5H106M117 114.5H118M119 114.5H120M139 114.5H140M7 115.5H8M16 115.5H17M59 115.5H60M63 115.5H64M76 115.5H77M79 115.5H80M95 115.5H96M109 115.5H110M129 115.5H130M1 116.5H3M12 116.5H13M18 116.5H19M24 116.5H25M37 116.5H38M40 116.5H42M68 116.5H69M107 116.5H108M119 116.5H120M140 116.5H141M15 117.5H16M23 117.5H24M31 117.5H32M66 117.5H67M74 117.5H75M95 117.5H96M141 117.5H142M128 118.5H129M135 118.5H136M0 119.5H1M11 119.5H12M35 119.5H36M73 119.5H74M24 120.5H25M53 120.5H54M70 120.5H71M98 120.5H99M118 120.5H119M133 120.5H134M142 120.5H143M8 121.5H9M14 121.5H15M33 121.5H34M54 121.5H55M94 121.5H95M112 121.5H113M126 121.5H128M129 121.5H130M16 122.5H17M71 122.5H72M83 122.5H84M93 122.5H96M98 122.5H99M101 122.5H102M135 122.5H136M10 123.5H11M12 123.5H13M29 123.5H30M34 123.5H35M48 123.5H49M62 123.5H63M116 123.5H117M140 123.5H141M13 124.5H14M42 124.5H43M51 124.5H52M72 124.5H73M86 124.5H87M99 124.5H100M127 124.5H128M67 125.5H68M120 125.5H121M142 125.5H143M10 126.5H11M15 126.5H16M35 126.5H36M75 126.5H76M91 126.5H92M126 126.5H128M3 127.5H4M7 127.5H8M10 127.5H11M13 127.5H14M17 127.5H18M51 127.5H52M58 127.5H59M62 127.5H63M77 127.5H78M82 127.5H83M95 127.5H96M111 127.5H112M116 127.5H117M120 127.5H121M135 127.5H136M138 127.5H139M32 128.5H33M57 128.5H58M116 128.5H117M124 128.5H125M4 129.5H5M18 129.5H19M20 129.5H21M27 129.5H28M43 129.5H44M47 129.5H48M65 129.5H66M82 129.5H83M89 129.5H90M106 129.5H107M117 129.5H119M122 129.5H123M126 129.5H127M15 130.5H16M22 130.5H23M39 130.5H40M66 130.5H67M79 130.5H80M101 130.5H102M116 130.5H117M132 130.5H133M5 131.5H6M29 131.5H30M38 131.5H39M59 131.5H61M66 131.5H67M76 131.5H77M1 132.5H2M22 132.5H23M26 132.5H27M59 132.5H60M68 132.5H69M100 132.5H101M112 132.5H113M128 132.5H129M130 132.5H131M141 132.5H142M101 133.5H102M131 133.5H132M138 133.5H139M18 134.5H19M38 134.5H39M71 134.5H72M90 134.5H91M116 134.5H117M2 135.5H3M43 135.5H44M57 135.5H58M60 135.5H61M79 135.5H80M101 135.5H102M121 135.5H122M128 135.5H129M143 135.5H144M55 136.5H56M68 136.5H69M106 136.5H108M35 137.5H36M61 137.5H62M64 137.5H65M66 137.5H67M84 137.5H85M101 137.5H102M104 137.5H105M106 137.5H107M86 138.5H87M88 138.5H89M119 138.5H120M126 138.5H127M5 139.5H6M17 139.5H18M36 139.5H37M54 139.5H55M57 139.5H58M64 139.5H65M98 139.5H99M105 139.5H106M124 139.5H125M131 139.5H132M4 140.5H5M6 140.5H7M16 140.5H17M73 140.5H74M76 140.5H77M112 140.5H113M124 140.5H125M32 141.5H33M35 141.5H36M75 141.5H76M107 141.5H108M114 141.5H115M118 141.5H119M134 141.5H135M3 142.5H4M33 142.5H34M106 142.5H107M121 142.5H122M139 142.5H140M0 143.5H1M9 143.5H10M27 143.5H28M46 143.5H47M75 143.5H77M96 143.5H97M137 143.5H138" stroke="#868686" stroke-width="1"/><path d="M1 0.5H2M102 0.5H103M89 1.5H90M20 2.5H21M19 3.5H20M142 3.5H143M73 4.5H74M86 4.5H87M4 5.5H5M72 5.5H73M74 6.5H75M104 7.5H105M106 7.5H108M56 8.5H57M98 8.5H99M106 8.5H107M137 8.5H138M21 9.5H22M54 9.5H55M89 9.5H90M22 10.5H23M29 10.5H30M72 11.5H73M138 11.5H139M17 13.5H18M24 14.5H25M49 14.5H50M89 14.5H90M108 14.5H111M112 14.5H113M87 15.5H88M124 15.5H125M142 15.5H143M89 16.5H90M142 16.5H143M67 17.5H68M81 17.5H82M132 17.5H133M42 18.5H43M56 18.5H57M75 18.5H76M81 18.5H82M43 19.5H44M9 21.5H10M41 21.5H42M50 21.5H51M61 21.5H62M29 22.5H30M127 22.5H128M132 22.5H133M16 23.5H17M66 23.5H67M121 23.5H122M125 23.5H126M132 23.5H133M32 24.5H33M120 24.5H121M105 25.5H106M19 26.5H20M60 26.5H61M113 26.5H114M1 27.5H2M57 27.5H58M39 28.5H40M112 28.5H113M22 29.5H23M56 29.5H57M79 29.5H80M119 29.5H120M48 30.5H49M56 30.5H57M67 31.5H68M79 31.5H80M122 31.5H123M77 32.5H78M116 32.5H117M133 32.5H134M4 33.5H5M65 33.5H66M5 34.5H6M38 34.5H39M49 34.5H50M54 34.5H55M66 34.5H67M68 34.5H69M71 34.5H72M78 34.5H79M88 34.5H89M72 35.5H73M84 35.5H85M87 35.5H88M132 35.5H133M68 36.5H69M124 37.5H125M135 37.5H136M16 38.5H17M69 38.5H70M73 38.5H74M105 38.5H106M134 38.5H135M23 39.5H24M63 39.5H64M84 39.5H85M120 39.5H121M36 41.5H37M53 41.5H54M64 41.5H65M36 42.5H37M52 42.5H53M60 42.5H61M120 42.5H121M3 43.5H4M24 43.5H25M37 43.5H38M59 44.5H60M80 44.5H81M87 44.5H88M89 44.5H90M74 45.5H75M80 45.5H81M88 45.5H89M97 45.5H98M105 45.5H106M19 46.5H20M98 46.5H99M21 47.5H22M125 47.5H126M27 48.5H28M22 49.5H23M133 49.5H134M32 50.5H33M7 51.5H8M31 51.5H32M85 51.5H86M8 52.5H9M29 52.5H30M101 52.5H102M126 52.5H127M9 53.5H10M68 53.5H69M95 53.5H96M95 54.5H96M140 54.5H141M143 54.5H144M34 55.5H35M95 55.5H96M114 55.5H115M136 55.5H137M111 56.5H112M113 56.5H114M99 57.5H100M29 58.5H30M32 58.5H33M60 58.5H61M97 58.5H98M36 59.5H39M64 59.5H65M98 59.5H99M127 59.5H128M26 60.5H27M86 60.5H87M135 60.5H136M90 61.5H91M126 61.5H127M135 61.5H136M20 62.5H21M110 62.5H111M28 63.5H29M57 63.5H58M78 63.5H79M117 63.5H118M56 64.5H57M86 64.5H87M112 65.5H113M128 65.5H129M84 66.5H85M95 66.5H96M99 66.5H100M104 66.5H105M82 67.5H83M94 67.5H95M118 67.5H119M6 68.5H7M5 69.5H6M58 69.5H59M116 69.5H117M133 69.5H134M36 70.5H37M117 70.5H118M29 71.5H30M78 71.5H79M20 72.5H21M66 72.5H67M81 72.5H82M122 72.5H123M1 73.5H2M5 73.5H6M21 73.5H22M67 73.5H68M110 73.5H111M116 73.5H117M132 73.5H133M4 74.5H5M62 74.5H63M62 75.5H63M64 76.5H65M138 76.5H139M4 77.5H5M63 77.5H64M9 78.5H10M135 78.5H136M0 79.5H1M4 79.5H5M41 79.5H42M55 79.5H56M108 79.5H109M110 79.5H111M143 79.5H144M26 80.5H27M53 80.5H54M76 80.5H77M79 80.5H80M81 80.5H82M105 80.5H106M14 81.5H15M53 81.5H54M138 81.5H139M22 82.5H23M39 82.5H40M77 82.5H78M108 82.5H109M23 83.5H24M73 83.5H74M107 83.5H108M3 85.5H4M44 85.5H45M64 85.5H65M13 86.5H14M90 86.5H91M120 86.5H121M139 86.5H140M19 87.5H20M48 87.5H49M75 87.5H76M59 88.5H60M10 89.5H11M138 89.5H139M110 90.5H111M115 90.5H116M0 91.5H1M46 91.5H47M72 91.5H73M76 91.5H77M109 91.5H110M114 91.5H115M127 91.5H128M8 92.5H9M31 92.5H32M44 92.5H45M59 92.5H60M102 92.5H103M104 92.5H106M110 92.5H111M120 92.5H121M37 94.5H38M50 94.5H51M96 94.5H97M134 94.5H135M55 95.5H56M135 95.5H136M19 96.5H20M30 96.5H31M37 96.5H38M76 96.5H77M75 97.5H76M80 97.5H81M46 99.5H47M48 99.5H49M121 99.5H122M136 99.5H137M117 100.5H118M32 101.5H33M41 101.5H42M64 101.5H65M117 101.5H118M36 102.5H37M42 102.5H43M59 104.5H60M73 104.5H74M89 104.5H90M40 105.5H41M60 105.5H61M82 105.5H83M41 106.5H42M89 106.5H90M85 107.5H86M89 107.5H90M119 107.5H120M57 108.5H58M7 109.5H8M30 109.5H31M58 109.5H59M83 109.5H84M105 109.5H106M19 110.5H20M117 110.5H118M44 111.5H45M132 111.5H133M51 113.5H53M104 113.5H105M109 114.5H110M11 115.5H12M14 115.5H15M40 115.5H41M70 115.5H71M116 115.5H117M0 116.5H1M71 116.5H72M123 116.5H124M1 117.5H2M9 117.5H11M40 117.5H41M54 117.5H55M90 117.5H91M89 118.5H90M110 118.5H111M3 119.5H4M57 119.5H58M111 119.5H112M90 120.5H91M123 120.5H124M134 120.5H135M106 121.5H107M125 121.5H126M143 121.5H144M4 122.5H5M24 122.5H25M126 122.5H127M25 123.5H26M57 123.5H58M96 123.5H97M18 124.5H19M59 125.5H60M76 125.5H77M11 126.5H12M125 126.5H126M134 126.5H135M31 127.5H32M67 127.5H69M103 127.5H104M14 128.5H15M117 128.5H118M66 129.5H67M78 129.5H79M116 129.5H117M6 130.5H7M58 130.5H59M95 131.5H96M137 131.5H138M141 131.5H142M94 132.5H95M138 132.5H139M52 133.5H53M70 133.5H71M45 134.5H46M51 134.5H52M112 134.5H113M125 134.5H126M19 135.5H20M106 135.5H107M110 135.5H111M114 135.5H116M141 135.5H142M81 136.5H82M140 136.5H141M12 137.5H13M29 137.5H30M58 137.5H59M73 137.5H74M96 137.5H97M138 137.5H139M13 138.5H14M43 138.5H44M139 138.5H140M42 139.5H43M11 141.5H12M11 142.5H12M76 142.5H77M113 142.5H114M119 142.5H120M23 143.5H24M77 143.5H78" stroke="#747474" stroke-width="1"/><path d="M77 0.5H78M7 1.5H8M77 1.5H78M105 1.5H106M7 2.5H8M79 4.5H80M111 4.5H112M86 5.5H87M4 6.5H5M103 6.5H104M56 7.5H57M92 7.5H93M102 7.5H104M138 7.5H139M77 8.5H78M119 10.5H120M119 11.5H120M66 12.5H67M66 13.5H67M56 17.5H57M22 20.5H23M50 20.5H51M22 21.5H23M83 22.5H84M118 22.5H119M48 23.5H49M83 23.5H84M118 23.5H119M126 24.5H127M126 25.5H127M39 27.5H40M2 28.5H3M38 28.5H39M56 28.5H57M101 28.5H103M113 28.5H114M55 29.5H56M74 29.5H75M98 30.5H99M58 31.5H59M77 31.5H78M25 32.5H27M8 34.5H9M37 34.5H38M8 35.5H9M38 35.5H39M74 36.5H75M68 37.5H69M14 41.5H15M2 42.5H3M63 42.5H64M139 42.5H140M20 43.5H21M29 43.5H30M60 43.5H61M42 44.5H43M93 45.5H94M31 47.5H32M81 47.5H82M3 48.5H5M133 48.5H134M102 51.5H103M19 52.5H20M14 53.5H15M94 54.5H95M37 57.5H38M52 58.5H53M72 58.5H73M52 59.5H53M72 59.5H73M23 60.5H24M61 60.5H62M110 61.5H111M5 62.5H7M61 62.5H62M78 62.5H79M47 63.5H48M37 64.5H38M134 64.5H136M74 65.5H75M98 65.5H99M73 66.5H74M117 68.5H118M14 69.5H15M15 70.5H16M17 70.5H18M133 70.5H134M12 72.5H13M131 72.5H132M30 73.5H31M128 73.5H129M142 73.5H143M128 74.5H129M142 74.5H143M43 80.5H44M111 80.5H112M78 81.5H79M3 84.5H4M90 87.5H91M49 88.5H50M65 88.5H66M49 89.5H50M72 89.5H73M143 91.5H144M3 92.5H4M134 93.5H135M49 94.5H50M66 94.5H67M66 95.5H67M19 97.5H20M72 99.5H73M4 102.5H5M81 102.5H82M21 105.5H22M97 105.5H99M7 108.5H8M26 109.5H27M37 109.5H38M49 109.5H50M26 110.5H27M105 110.5H106M139 115.5H140M18 117.5H19M112 120.5H113M4 121.5H5M52 121.5H54M90 121.5H91M133 121.5H134M53 122.5H54M59 124.5H60M11 125.5H12M69 126.5H70M35 127.5H36M126 127.5H127M70 130.5H71M90 130.5H91M58 131.5H59M70 131.5H71M91 132.5H92M140 133.5H141M115 134.5H116M116 135.5H117M82 136.5H83M110 136.5H111M98 138.5H99M97 139.5H98M104 141.5H105" stroke="#636363" stroke-width="1"/><path d="M105 2.5H106M100 17.5H101M100 18.5H101M43 21.5H45M0 23.5H1M143 23.5H144M48 24.5H49M74 37.5H75M105 37.5H106M2 41.5H3M15 41.5H16M20 46.5H21M81 46.5H82M5 47.5H6M28 50.5H29M1 51.5H3M28 51.5H29M15 54.5H16M37 58.5H38M61 61.5H62M28 62.5H29M36 64.5H37M124 65.5H125M124 66.5H125M96 71.5H97M30 72.5H31M110 74.5H111M85 79.5H86M42 80.5H43M85 80.5H86M36 109.5H37M69 127.5H70M91 131.5H92M140 132.5H141M70 141.5H71M70 142.5H71M104 142.5H105" stroke="#525252" stroke-width="1"/></pattern>
<pattern id="stip2" x="0" y="0" width="64" height="64" patternUnits="userSpaceOnUse"><path d="M0 0.5H1M11 0.5H12M13 0.5H14M15 0.5H16M17 0.5H18M20 0.5H21M25 0.5H26M27 0.5H28M37 0.5H38M40 0.5H41M44 0.5H45M50 0.5H51M62 0.5H63M2 1.5H5M7 1.5H8M16 1.5H17M22 1.5H23M24 1.5H25M32 1.5H33M34 1.5H35M38 1.5H39M43 1.5H44M55 1.5H56M57 1.5H60M61 1.5H64M1 2.5H2M5 2.5H7M8 2.5H9M11 2.5H12M13 2.5H14M17 2.5H18M19 2.5H20M25 2.5H26M27 2.5H28M30 2.5H31M32 2.5H33M49 2.5H50M53 2.5H55M57 2.5H58M63 2.5H64M0 3.5H1M2 3.5H5M7 3.5H8M40 3.5H41M47 3.5H48M52 3.5H53M57 3.5H58M0 4.5H1M6 4.5H7M17 4.5H18M30 4.5H31M32 4.5H33M50 4.5H51M52 4.5H53M54 4.5H55M56 4.5H57M58 4.5H59M61 4.5H62M0 5.5H1M5 5.5H6M8 5.5H12M18 5.5H19M21 5.5H22M46 5.5H47M49 5.5H50M53 5.5H54M58 5.5H59M60 5.5H61M62 5.5H64M6 6.5H7M11 6.5H14M19 6.5H20M22 6.5H23M31 6.5H32M33 6.5H34M43 6.5H44M47 6.5H48M50 6.5H51M56 6.5H57M59 6.5H60M8 7.5H13M14 7.5H15M19 7.5H20M25 7.5H28M30 7.5H31M35 7.5H36M37 7.5H38M42 7.5H43M44 7.5H45M51 7.5H52M55 7.5H56M7 8.5H8M9 8.5H10M13 8.5H16M17 8.5H18M25 8.5H26M27 8.5H28M29 8.5H30M43 8.5H44M48 8.5H50M51 8.5H53M54 8.5H56M1 9.5H2M14 9.5H15M16 9.5H17M21 9.5H22M25 9.5H28M30 9.5H31M37 9.5H38M47 9.5H48M54 9.5H55M56 9.5H57M0 10.5H1M2 10.5H3M7 10.5H8M9 10.5H10M17 10.5H18M19 10.5H20M26 10.5H27M28 10.5H29M30 10.5H32M33 10.5H34M37 10.5H38M51 10.5H52M55 10.5H57M58 10.5H59M1 11.5H2M15 11.5H16M17 11.5H18M23 11.5H24M25 11.5H26M36 11.5H37M48 11.5H51M59 11.5H60M6 12.5H7M15 12.5H17M21 12.5H22M28 12.5H29M53 12.5H54M55 12.5H57M61 12.5H64M5 13.5H6M7 13.5H8M15 13.5H16M17 13.5H18M19 13.5H21M28 13.5H29M34 13.5H35M44 13.5H49M57 13.5H58M59 13.5H60M61 13.5H62M63 13.5H64M6 14.5H7M16 14.5H17M23 14.5H24M25 14.5H26M29 14.5H30M36 14.5H37M38 14.5H39M44 14.5H45M49 14.5H51M52 14.5H54M55 14.5H56M61 14.5H64M13 15.5H14M17 15.5H18M21 15.5H24M26 15.5H27M29 15.5H30M32 15.5H33M34 15.5H35M39 15.5H40M44 15.5H45M56 15.5H57M58 15.5H59M1 16.5H3M4 16.5H5M14 16.5H15M18 16.5H19M20 16.5H21M25 16.5H26M29 16.5H32M36 16.5H37M40 16.5H41M43 16.5H44M45 16.5H46M52 16.5H53M59 16.5H62M0 17.5H1M6 17.5H7M8 17.5H9M10 17.5H11M16 17.5H17M18 17.5H19M26 17.5H27M28 17.5H29M31 17.5H32M38 17.5H39M40 17.5H41M47 17.5H48M49 17.5H50M51 17.5H52M56 17.5H57M61 17.5H62M0 18.5H3M9 18.5H10M11 18.5H12M21 18.5H24M25 18.5H26M29 18.5H33M34 18.5H35M43 18.5H44M45 18.5H46M48 18.5H49M57 18.5H58M61 18.5H62M0 19.5H2M4 19.5H5M6 19.5H7M8 19.5H9M10 19.5H11M14 19.5H15M20 19.5H21M38 19.5H39M40 19.5H41M47 19.5H48M49 19.5H50M53 19.5H54M58 19.5H60M2 20.5H3M7 20.5H8M9 20.5H10M18 20.5H19M32 20.5H33M34 20.5H38M50 20.5H51M56 20.5H57M63 20.5H64M0 21.5H1M3 21.5H4M17 21.5H18M21 21.5H22M25 21.5H26M27 21.5H28M35 21.5H36M37 21.5H38M47 21.5H48M2 22.5H3M4 22.5H7M9 22.5H10M14 22.5H15M18 22.5H19M20 22.5H21M22 22.5H23M35 22.5H38M46 22.5H47M49 22.5H51M53 22.5H55M57 22.5H58M4 23.5H5M15 23.5H16M18 23.5H19M20 23.5H22M25 23.5H26M27 23.5H28M41 23.5H42M47 23.5H48M51 23.5H53M61 23.5H62M63 23.5H64M2 24.5H3M4 24.5H7M8 24.5H9M16 24.5H18M24 24.5H27M33 24.5H34M35 24.5H36M37 24.5H38M40 24.5H41M42 24.5H43M55 24.5H56M57 24.5H58M0 25.5H2M3 25.5H4M18 25.5H19M20 25.5H21M24 25.5H25M28 25.5H29M41 25.5H42M61 25.5H62M0 26.5H1M2 26.5H3M13 26.5H14M24 26.5H26M29 26.5H30M31 26.5H32M33 26.5H34M35 26.5H36M37 26.5H38M51 26.5H52M53 26.5H54M55 26.5H56M59 26.5H60M61 26.5H63M12 27.5H13M14 27.5H15M26 27.5H27M28 27.5H29M34 27.5H37M62 27.5H64M12 28.5H13M14 28.5H15M29 28.5H30M31 28.5H32M34 28.5H35M36 28.5H39M55 28.5H56M59 28.5H60M61 28.5H62M35 29.5H38M39 29.5H40M51 29.5H56M12 30.5H13M14 30.5H15M34 30.5H35M36 30.5H37M38 30.5H40M49 30.5H50M54 30.5H55M56 30.5H57M0 31.5H1M2 31.5H3M5 31.5H6M7 31.5H8M39 31.5H40M43 31.5H44M48 31.5H49M50 31.5H51M52 31.5H53M54 31.5H56M10 32.5H11M12 32.5H13M16 32.5H17M18 32.5H20M22 32.5H23M38 32.5H39M40 32.5H41M42 32.5H43M49 32.5H50M0 33.5H1M3 33.5H4M5 33.5H6M7 33.5H8M14 33.5H15M20 33.5H22M23 33.5H24M34 33.5H37M40 33.5H41M45 33.5H46M52 33.5H53M54 33.5H57M5 34.5H6M9 34.5H10M12 34.5H13M18 34.5H20M22 34.5H23M34 34.5H37M39 34.5H40M41 34.5H42M46 34.5H49M52 34.5H55M56 34.5H57M8 35.5H9M14 35.5H15M16 35.5H17M34 35.5H35M37 35.5H38M42 35.5H43M49 35.5H50M51 35.5H52M53 35.5H57M58 35.5H62M63 35.5H64M0 36.5H1M2 36.5H4M5 36.5H6M9 36.5H11M12 36.5H13M34 36.5H35M37 36.5H38M44 36.5H45M49 36.5H51M58 36.5H59M1 37.5H2M9 37.5H12M14 37.5H15M35 37.5H36M37 37.5H38M40 37.5H41M43 37.5H46M49 37.5H50M55 37.5H56M57 37.5H59M1 38.5H2M3 38.5H4M9 38.5H10M11 38.5H12M13 38.5H14M15 38.5H16M35 38.5H36M37 38.5H38M45 38.5H47M48 38.5H49M53 38.5H54M59 38.5H60M61 38.5H63M0 39.5H1M3 39.5H5M10 39.5H11M13 39.5H15M19 39.5H21M35 39.5H38M41 39.5H42M43 39.5H45M49 39.5H50M51 39.5H53M55 39.5H56M57 39.5H58M3 40.5H4M5 40.5H6M8 40.5H9M13 40.5H15M17 40.5H20M21 40.5H22M35 40.5H36M37 40.5H42M47 40.5H48M49 40.5H50M52 40.5H53M0 41.5H1M2 41.5H5M7 41.5H8M9 41.5H10M12 41.5H13M14 41.5H15M16 41.5H17M19 41.5H20M24 41.5H25M26 41.5H27M28 41.5H29M34 41.5H35M41 41.5H42M43 41.5H44M45 41.5H46M51 41.5H52M53 41.5H54M55 41.5H56M57 41.5H58M7 42.5H8M11 42.5H12M13 42.5H14M16 42.5H17M20 42.5H21M22 42.5H23M30 42.5H31M34 42.5H35M37 42.5H38M41 42.5H42M46 42.5H48M49 42.5H50M52 42.5H53M63 42.5H64M1 43.5H2M3 43.5H4M5 43.5H7M12 43.5H13M17 43.5H18M19 43.5H20M21 43.5H22M24 43.5H25M34 43.5H35M41 43.5H44M49 43.5H50M62 43.5H63M5 44.5H6M9 44.5H10M12 44.5H13M17 44.5H18M19 44.5H20M30 44.5H31M33 44.5H34M42 44.5H43M45 44.5H46M49 44.5H50M56 44.5H59M0 45.5H2M4 45.5H8M10 45.5H13M14 45.5H15M18 45.5H20M26 45.5H27M28 45.5H29M32 45.5H33M36 45.5H39M40 45.5H41M42 45.5H43M47 45.5H49M50 45.5H51M56 45.5H57M58 45.5H59M0 46.5H1M19 46.5H22M33 46.5H36M37 46.5H38M40 46.5H41M42 46.5H43M52 46.5H53M56 46.5H59M60 46.5H61M62 46.5H63M4 47.5H5M39 47.5H43M48 47.5H49M52 47.5H53M14 48.5H15M19 48.5H20M21 48.5H22M35 48.5H36M50 48.5H53M60 48.5H61M62 48.5H63M0 49.5H1M2 49.5H3M4 49.5H6M7 49.5H8M22 49.5H24M27 49.5H28M29 49.5H30M31 49.5H32M37 49.5H38M40 49.5H41M47 49.5H48M11 50.5H14M15 50.5H16M18 50.5H19M24 50.5H25M26 50.5H27M28 50.5H29M39 50.5H40M46 50.5H47M48 50.5H49M2 51.5H3M7 51.5H8M10 51.5H11M12 51.5H13M27 51.5H30M31 51.5H32M33 51.5H34M39 51.5H40M47 51.5H48M59 51.5H60M62 51.5H63M3 52.5H5M6 52.5H7M11 52.5H14M15 52.5H16M18 52.5H19M23 52.5H24M27 52.5H28M29 52.5H30M35 52.5H36M38 52.5H39M40 52.5H41M57 52.5H58M63 52.5H64M2 53.5H3M19 53.5H20M37 53.5H38M39 53.5H40M62 53.5H63M3 54.5H5M6 54.5H7M22 54.5H23M27 54.5H28M29 54.5H30M37 54.5H38M57 54.5H58M59 54.5H61M7 55.5H8M9 55.5H10M19 55.5H20M21 55.5H22M30 55.5H32M35 55.5H36M37 55.5H38M5 56.5H7M11 56.5H12M17 56.5H18M20 56.5H21M31 56.5H32M35 56.5H37M4 57.5H5M11 57.5H15M21 57.5H22M30 57.5H31M34 57.5H36M38 57.5H39M5 58.5H7M8 58.5H13M14 58.5H15M17 58.5H18M22 58.5H23M29 58.5H30M32 58.5H34M35 58.5H36M39 58.5H40M12 59.5H15M21 59.5H22M35 59.5H36M40 59.5H41M51 59.5H52M53 59.5H54M3 60.5H4M5 60.5H9M10 60.5H11M30 60.5H31M32 60.5H33M35 60.5H36M37 60.5H38M42 60.5H45M46 60.5H47M2 61.5H3M31 61.5H32M38 61.5H39M40 61.5H41M46 61.5H47M51 61.5H52M53 61.5H54M0 62.5H2M5 62.5H9M10 62.5H11M20 62.5H21M22 62.5H23M35 62.5H36M37 62.5H38M46 62.5H47M62 62.5H64M2 63.5H3M16 63.5H17M24 63.5H25M32 63.5H33M34 63.5H35M38 63.5H39M40 63.5H41M45 63.5H46M52 63.5H53M54 63.5H55M62 63.5H63" stroke="#eaeaea" stroke-width="1"/><path d="M12 0.5H13M21 0.5H22M24 0.5H25M26 0.5H27M32 0.5H33M34 0.5H35M39 0.5H40M41 0.5H42M43 0.5H44M51 0.5H53M63 0.5H64M11 1.5H12M13 1.5H14M23 1.5H24M25 1.5H26M27 1.5H28M33 1.5H34M39 1.5H40M41 1.5H43M50 1.5H51M3 2.5H4M12 2.5H13M18 2.5H19M26 2.5H27M31 2.5H32M39 2.5H40M41 2.5H42M52 2.5H53M59 2.5H62M17 3.5H18M19 3.5H20M30 3.5H31M32 3.5H33M50 3.5H52M58 3.5H59M61 3.5H64M18 4.5H20M31 4.5H32M51 4.5H52M55 4.5H56M59 4.5H61M62 4.5H63M7 5.5H8M20 5.5H21M50 5.5H51M52 5.5H53M56 5.5H57M7 6.5H8M20 6.5H21M32 6.5H33M51 6.5H54M20 7.5H22M31 7.5H32M33 7.5H34M36 7.5H37M53 7.5H55M8 8.5H9M18 8.5H20M21 8.5H22M31 8.5H32M33 8.5H36M37 8.5H38M50 8.5H51M7 9.5H8M9 9.5H10M17 9.5H18M19 9.5H21M31 9.5H32M51 9.5H52M8 10.5H9M15 10.5H17M18 10.5H19M27 10.5H28M29 10.5H30M32 10.5H33M34 10.5H36M57 10.5H58M24 11.5H25M26 11.5H27M30 11.5H31M56 11.5H57M22 12.5H24M25 12.5H28M29 12.5H30M31 12.5H32M54 12.5H55M59 12.5H60M18 13.5H19M21 13.5H22M23 13.5H26M29 13.5H30M32 13.5H34M53 13.5H54M55 13.5H56M58 13.5H59M14 14.5H15M17 14.5H18M21 14.5H23M30 14.5H33M34 14.5H35M37 14.5H38M47 14.5H48M51 14.5H52M54 14.5H55M15 15.5H16M33 15.5H34M36 15.5H37M38 15.5H39M49 15.5H50M52 15.5H53M57 15.5H58M3 16.5H4M19 16.5H20M23 16.5H25M26 16.5H27M37 16.5H39M44 16.5H45M46 16.5H48M56 16.5H57M58 16.5H59M4 17.5H6M7 17.5H8M17 17.5H18M19 17.5H21M23 17.5H24M25 17.5H26M27 17.5H28M29 17.5H30M43 17.5H44M45 17.5H46M48 17.5H49M50 17.5H51M57 17.5H60M3 18.5H5M8 18.5H9M20 18.5H21M24 18.5H25M33 18.5H34M38 18.5H39M40 18.5H41M44 18.5H45M59 18.5H61M5 19.5H6M7 19.5H8M15 19.5H16M19 19.5H20M32 19.5H33M34 19.5H35M39 19.5H40M1 20.5H2M8 20.5H9M14 20.5H15M17 20.5H18M33 20.5H34M48 20.5H50M51 20.5H53M54 20.5H56M1 21.5H2M7 21.5H8M9 21.5H10M14 21.5H15M16 21.5H17M26 21.5H27M48 21.5H49M53 21.5H55M56 21.5H57M7 22.5H9M15 22.5H16M25 22.5H26M27 22.5H28M48 22.5H49M55 22.5H57M8 23.5H9M17 23.5H18M19 23.5H20M26 23.5H27M55 23.5H56M57 23.5H58M62 23.5H63M7 24.5H8M18 24.5H19M20 24.5H21M34 24.5H35M36 24.5H37M56 24.5H57M61 24.5H62M63 24.5H64M19 25.5H20M26 25.5H28M33 25.5H34M37 25.5H38M62 25.5H64M26 26.5H27M28 26.5H29M30 26.5H31M34 26.5H35M36 26.5H37M52 26.5H53M54 26.5H55M60 26.5H61M27 27.5H28M29 27.5H30M31 27.5H32M51 27.5H52M55 27.5H56M59 27.5H60M61 27.5H62M30 28.5H31M51 28.5H52M54 28.5H55M60 28.5H61M12 29.5H13M14 29.5H15M13 30.5H14M35 30.5H36M1 31.5H2M6 31.5H7M34 31.5H35M36 31.5H37M53 31.5H54M0 32.5H1M2 32.5H3M5 32.5H6M7 32.5H8M11 32.5H12M17 32.5H18M34 32.5H35M36 32.5H37M44 32.5H45M52 32.5H53M54 32.5H55M1 33.5H3M6 33.5H7M10 33.5H11M12 33.5H13M15 33.5H16M39 33.5H40M43 33.5H44M53 33.5H54M1 34.5H2M3 34.5H5M10 34.5H11M14 34.5H15M17 34.5H18M44 34.5H46M1 35.5H4M5 35.5H6M12 35.5H13M15 35.5H16M40 35.5H42M44 35.5H45M47 35.5H48M62 35.5H63M4 36.5H5M11 36.5H12M40 36.5H41M42 36.5H43M48 36.5H49M51 36.5H53M63 36.5H64M2 37.5H3M41 37.5H43M48 37.5H49M56 37.5H57M63 37.5H64M41 38.5H42M47 38.5H48M49 38.5H50M55 38.5H56M57 38.5H58M60 38.5H61M1 39.5H3M42 39.5H43M50 39.5H51M0 40.5H1M2 40.5H3M36 40.5H37M48 40.5H49M55 40.5H56M57 40.5H58M1 41.5H2M20 41.5H22M25 41.5H26M27 41.5H28M44 41.5H45M47 41.5H48M49 41.5H50M56 41.5H57M9 42.5H11M19 42.5H20M24 42.5H25M28 42.5H30M38 42.5H39M40 42.5H41M43 42.5H44M0 43.5H1M2 43.5H3M7 43.5H8M25 43.5H27M30 43.5H31M36 43.5H39M40 43.5H41M46 43.5H47M3 44.5H4M7 44.5H9M26 44.5H27M28 44.5H30M34 44.5H35M38 44.5H41M46 44.5H47M63 44.5H64M27 45.5H28M34 45.5H36M49 45.5H50M1 46.5H2M4 46.5H5M13 46.5H14M15 46.5H16M36 46.5H37M48 46.5H49M50 46.5H52M61 46.5H62M0 47.5H1M3 47.5H4M13 47.5H14M15 47.5H16M19 47.5H20M21 47.5H22M35 47.5H36M37 47.5H39M49 47.5H51M60 47.5H61M62 47.5H63M0 48.5H1M2 48.5H3M36 48.5H38M61 48.5H62M1 49.5H2M3 49.5H4M6 49.5H7M19 49.5H20M21 49.5H22M30 49.5H31M2 50.5H3M4 50.5H5M7 50.5H8M14 50.5H15M19 50.5H20M21 50.5H23M29 50.5H30M31 50.5H32M3 51.5H5M13 51.5H14M15 51.5H16M18 51.5H19M23 51.5H24M30 51.5H31M32 51.5H33M14 52.5H15M19 52.5H21M28 52.5H29M30 52.5H32M33 52.5H35M61 52.5H62M6 53.5H7M22 53.5H23M27 53.5H28M32 53.5H33M35 53.5H37M57 53.5H58M61 53.5H62M5 54.5H6M19 54.5H20M28 54.5H29M32 54.5H33M35 54.5H36M58 54.5H59M8 55.5H9M20 55.5H21M36 55.5H37M9 56.5H11M18 56.5H20M34 56.5H35M9 57.5H10M17 57.5H18M20 57.5H21M31 57.5H32M37 57.5H38M7 58.5H8M18 58.5H21M31 58.5H32M36 58.5H38M30 59.5H32M37 59.5H40M52 59.5H53M4 60.5H5M9 60.5H10M38 60.5H39M40 60.5H41M45 60.5H46M51 60.5H52M53 60.5H54M3 61.5H4M5 61.5H7M10 61.5H11M35 61.5H36M37 61.5H38M39 61.5H40M41 61.5H43M52 61.5H53M3 62.5H5M9 62.5H10M21 62.5H22M36 62.5H37M40 62.5H41M42 62.5H46M0 63.5H1M20 63.5H21M23 63.5H24M33 63.5H34M41 63.5H44M53 63.5H54" stroke="#d4d4d4" stroke-width="1"/><path d="M22 0.5H23M38 0.5H39M54 0.5H55M52 1.5H54M2 2.5H3M7 2.5H8M50 2.5H51M48 3.5H49M59 3.5H60M47 4.5H48M49 4.5H50M6 5.5H7M19 5.5H20M48 5.5H49M54 5.5H55M8 6.5H10M21 6.5H22M55 6.5H56M43 7.5H44M52 7.5H53M30 8.5H31M15 9.5H16M33 9.5H34M35 9.5H37M1 10.5H2M36 10.5H37M48 10.5H49M50 10.5H51M16 11.5H17M28 11.5H29M30 12.5H31M27 13.5H28M15 14.5H16M26 14.5H27M28 14.5H29M46 14.5H47M20 15.5H21M45 15.5H46M47 15.5H49M50 15.5H51M21 16.5H22M28 16.5H29M39 16.5H40M49 16.5H50M51 16.5H52M2 17.5H3M22 17.5H23M39 17.5H40M10 18.5H11M16 18.5H17M16 19.5H17M18 19.5H19M48 19.5H49M16 20.5H17M53 20.5H54M2 21.5H3M49 21.5H51M52 21.5H53M16 22.5H18M47 22.5H48M51 22.5H52M6 23.5H7M41 24.5H42M2 25.5H3M63 26.5H64M13 28.5H14M35 28.5H36M53 28.5H54M39 32.5H40M43 32.5H44M16 33.5H17M18 33.5H20M44 33.5H45M16 34.5H17M40 34.5H41M10 35.5H11M36 35.5H37M52 35.5H53M1 36.5H2M35 36.5H36M45 36.5H46M60 36.5H62M36 37.5H37M52 37.5H53M59 37.5H60M61 37.5H62M2 38.5H3M43 38.5H45M52 38.5H53M56 39.5H57M13 41.5H14M18 41.5H19M35 41.5H36M37 41.5H40M52 41.5H53M8 42.5H9M17 42.5H18M21 42.5H22M26 42.5H27M36 42.5H37M39 42.5H40M45 42.5H46M48 42.5H49M9 43.5H10M11 43.5H12M18 43.5H19M27 43.5H29M35 43.5H36M44 43.5H45M47 43.5H48M63 43.5H64M0 44.5H2M10 44.5H11M36 44.5H37M48 44.5H49M2 45.5H4M41 45.5H42M2 46.5H3M2 47.5H3M20 48.5H21M39 48.5H40M38 49.5H39M5 50.5H6M20 50.5H21M23 50.5H24M5 51.5H7M20 51.5H21M22 51.5H23M5 52.5H6M21 52.5H22M39 52.5H40M58 52.5H59M60 52.5H61M62 52.5H63M4 53.5H5M20 53.5H21M29 53.5H30M31 53.5H32M33 53.5H34M21 54.5H22M30 54.5H31M33 54.5H35M32 55.5H33M34 55.5H35M6 57.5H7M33 57.5H34M36 57.5H37M21 58.5H22M36 59.5H37M31 60.5H32M36 60.5H37M8 61.5H9M44 61.5H45M2 62.5H3M22 63.5H23M44 63.5H45" stroke="#bfbfbf" stroke-width="1"/><path d="M16 0.5H17M40 1.5H41M54 1.5H55M4 2.5H5M40 2.5H41M58 2.5H59M62 2.5H63M49 3.5H50M63 4.5H64M47 5.5H48M59 5.5H60M10 6.5H11M13 7.5H14M26 8.5H27M32 8.5H33M32 9.5H33M48 9.5H50M55 9.5H56M27 11.5H28M58 11.5H59M57 12.5H58M6 13.5H7M22 13.5H23M54 13.5H55M62 13.5H63M20 14.5H21M48 14.5H49M14 15.5H15M18 15.5H19M22 16.5H23M1 17.5H2M21 17.5H22M30 17.5H31M60 17.5H61M6 18.5H7M18 18.5H19M58 18.5H59M0 20.5H1M8 21.5H9M36 21.5H37M51 21.5H52M21 22.5H22M52 22.5H53M5 23.5H6M16 23.5H17M56 23.5H57M62 24.5H63M25 25.5H26M35 25.5H36M13 27.5H14M30 27.5H31M53 27.5H55M60 27.5H61M13 29.5H14M38 29.5H39M55 30.5H56M49 31.5H50M1 32.5H2M22 33.5H23M11 34.5H12M55 34.5H56M9 35.5H10M35 35.5H36M46 35.5H47M48 35.5H49M36 36.5H37M41 36.5H42M47 36.5H48M59 36.5H60M46 37.5H47M50 37.5H51M10 38.5H11M14 38.5H15M36 38.5H37M42 38.5H43M4 40.5H5M20 40.5H21M56 40.5H57M8 41.5H9M17 41.5H18M40 41.5H41M48 41.5H49M25 42.5H26M45 43.5H46M48 43.5H49M6 44.5H7M18 44.5H19M37 44.5H38M41 44.5H42M47 44.5H48M33 45.5H34M57 45.5H58M41 46.5H42M20 47.5H21M36 47.5H37M51 47.5H52M39 49.5H40M3 50.5H4M27 50.5H28M47 50.5H48M11 51.5H12M14 51.5H15M19 51.5H20M21 51.5H22M22 52.5H23M32 52.5H33M59 52.5H60M3 53.5H4M59 53.5H61M31 54.5H32M36 54.5H37M7 56.5H8M32 56.5H33M5 57.5H6M8 57.5H9M10 57.5H11M32 57.5H33M13 58.5H14M30 58.5H31M38 58.5H39M4 61.5H5M7 61.5H8M9 61.5H10M43 61.5H44M45 61.5H46M63 63.5H64" stroke="#aaaaaa" stroke-width="1"/><path d="M23 0.5H24M33 0.5H34M42 0.5H43M53 0.5H54M12 1.5H13M26 1.5H27M18 3.5H19M31 3.5H32M51 5.5H52M55 5.5H56M54 6.5H55M32 7.5H33M20 8.5H21M36 8.5H37M8 9.5H9M18 9.5H19M34 9.5H35M50 9.5H51M49 10.5H50M29 11.5H30M24 12.5H25M26 13.5H27M31 13.5H32M18 14.5H20M27 14.5H28M33 14.5H34M45 14.5H46M27 15.5H29M37 15.5H38M46 15.5H47M51 15.5H52M27 16.5H28M48 16.5H49M50 16.5H51M57 16.5H58M3 17.5H4M24 17.5H25M44 17.5H45M5 18.5H6M7 18.5H8M19 18.5H20M39 18.5H40M33 19.5H34M55 21.5H56M26 22.5H27M7 23.5H8M19 24.5H20M34 25.5H35M36 25.5H37M27 26.5H28M6 32.5H7M35 32.5H36M53 32.5H54M11 33.5H12M17 33.5H18M2 34.5H3M15 34.5H16M4 35.5H5M11 35.5H12M45 35.5H46M60 37.5H61M62 37.5H63M51 38.5H52M56 38.5H57M1 40.5H2M27 42.5H28M35 42.5H36M44 42.5H45M8 43.5H9M10 43.5H11M29 43.5H30M39 43.5H40M2 44.5H3M11 44.5H12M27 44.5H28M35 44.5H36M3 46.5H4M14 46.5H15M49 46.5H50M14 47.5H15M61 47.5H62M38 48.5H39M20 49.5H21M6 50.5H7M30 50.5H31M5 53.5H6M21 53.5H22M28 53.5H29M30 53.5H31M34 53.5H35M58 53.5H59M20 54.5H21M19 57.5H20M39 60.5H40M52 60.5H53M36 61.5H37M41 62.5H42M21 63.5H22" stroke="#959595" stroke-width="1"/><path d="M51 1.5H52M51 2.5H52M60 3.5H61M48 4.5H49M57 11.5H58M58 12.5H59M30 13.5H31M19 15.5H20M17 18.5H18M17 19.5H18M15 20.5H16M15 21.5H16M52 27.5H53M52 28.5H53M35 31.5H36M46 36.5H47M62 36.5H63M47 37.5H48M51 37.5H52M50 38.5H51M36 41.5H37M18 42.5H19M1 47.5H2M1 48.5H2M33 55.5H34M8 56.5H9M33 56.5H34M7 57.5H8M18 57.5H19" stroke="#808080" stroke-width="1"/></pattern>
</defs>
<rect width="848" height="1200" fill="#fff"/>
<g><polygon points="250.67,232.03 342.31,271.25 318.55,365.59 218.66,356.13" fill="url(#stip)"/>
<polygon points="243.6,229 349.2,274.2 326,366.3 211,355.4" fill="none" stroke="#383838" stroke-width="1.4" stroke-linejoin="round"/>
<line x1="245.37" y1="229.76" x2="212.92" y2="355.58" stroke="#383838" stroke-width="1.1"/>
<line x1="250.67" y1="232.03" x2="218.66" y2="356.13" stroke="#383838" stroke-width="1.1"/>
<line x1="347.43" y1="273.44" x2="324.09" y2="366.12" stroke="#383838" stroke-width="1.1"/>
<line x1="342.31" y1="271.25" x2="318.55" y2="365.59" stroke="#383838" stroke-width="1.1"/>
<rect x="258.4" y="343.2" width="22.6" height="5.2" fill="#fff"/>
<text x="0" y="0" text-anchor="middle" font-family="Liberation Sans" font-weight="bold" font-size="7.4" fill="#000" stroke="#000" stroke-width="0.9" transform="translate(269.7,348.1) scale(0.72,0.88)">ARCHER</text>
<path d="M255.6 348.9 L283 350.2 Q284.4 350.4 284 351.2 L255.4 350.9 Q254.2 350.6 255.6 348.9 Z" fill="#fff" stroke="#222" stroke-width="0.9"/>
<path d="M250.6 359.2 Q252.6 368 251.8 384 Q251.5 389.8 256 390.2 L277.5 390.6 Q281.2 390.6 281.3 386 Q281.5 370 284.8 362.5" fill="url(#stip2)" stroke="#505050" stroke-width="1.1"/>
<rect x="262.3" y="380.4" width="8.6" height="9.4" rx="1.2" fill="#fff" stroke="#383838" stroke-width="2"/>
<polygon points="258.6,389 273.2,389.4 272.4,392 259.6,391.6" fill="#fff" stroke="#383838" stroke-width="1.1"/><path d="M259.3 392.4 Q261.2 404.5 258.5 414.3 L214.4 587 Q211.7 593 211.7 598 L211.7 603" fill="none" stroke="#383838" stroke-width="5.4" stroke-linejoin="round"/>
<path d="M259.3 392.4 Q261.2 404.5 258.5 414.3 L214.4 587 Q211.7 593 211.7 598 L211.7 603" fill="none" stroke="#fff" stroke-width="2.8" stroke-linejoin="round"/>
<polygon points="261.5,392 271,392 329,582.5 318.5,582.5" fill="#fff" stroke="#383838" stroke-width="1.4"/>
<rect x="318" y="581.3" width="12.6" height="2.2" rx="0.6" fill="#fff" stroke="#444" stroke-width="0.8"/></g>
<g transform="translate(0,1241) scale(1,-1)"><polygon points="250.67,232.03 342.31,271.25 318.55,365.59 218.66,356.13" fill="url(#stip)"/>
<polygon points="243.6,229 349.2,274.2 326,366.3 211,355.4" fill="none" stroke="#383838" stroke-width="1.4" stroke-linejoin="round"/>
<line x1="245.37" y1="229.76" x2="212.92" y2="355.58" stroke="#383838" stroke-width="1.1"/>
<line x1="250.67" y1="232.03" x2="218.66" y2="356.13" stroke="#383838" stroke-width="1.1"/>
<line x1="347.43" y1="273.44" x2="324.09" y2="366.12" stroke="#383838" stroke-width="1.1"/>
<line x1="342.31" y1="271.25" x2="318.55" y2="365.59" stroke="#383838" stroke-width="1.1"/>
<rect x="258.4" y="343.2" width="22.6" height="5.2" fill="#fff"/>
<text x="0" y="0" text-anchor="middle" font-family="Liberation Sans" font-weight="bold" font-size="7.4" fill="#000" stroke="#000" stroke-width="0.9" transform="translate(269.7,348.1) scale(0.72,0.88)">ARCHER</text>
<path d="M255.6 348.9 L283 350.2 Q284.4 350.4 284 351.2 L255.4 350.9 Q254.2 350.6 255.6 348.9 Z" fill="#fff" stroke="#222" stroke-width="0.9"/>
<path d="M250.6 359.2 Q252.6 368 251.8 384 Q251.5 389.8 256 390.2 L277.5 390.6 Q281.2 390.6 281.3 386 Q281.5 370 284.8 362.5" fill="url(#stip2)" stroke="#505050" stroke-width="1.1"/>
<rect x="262.3" y="380.4" width="8.6" height="9.4" rx="1.2" fill="#fff" stroke="#383838" stroke-width="2"/>
<polygon points="258.6,389 273.2,389.4 272.4,392 259.6,391.6" fill="#fff" stroke="#383838" stroke-width="1.1"/><path d="M259.3 392.4 Q261.2 404.5 258.5 414.3 L214.4 587 Q211.7 593 211.7 598 L211.7 603" fill="none" stroke="#383838" stroke-width="5.4" stroke-linejoin="round"/>
<path d="M259.3 392.4 Q261.2 404.5 258.5 414.3 L214.4 587 Q211.7 593 211.7 598 L211.7 603" fill="none" stroke="#fff" stroke-width="2.8" stroke-linejoin="round"/>
<polygon points="261.5,392 271,392 329,582.5 318.5,582.5" fill="#fff" stroke="#383838" stroke-width="1.4"/>
<rect x="318" y="581.3" width="12.6" height="2.2" rx="0.6" fill="#fff" stroke="#444" stroke-width="0.8"/></g>
<rect x="206.3" y="602.2" width="10.2" height="37.2" fill="#fff" stroke="#383838" stroke-width="1.4"/>
<path d="M209.6 602.2 V609 Q211.5 612 213.5 609 V602.2" fill="none" stroke="#383838" stroke-width="1.4"/>
<path d="M209.6 639.4 V632.5 Q211.5 629.5 213.5 632.5 V639.4" fill="none" stroke="#383838" stroke-width="1.4"/>
<path d="M314.5 583 H334.2 V658 H314.5 Q309.6 658 309.6 653 V588 Q309.6 583 314.5 583 Z" fill="#fff" stroke="#383838" stroke-width="1.4"/>
<rect x="334.2" y="582.4" width="4.4" height="76.2" fill="#fff" stroke="#383838" stroke-width="1.3"/>
<line x1="338.6" y1="582.4" x2="338.6" y2="658.6" stroke="#383838" stroke-width="1.8"/>
<rect x="303.8" y="613.4" width="5.8" height="14.2" fill="#fff" stroke="#383838" stroke-width="1.3"/>
<path d="M319.4 583.4 V591.6 Q319.4 592.2 320 592.2 H327.3 Q327.9 592.2 327.9 591.6 V583.4" fill="none" stroke="#383838" stroke-width="1.6"/>
<path d="M319.4 657.6 V649.4 Q319.4 648.8 320 648.8 H327.3 Q327.9 648.8 327.9 649.4 V657.6" fill="none" stroke="#383838" stroke-width="1.6"/>
<rect x="338.8" y="613.8" width="4.2" height="13.6" fill="#fff" stroke="#383838" stroke-width="1.4"/>
<rect x="343" y="614.6" width="274" height="12" fill="#fff" stroke="#383838" stroke-width="1.4"/>
<rect x="617" y="613.7" width="4.4" height="13.6" fill="#fff" stroke="#383838" stroke-width="1.4"/>
<line x1="622.2" y1="566.4" x2="622.2" y2="677.6" stroke="#b0b0b0" stroke-width="1.6"/>
<path d="M621.6 565.8 H645.4 V678.2 H621.6" fill="none" stroke="#383838" stroke-width="1.4"/>
<path d="M645.2 565.8 H675.6 M645.2 678.2 H675.6 M674.6 565.8 V678.2" stroke="#383838" stroke-width="1.3"/>
<polygon points="674.6,566.4 676.3,575.4 672.9,575.4" fill="#1e1e1e"/>
<polygon points="674.6,677.6 672.9,668.6 676.3,668.6" fill="#1e1e1e"/>
<path d="M622.4 678 V712.4 M645.4 678 V712.4 M622.4 711.3 H645.4" stroke="#383838" stroke-width="1.3"/>
<polygon points="623,711.3 630,709.9 630,712.7" fill="#1e1e1e"/>
<polygon points="644.8,711.3 637.8,712.7 637.8,709.9" fill="#1e1e1e"/>
<line x1="109.5" y1="229" x2="109.5" y2="1012.8" stroke="#8a8a8a" stroke-width="1.1"/>
<line x1="109.5" y1="228.9" x2="221" y2="228.9" stroke="#b4b4b4" stroke-width="1.8"/>
<line x1="109" y1="1012.8" x2="211" y2="1012.8" stroke="#555" stroke-width="1.3"/>
<line x1="210.6" y1="1012.2" x2="210.6" y2="1079.2" stroke="#555" stroke-width="1.3"/>
<polygon points="109.5,229.3 111.1,238.3 107.9,238.3" fill="#333"/>
<polygon points="109.5,1012.3 107.9,1003.3 111.1,1003.3" fill="#333"/>
<line x1="210" y1="1078.5" x2="645.5" y2="1078.5" stroke="#4a4a4a" stroke-width="1.3"/>
<line x1="645.5" y1="914.2" x2="645.5" y2="1079.2" stroke="#4a4a4a" stroke-width="1.4"/>
<polygon points="211.2,1078.5 220.2,1076.8 220.2,1080.2" fill="#1e1e1e"/>
<polygon points="644.8,1078.5 635.8,1080.2 635.8,1076.8" fill="#1e1e1e"/>
<g transform="translate(112.9,610.2) rotate(90)"><circle cx="6.4" cy="-9.6" r="5.2" fill="none" stroke="#111" stroke-width="1.9"/><line x1="0.6" y1="-3.6" x2="12.3" y2="-15.6" stroke="#111" stroke-width="1.9"/><text x="0" y="0" font-family="Liberation Serif" fill="#111" stroke="#111" stroke-width="0.35" font-size="28" transform="translate(13.6,0) scale(0.92,1)">830</text></g>
<g transform="translate(677.9,595.8) rotate(90)"><circle cx="6.4" cy="-9.6" r="5.2" fill="none" stroke="#111" stroke-width="1.9"/><line x1="0.6" y1="-3.6" x2="12.3" y2="-15.6" stroke="#111" stroke-width="1.9"/><text x="0" y="0" font-family="Liberation Serif" fill="#111" stroke="#111" stroke-width="0.35" font-size="28" transform="translate(13.6,0) scale(0.92,1)">120</text></g>
<g transform="translate(386.6,1075) rotate(0) scale(0.95,1)"><text x="0" y="0" text-anchor="middle" font-family="Liberation Serif" fill="#111" stroke="#111" stroke-width="0.35" font-size="28">470</text></g>
<g transform="translate(634.2,707.5) rotate(0) scale(0.95,1)"><text x="0" y="0" text-anchor="middle" font-family="Liberation Serif" fill="#111" stroke="#111" stroke-width="0.35" font-size="28">25</text></g>
<line x1="203.3" y1="887.2" x2="183.1" y2="892.5" stroke="#383838" stroke-width="1.3"/><line x1="183.1" y1="892.5" x2="215.4" y2="1018.9" stroke="#383838" stroke-width="1.3"/><line x1="215.4" y1="1018.9" x2="236.3" y2="1014.6" stroke="#383838" stroke-width="1.3"/><polygon points="183.1,892.5 186.98,900.8 183.68,901.64" fill="#1e1e1e"/><polygon points="215.4,1018.9 211.52,1010.6 214.82,1009.76" fill="#1e1e1e"/>
<line x1="334.5" y1="871.5" x2="353.5" y2="867" stroke="#383838" stroke-width="1.3"/><line x1="353.5" y1="867" x2="377.5" y2="959.5" stroke="#383838" stroke-width="1.3"/><line x1="377.5" y1="959.5" x2="358.5" y2="964.5" stroke="#383838" stroke-width="1.3"/><polygon points="353.5,867 357.41,875.28 354.11,876.14" fill="#1e1e1e"/><polygon points="377.5,959.5 373.59,951.22 376.89,950.36" fill="#1e1e1e"/>
<line x1="247.7" y1="1018.3" x2="255.3" y2="1035.1" stroke="#383838" stroke-width="1.3"/><line x1="255.3" y1="1035.1" x2="359.6" y2="989.9" stroke="#383838" stroke-width="1.3"/><line x1="359.6" y1="989.9" x2="352.7" y2="973" stroke="#383838" stroke-width="1.3"/><polygon points="255.3,1035.1 262.88,1029.96 264.23,1033.08" fill="#1e1e1e"/><polygon points="359.6,989.9 352.02,995.04 350.67,991.92" fill="#1e1e1e"/>
<g transform="translate(196.33,930.13) rotate(75.67)"><circle cx="6.4" cy="-9.6" r="5.2" fill="none" stroke="#111" stroke-width="1.9"/><line x1="0.6" y1="-3.6" x2="12.3" y2="-15.6" stroke="#111" stroke-width="1.9"/><text x="0" y="0" font-family="Liberation Serif" fill="#111" stroke="#111" stroke-width="0.35" font-size="28" transform="translate(13.6,0) scale(0.92,1)">140</text></g>
<g transform="translate(362.99,889.62) rotate(75.45)"><circle cx="6.4" cy="-9.6" r="5.2" fill="none" stroke="#111" stroke-width="1.9"/><line x1="0.6" y1="-3.6" x2="12.3" y2="-15.6" stroke="#111" stroke-width="1.9"/><text x="0" y="0" font-family="Liberation Serif" fill="#111" stroke="#111" stroke-width="0.35" font-size="28" transform="translate(13.6,0) scale(0.92,1)">100</text></g>
<g transform="translate(319.12,1011.26) rotate(156.57) scale(0.95,1)"><text x="0" y="0" text-anchor="middle" font-family="Liberation Serif" fill="#111" stroke="#111" stroke-width="0.35" font-size="28">120</text></g>
</svg></body></html>
